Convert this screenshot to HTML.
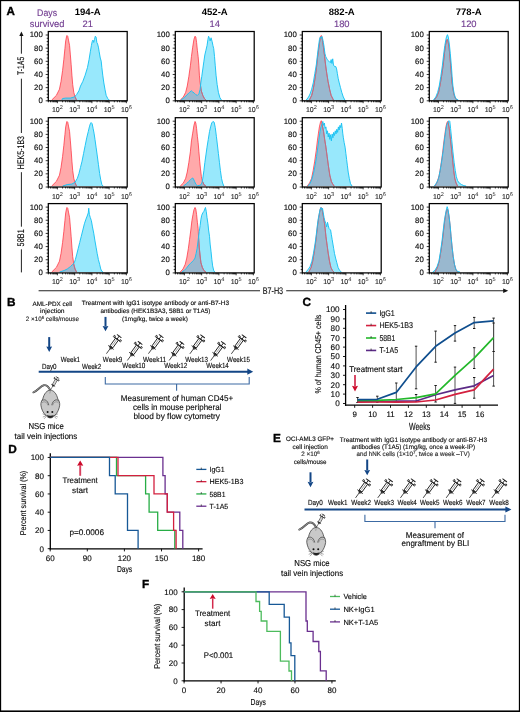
<!DOCTYPE html>
<html><head><meta charset="utf-8"><style>
html,body{margin:0;padding:0;background:#fff;}
svg{display:block;font-family:"Liberation Sans",sans-serif;text-rendering:geometricPrecision;}
</style></head><body>
<svg style="will-change:transform" width="520" height="712" viewBox="0 0 520 712">
<rect width="520" height="712" fill="#fff"/>
<rect x="0.5" y="0.5" width="519" height="711" fill="none" stroke="#000" stroke-width="1.3"/>
<line x1="0" y1="711.2" x2="520" y2="711.2" stroke="#000" stroke-width="1.6"/>
<text x="6.60" y="14.90" font-size="11.6" font-weight="bold" fill="#000" stroke="#000" stroke-width="0.35">A</text>
<text x="37.10" y="15.80" font-size="9.6" fill="#713c90" stroke="#713c90" stroke-width="0.14" textLength="19.90" lengthAdjust="spacingAndGlyphs" >Days</text>
<text x="29.80" y="27.10" font-size="9.6" fill="#713c90" stroke="#713c90" stroke-width="0.14" textLength="34.60" lengthAdjust="spacingAndGlyphs" >survived</text>
<text x="87.75" y="15.20" font-size="9.4" text-anchor="middle" font-weight="bold" fill="#000" textLength="26.00" lengthAdjust="spacingAndGlyphs" >194-A</text>
<text x="87.75" y="27.30" font-size="9.4" text-anchor="middle" fill="#713c90" stroke="#713c90" stroke-width="0.14" >21</text>
<text x="214.75" y="15.20" font-size="9.4" text-anchor="middle" font-weight="bold" fill="#000" textLength="26.00" lengthAdjust="spacingAndGlyphs" >452-A</text>
<text x="214.75" y="27.30" font-size="9.4" text-anchor="middle" fill="#713c90" stroke="#713c90" stroke-width="0.14" >14</text>
<text x="341.75" y="15.20" font-size="9.4" text-anchor="middle" font-weight="bold" fill="#000" textLength="26.00" lengthAdjust="spacingAndGlyphs" >882-A</text>
<text x="341.75" y="27.30" font-size="9.4" text-anchor="middle" fill="#713c90" stroke="#713c90" stroke-width="0.14" >180</text>
<text x="468.75" y="15.20" font-size="9.4" text-anchor="middle" font-weight="bold" fill="#000" textLength="26.00" lengthAdjust="spacingAndGlyphs" >778-A</text>
<text x="468.75" y="27.30" font-size="9.4" text-anchor="middle" fill="#713c90" stroke="#713c90" stroke-width="0.14" >120</text>
<line x1="45.70" y1="100.80" x2="48.30" y2="100.80" stroke="#000" stroke-width="0.8" />
<line x1="46.70" y1="97.51" x2="48.30" y2="97.51" stroke="#000" stroke-width="0.8" />
<line x1="46.70" y1="94.22" x2="48.30" y2="94.22" stroke="#000" stroke-width="0.8" />
<line x1="46.70" y1="90.93" x2="48.30" y2="90.93" stroke="#000" stroke-width="0.8" />
<line x1="45.70" y1="87.64" x2="48.30" y2="87.64" stroke="#000" stroke-width="0.8" />
<line x1="46.70" y1="84.35" x2="48.30" y2="84.35" stroke="#000" stroke-width="0.8" />
<line x1="46.70" y1="81.06" x2="48.30" y2="81.06" stroke="#000" stroke-width="0.8" />
<line x1="46.70" y1="77.77" x2="48.30" y2="77.77" stroke="#000" stroke-width="0.8" />
<line x1="45.70" y1="74.48" x2="48.30" y2="74.48" stroke="#000" stroke-width="0.8" />
<line x1="46.70" y1="71.19" x2="48.30" y2="71.19" stroke="#000" stroke-width="0.8" />
<line x1="46.70" y1="67.90" x2="48.30" y2="67.90" stroke="#000" stroke-width="0.8" />
<line x1="46.70" y1="64.61" x2="48.30" y2="64.61" stroke="#000" stroke-width="0.8" />
<line x1="45.70" y1="61.32" x2="48.30" y2="61.32" stroke="#000" stroke-width="0.8" />
<line x1="46.70" y1="58.03" x2="48.30" y2="58.03" stroke="#000" stroke-width="0.8" />
<line x1="46.70" y1="54.74" x2="48.30" y2="54.74" stroke="#000" stroke-width="0.8" />
<line x1="46.70" y1="51.45" x2="48.30" y2="51.45" stroke="#000" stroke-width="0.8" />
<line x1="45.70" y1="48.16" x2="48.30" y2="48.16" stroke="#000" stroke-width="0.8" />
<line x1="46.70" y1="44.87" x2="48.30" y2="44.87" stroke="#000" stroke-width="0.8" />
<line x1="46.70" y1="41.58" x2="48.30" y2="41.58" stroke="#000" stroke-width="0.8" />
<line x1="46.70" y1="38.29" x2="48.30" y2="38.29" stroke="#000" stroke-width="0.8" />
<line x1="45.70" y1="35.00" x2="48.30" y2="35.00" stroke="#000" stroke-width="0.8" />
<text x="42.80" y="103.25" font-size="7.8" text-anchor="end" stroke="#262626" stroke-width="0.14" >0</text>
<text x="42.80" y="90.09" font-size="7.8" text-anchor="end" stroke="#262626" stroke-width="0.14" >20</text>
<text x="42.80" y="76.93" font-size="7.8" text-anchor="end" stroke="#262626" stroke-width="0.14" >40</text>
<text x="42.80" y="63.77" font-size="7.8" text-anchor="end" stroke="#262626" stroke-width="0.14" >60</text>
<text x="42.80" y="50.61" font-size="7.8" text-anchor="end" stroke="#262626" stroke-width="0.14" >80</text>
<text x="42.80" y="37.45" font-size="7.8" text-anchor="end" stroke="#262626" stroke-width="0.14" >100</text>
<line x1="48.38" y1="100.80" x2="48.38" y2="102.30" stroke="#000" stroke-width="0.8" />
<line x1="50.54" y1="100.80" x2="50.54" y2="102.30" stroke="#000" stroke-width="0.8" />
<line x1="52.21" y1="100.80" x2="52.21" y2="102.30" stroke="#000" stroke-width="0.8" />
<line x1="53.57" y1="100.80" x2="53.57" y2="102.30" stroke="#000" stroke-width="0.8" />
<line x1="54.73" y1="100.80" x2="54.73" y2="102.30" stroke="#000" stroke-width="0.8" />
<line x1="55.73" y1="100.80" x2="55.73" y2="102.30" stroke="#000" stroke-width="0.8" />
<line x1="56.61" y1="100.80" x2="56.61" y2="102.30" stroke="#000" stroke-width="0.8" />
<line x1="57.40" y1="100.80" x2="57.40" y2="103.20" stroke="#000" stroke-width="0.8" />
<line x1="62.59" y1="100.80" x2="62.59" y2="102.30" stroke="#000" stroke-width="0.8" />
<line x1="65.63" y1="100.80" x2="65.63" y2="102.30" stroke="#000" stroke-width="0.8" />
<line x1="67.79" y1="100.80" x2="67.79" y2="102.30" stroke="#000" stroke-width="0.8" />
<line x1="69.46" y1="100.80" x2="69.46" y2="102.30" stroke="#000" stroke-width="0.8" />
<line x1="70.82" y1="100.80" x2="70.82" y2="102.30" stroke="#000" stroke-width="0.8" />
<line x1="71.98" y1="100.80" x2="71.98" y2="102.30" stroke="#000" stroke-width="0.8" />
<line x1="72.98" y1="100.80" x2="72.98" y2="102.30" stroke="#000" stroke-width="0.8" />
<line x1="73.86" y1="100.80" x2="73.86" y2="102.30" stroke="#000" stroke-width="0.8" />
<line x1="74.65" y1="100.80" x2="74.65" y2="103.20" stroke="#000" stroke-width="0.8" />
<line x1="79.84" y1="100.80" x2="79.84" y2="102.30" stroke="#000" stroke-width="0.8" />
<line x1="82.88" y1="100.80" x2="82.88" y2="102.30" stroke="#000" stroke-width="0.8" />
<line x1="85.04" y1="100.80" x2="85.04" y2="102.30" stroke="#000" stroke-width="0.8" />
<line x1="86.71" y1="100.80" x2="86.71" y2="102.30" stroke="#000" stroke-width="0.8" />
<line x1="88.07" y1="100.80" x2="88.07" y2="102.30" stroke="#000" stroke-width="0.8" />
<line x1="89.23" y1="100.80" x2="89.23" y2="102.30" stroke="#000" stroke-width="0.8" />
<line x1="90.23" y1="100.80" x2="90.23" y2="102.30" stroke="#000" stroke-width="0.8" />
<line x1="91.11" y1="100.80" x2="91.11" y2="102.30" stroke="#000" stroke-width="0.8" />
<line x1="91.90" y1="100.80" x2="91.90" y2="103.20" stroke="#000" stroke-width="0.8" />
<line x1="97.09" y1="100.80" x2="97.09" y2="102.30" stroke="#000" stroke-width="0.8" />
<line x1="100.13" y1="100.80" x2="100.13" y2="102.30" stroke="#000" stroke-width="0.8" />
<line x1="102.29" y1="100.80" x2="102.29" y2="102.30" stroke="#000" stroke-width="0.8" />
<line x1="103.96" y1="100.80" x2="103.96" y2="102.30" stroke="#000" stroke-width="0.8" />
<line x1="105.32" y1="100.80" x2="105.32" y2="102.30" stroke="#000" stroke-width="0.8" />
<line x1="106.48" y1="100.80" x2="106.48" y2="102.30" stroke="#000" stroke-width="0.8" />
<line x1="107.48" y1="100.80" x2="107.48" y2="102.30" stroke="#000" stroke-width="0.8" />
<line x1="108.36" y1="100.80" x2="108.36" y2="102.30" stroke="#000" stroke-width="0.8" />
<line x1="109.15" y1="100.80" x2="109.15" y2="103.20" stroke="#000" stroke-width="0.8" />
<line x1="114.34" y1="100.80" x2="114.34" y2="102.30" stroke="#000" stroke-width="0.8" />
<line x1="117.38" y1="100.80" x2="117.38" y2="102.30" stroke="#000" stroke-width="0.8" />
<line x1="119.54" y1="100.80" x2="119.54" y2="102.30" stroke="#000" stroke-width="0.8" />
<line x1="121.21" y1="100.80" x2="121.21" y2="102.30" stroke="#000" stroke-width="0.8" />
<line x1="122.57" y1="100.80" x2="122.57" y2="102.30" stroke="#000" stroke-width="0.8" />
<line x1="123.73" y1="100.80" x2="123.73" y2="102.30" stroke="#000" stroke-width="0.8" />
<line x1="124.73" y1="100.80" x2="124.73" y2="102.30" stroke="#000" stroke-width="0.8" />
<line x1="125.61" y1="100.80" x2="125.61" y2="102.30" stroke="#000" stroke-width="0.8" />
<line x1="126.40" y1="100.80" x2="126.40" y2="103.20" stroke="#000" stroke-width="0.8" />
<text x="57.40" y="112.30" font-size="7.0" text-anchor="middle" fill="#262626" stroke="#262626" stroke-width="0.14">10<tspan dy="-3" font-size="5.6" stroke-width="0">2</tspan></text>
<text x="74.65" y="112.30" font-size="7.0" text-anchor="middle" fill="#262626" stroke="#262626" stroke-width="0.14">10<tspan dy="-3" font-size="5.6" stroke-width="0">3</tspan></text>
<text x="91.90" y="112.30" font-size="7.0" text-anchor="middle" fill="#262626" stroke="#262626" stroke-width="0.14">10<tspan dy="-3" font-size="5.6" stroke-width="0">4</tspan></text>
<text x="109.15" y="112.30" font-size="7.0" text-anchor="middle" fill="#262626" stroke="#262626" stroke-width="0.14">10<tspan dy="-3" font-size="5.6" stroke-width="0">5</tspan></text>
<text x="126.40" y="112.30" font-size="7.0" text-anchor="middle" fill="#262626" stroke="#262626" stroke-width="0.14">10<tspan dy="-3" font-size="5.6" stroke-width="0">6</tspan></text>
<line x1="45.70" y1="187.00" x2="48.30" y2="187.00" stroke="#000" stroke-width="0.8" />
<line x1="46.70" y1="183.71" x2="48.30" y2="183.71" stroke="#000" stroke-width="0.8" />
<line x1="46.70" y1="180.42" x2="48.30" y2="180.42" stroke="#000" stroke-width="0.8" />
<line x1="46.70" y1="177.13" x2="48.30" y2="177.13" stroke="#000" stroke-width="0.8" />
<line x1="45.70" y1="173.84" x2="48.30" y2="173.84" stroke="#000" stroke-width="0.8" />
<line x1="46.70" y1="170.55" x2="48.30" y2="170.55" stroke="#000" stroke-width="0.8" />
<line x1="46.70" y1="167.26" x2="48.30" y2="167.26" stroke="#000" stroke-width="0.8" />
<line x1="46.70" y1="163.97" x2="48.30" y2="163.97" stroke="#000" stroke-width="0.8" />
<line x1="45.70" y1="160.68" x2="48.30" y2="160.68" stroke="#000" stroke-width="0.8" />
<line x1="46.70" y1="157.39" x2="48.30" y2="157.39" stroke="#000" stroke-width="0.8" />
<line x1="46.70" y1="154.10" x2="48.30" y2="154.10" stroke="#000" stroke-width="0.8" />
<line x1="46.70" y1="150.81" x2="48.30" y2="150.81" stroke="#000" stroke-width="0.8" />
<line x1="45.70" y1="147.52" x2="48.30" y2="147.52" stroke="#000" stroke-width="0.8" />
<line x1="46.70" y1="144.23" x2="48.30" y2="144.23" stroke="#000" stroke-width="0.8" />
<line x1="46.70" y1="140.94" x2="48.30" y2="140.94" stroke="#000" stroke-width="0.8" />
<line x1="46.70" y1="137.65" x2="48.30" y2="137.65" stroke="#000" stroke-width="0.8" />
<line x1="45.70" y1="134.36" x2="48.30" y2="134.36" stroke="#000" stroke-width="0.8" />
<line x1="46.70" y1="131.07" x2="48.30" y2="131.07" stroke="#000" stroke-width="0.8" />
<line x1="46.70" y1="127.78" x2="48.30" y2="127.78" stroke="#000" stroke-width="0.8" />
<line x1="46.70" y1="124.49" x2="48.30" y2="124.49" stroke="#000" stroke-width="0.8" />
<line x1="45.70" y1="121.20" x2="48.30" y2="121.20" stroke="#000" stroke-width="0.8" />
<text x="42.80" y="189.45" font-size="7.8" text-anchor="end" stroke="#262626" stroke-width="0.14" >0</text>
<text x="42.80" y="176.29" font-size="7.8" text-anchor="end" stroke="#262626" stroke-width="0.14" >20</text>
<text x="42.80" y="163.13" font-size="7.8" text-anchor="end" stroke="#262626" stroke-width="0.14" >40</text>
<text x="42.80" y="149.97" font-size="7.8" text-anchor="end" stroke="#262626" stroke-width="0.14" >60</text>
<text x="42.80" y="136.81" font-size="7.8" text-anchor="end" stroke="#262626" stroke-width="0.14" >80</text>
<text x="42.80" y="123.65" font-size="7.8" text-anchor="end" stroke="#262626" stroke-width="0.14" >100</text>
<line x1="48.38" y1="187.00" x2="48.38" y2="188.50" stroke="#000" stroke-width="0.8" />
<line x1="50.54" y1="187.00" x2="50.54" y2="188.50" stroke="#000" stroke-width="0.8" />
<line x1="52.21" y1="187.00" x2="52.21" y2="188.50" stroke="#000" stroke-width="0.8" />
<line x1="53.57" y1="187.00" x2="53.57" y2="188.50" stroke="#000" stroke-width="0.8" />
<line x1="54.73" y1="187.00" x2="54.73" y2="188.50" stroke="#000" stroke-width="0.8" />
<line x1="55.73" y1="187.00" x2="55.73" y2="188.50" stroke="#000" stroke-width="0.8" />
<line x1="56.61" y1="187.00" x2="56.61" y2="188.50" stroke="#000" stroke-width="0.8" />
<line x1="57.40" y1="187.00" x2="57.40" y2="189.40" stroke="#000" stroke-width="0.8" />
<line x1="62.59" y1="187.00" x2="62.59" y2="188.50" stroke="#000" stroke-width="0.8" />
<line x1="65.63" y1="187.00" x2="65.63" y2="188.50" stroke="#000" stroke-width="0.8" />
<line x1="67.79" y1="187.00" x2="67.79" y2="188.50" stroke="#000" stroke-width="0.8" />
<line x1="69.46" y1="187.00" x2="69.46" y2="188.50" stroke="#000" stroke-width="0.8" />
<line x1="70.82" y1="187.00" x2="70.82" y2="188.50" stroke="#000" stroke-width="0.8" />
<line x1="71.98" y1="187.00" x2="71.98" y2="188.50" stroke="#000" stroke-width="0.8" />
<line x1="72.98" y1="187.00" x2="72.98" y2="188.50" stroke="#000" stroke-width="0.8" />
<line x1="73.86" y1="187.00" x2="73.86" y2="188.50" stroke="#000" stroke-width="0.8" />
<line x1="74.65" y1="187.00" x2="74.65" y2="189.40" stroke="#000" stroke-width="0.8" />
<line x1="79.84" y1="187.00" x2="79.84" y2="188.50" stroke="#000" stroke-width="0.8" />
<line x1="82.88" y1="187.00" x2="82.88" y2="188.50" stroke="#000" stroke-width="0.8" />
<line x1="85.04" y1="187.00" x2="85.04" y2="188.50" stroke="#000" stroke-width="0.8" />
<line x1="86.71" y1="187.00" x2="86.71" y2="188.50" stroke="#000" stroke-width="0.8" />
<line x1="88.07" y1="187.00" x2="88.07" y2="188.50" stroke="#000" stroke-width="0.8" />
<line x1="89.23" y1="187.00" x2="89.23" y2="188.50" stroke="#000" stroke-width="0.8" />
<line x1="90.23" y1="187.00" x2="90.23" y2="188.50" stroke="#000" stroke-width="0.8" />
<line x1="91.11" y1="187.00" x2="91.11" y2="188.50" stroke="#000" stroke-width="0.8" />
<line x1="91.90" y1="187.00" x2="91.90" y2="189.40" stroke="#000" stroke-width="0.8" />
<line x1="97.09" y1="187.00" x2="97.09" y2="188.50" stroke="#000" stroke-width="0.8" />
<line x1="100.13" y1="187.00" x2="100.13" y2="188.50" stroke="#000" stroke-width="0.8" />
<line x1="102.29" y1="187.00" x2="102.29" y2="188.50" stroke="#000" stroke-width="0.8" />
<line x1="103.96" y1="187.00" x2="103.96" y2="188.50" stroke="#000" stroke-width="0.8" />
<line x1="105.32" y1="187.00" x2="105.32" y2="188.50" stroke="#000" stroke-width="0.8" />
<line x1="106.48" y1="187.00" x2="106.48" y2="188.50" stroke="#000" stroke-width="0.8" />
<line x1="107.48" y1="187.00" x2="107.48" y2="188.50" stroke="#000" stroke-width="0.8" />
<line x1="108.36" y1="187.00" x2="108.36" y2="188.50" stroke="#000" stroke-width="0.8" />
<line x1="109.15" y1="187.00" x2="109.15" y2="189.40" stroke="#000" stroke-width="0.8" />
<line x1="114.34" y1="187.00" x2="114.34" y2="188.50" stroke="#000" stroke-width="0.8" />
<line x1="117.38" y1="187.00" x2="117.38" y2="188.50" stroke="#000" stroke-width="0.8" />
<line x1="119.54" y1="187.00" x2="119.54" y2="188.50" stroke="#000" stroke-width="0.8" />
<line x1="121.21" y1="187.00" x2="121.21" y2="188.50" stroke="#000" stroke-width="0.8" />
<line x1="122.57" y1="187.00" x2="122.57" y2="188.50" stroke="#000" stroke-width="0.8" />
<line x1="123.73" y1="187.00" x2="123.73" y2="188.50" stroke="#000" stroke-width="0.8" />
<line x1="124.73" y1="187.00" x2="124.73" y2="188.50" stroke="#000" stroke-width="0.8" />
<line x1="125.61" y1="187.00" x2="125.61" y2="188.50" stroke="#000" stroke-width="0.8" />
<line x1="126.40" y1="187.00" x2="126.40" y2="189.40" stroke="#000" stroke-width="0.8" />
<text x="57.40" y="198.50" font-size="7.0" text-anchor="middle" fill="#262626" stroke="#262626" stroke-width="0.14">10<tspan dy="-3" font-size="5.6" stroke-width="0">2</tspan></text>
<text x="74.65" y="198.50" font-size="7.0" text-anchor="middle" fill="#262626" stroke="#262626" stroke-width="0.14">10<tspan dy="-3" font-size="5.6" stroke-width="0">3</tspan></text>
<text x="91.90" y="198.50" font-size="7.0" text-anchor="middle" fill="#262626" stroke="#262626" stroke-width="0.14">10<tspan dy="-3" font-size="5.6" stroke-width="0">4</tspan></text>
<text x="109.15" y="198.50" font-size="7.0" text-anchor="middle" fill="#262626" stroke="#262626" stroke-width="0.14">10<tspan dy="-3" font-size="5.6" stroke-width="0">5</tspan></text>
<text x="126.40" y="198.50" font-size="7.0" text-anchor="middle" fill="#262626" stroke="#262626" stroke-width="0.14">10<tspan dy="-3" font-size="5.6" stroke-width="0">6</tspan></text>
<line x1="45.70" y1="272.90" x2="48.30" y2="272.90" stroke="#000" stroke-width="0.8" />
<line x1="46.70" y1="269.61" x2="48.30" y2="269.61" stroke="#000" stroke-width="0.8" />
<line x1="46.70" y1="266.32" x2="48.30" y2="266.32" stroke="#000" stroke-width="0.8" />
<line x1="46.70" y1="263.03" x2="48.30" y2="263.03" stroke="#000" stroke-width="0.8" />
<line x1="45.70" y1="259.74" x2="48.30" y2="259.74" stroke="#000" stroke-width="0.8" />
<line x1="46.70" y1="256.45" x2="48.30" y2="256.45" stroke="#000" stroke-width="0.8" />
<line x1="46.70" y1="253.16" x2="48.30" y2="253.16" stroke="#000" stroke-width="0.8" />
<line x1="46.70" y1="249.87" x2="48.30" y2="249.87" stroke="#000" stroke-width="0.8" />
<line x1="45.70" y1="246.58" x2="48.30" y2="246.58" stroke="#000" stroke-width="0.8" />
<line x1="46.70" y1="243.29" x2="48.30" y2="243.29" stroke="#000" stroke-width="0.8" />
<line x1="46.70" y1="240.00" x2="48.30" y2="240.00" stroke="#000" stroke-width="0.8" />
<line x1="46.70" y1="236.71" x2="48.30" y2="236.71" stroke="#000" stroke-width="0.8" />
<line x1="45.70" y1="233.42" x2="48.30" y2="233.42" stroke="#000" stroke-width="0.8" />
<line x1="46.70" y1="230.13" x2="48.30" y2="230.13" stroke="#000" stroke-width="0.8" />
<line x1="46.70" y1="226.84" x2="48.30" y2="226.84" stroke="#000" stroke-width="0.8" />
<line x1="46.70" y1="223.55" x2="48.30" y2="223.55" stroke="#000" stroke-width="0.8" />
<line x1="45.70" y1="220.26" x2="48.30" y2="220.26" stroke="#000" stroke-width="0.8" />
<line x1="46.70" y1="216.97" x2="48.30" y2="216.97" stroke="#000" stroke-width="0.8" />
<line x1="46.70" y1="213.68" x2="48.30" y2="213.68" stroke="#000" stroke-width="0.8" />
<line x1="46.70" y1="210.39" x2="48.30" y2="210.39" stroke="#000" stroke-width="0.8" />
<line x1="45.70" y1="207.10" x2="48.30" y2="207.10" stroke="#000" stroke-width="0.8" />
<text x="42.80" y="275.35" font-size="7.8" text-anchor="end" stroke="#262626" stroke-width="0.14" >0</text>
<text x="42.80" y="262.19" font-size="7.8" text-anchor="end" stroke="#262626" stroke-width="0.14" >20</text>
<text x="42.80" y="249.03" font-size="7.8" text-anchor="end" stroke="#262626" stroke-width="0.14" >40</text>
<text x="42.80" y="235.87" font-size="7.8" text-anchor="end" stroke="#262626" stroke-width="0.14" >60</text>
<text x="42.80" y="222.71" font-size="7.8" text-anchor="end" stroke="#262626" stroke-width="0.14" >80</text>
<text x="42.80" y="209.55" font-size="7.8" text-anchor="end" stroke="#262626" stroke-width="0.14" >100</text>
<line x1="48.38" y1="272.90" x2="48.38" y2="274.40" stroke="#000" stroke-width="0.8" />
<line x1="50.54" y1="272.90" x2="50.54" y2="274.40" stroke="#000" stroke-width="0.8" />
<line x1="52.21" y1="272.90" x2="52.21" y2="274.40" stroke="#000" stroke-width="0.8" />
<line x1="53.57" y1="272.90" x2="53.57" y2="274.40" stroke="#000" stroke-width="0.8" />
<line x1="54.73" y1="272.90" x2="54.73" y2="274.40" stroke="#000" stroke-width="0.8" />
<line x1="55.73" y1="272.90" x2="55.73" y2="274.40" stroke="#000" stroke-width="0.8" />
<line x1="56.61" y1="272.90" x2="56.61" y2="274.40" stroke="#000" stroke-width="0.8" />
<line x1="57.40" y1="272.90" x2="57.40" y2="275.30" stroke="#000" stroke-width="0.8" />
<line x1="62.59" y1="272.90" x2="62.59" y2="274.40" stroke="#000" stroke-width="0.8" />
<line x1="65.63" y1="272.90" x2="65.63" y2="274.40" stroke="#000" stroke-width="0.8" />
<line x1="67.79" y1="272.90" x2="67.79" y2="274.40" stroke="#000" stroke-width="0.8" />
<line x1="69.46" y1="272.90" x2="69.46" y2="274.40" stroke="#000" stroke-width="0.8" />
<line x1="70.82" y1="272.90" x2="70.82" y2="274.40" stroke="#000" stroke-width="0.8" />
<line x1="71.98" y1="272.90" x2="71.98" y2="274.40" stroke="#000" stroke-width="0.8" />
<line x1="72.98" y1="272.90" x2="72.98" y2="274.40" stroke="#000" stroke-width="0.8" />
<line x1="73.86" y1="272.90" x2="73.86" y2="274.40" stroke="#000" stroke-width="0.8" />
<line x1="74.65" y1="272.90" x2="74.65" y2="275.30" stroke="#000" stroke-width="0.8" />
<line x1="79.84" y1="272.90" x2="79.84" y2="274.40" stroke="#000" stroke-width="0.8" />
<line x1="82.88" y1="272.90" x2="82.88" y2="274.40" stroke="#000" stroke-width="0.8" />
<line x1="85.04" y1="272.90" x2="85.04" y2="274.40" stroke="#000" stroke-width="0.8" />
<line x1="86.71" y1="272.90" x2="86.71" y2="274.40" stroke="#000" stroke-width="0.8" />
<line x1="88.07" y1="272.90" x2="88.07" y2="274.40" stroke="#000" stroke-width="0.8" />
<line x1="89.23" y1="272.90" x2="89.23" y2="274.40" stroke="#000" stroke-width="0.8" />
<line x1="90.23" y1="272.90" x2="90.23" y2="274.40" stroke="#000" stroke-width="0.8" />
<line x1="91.11" y1="272.90" x2="91.11" y2="274.40" stroke="#000" stroke-width="0.8" />
<line x1="91.90" y1="272.90" x2="91.90" y2="275.30" stroke="#000" stroke-width="0.8" />
<line x1="97.09" y1="272.90" x2="97.09" y2="274.40" stroke="#000" stroke-width="0.8" />
<line x1="100.13" y1="272.90" x2="100.13" y2="274.40" stroke="#000" stroke-width="0.8" />
<line x1="102.29" y1="272.90" x2="102.29" y2="274.40" stroke="#000" stroke-width="0.8" />
<line x1="103.96" y1="272.90" x2="103.96" y2="274.40" stroke="#000" stroke-width="0.8" />
<line x1="105.32" y1="272.90" x2="105.32" y2="274.40" stroke="#000" stroke-width="0.8" />
<line x1="106.48" y1="272.90" x2="106.48" y2="274.40" stroke="#000" stroke-width="0.8" />
<line x1="107.48" y1="272.90" x2="107.48" y2="274.40" stroke="#000" stroke-width="0.8" />
<line x1="108.36" y1="272.90" x2="108.36" y2="274.40" stroke="#000" stroke-width="0.8" />
<line x1="109.15" y1="272.90" x2="109.15" y2="275.30" stroke="#000" stroke-width="0.8" />
<line x1="114.34" y1="272.90" x2="114.34" y2="274.40" stroke="#000" stroke-width="0.8" />
<line x1="117.38" y1="272.90" x2="117.38" y2="274.40" stroke="#000" stroke-width="0.8" />
<line x1="119.54" y1="272.90" x2="119.54" y2="274.40" stroke="#000" stroke-width="0.8" />
<line x1="121.21" y1="272.90" x2="121.21" y2="274.40" stroke="#000" stroke-width="0.8" />
<line x1="122.57" y1="272.90" x2="122.57" y2="274.40" stroke="#000" stroke-width="0.8" />
<line x1="123.73" y1="272.90" x2="123.73" y2="274.40" stroke="#000" stroke-width="0.8" />
<line x1="124.73" y1="272.90" x2="124.73" y2="274.40" stroke="#000" stroke-width="0.8" />
<line x1="125.61" y1="272.90" x2="125.61" y2="274.40" stroke="#000" stroke-width="0.8" />
<line x1="126.40" y1="272.90" x2="126.40" y2="275.30" stroke="#000" stroke-width="0.8" />
<text x="57.40" y="284.40" font-size="7.0" text-anchor="middle" fill="#262626" stroke="#262626" stroke-width="0.14">10<tspan dy="-3" font-size="5.6" stroke-width="0">2</tspan></text>
<text x="74.65" y="284.40" font-size="7.0" text-anchor="middle" fill="#262626" stroke="#262626" stroke-width="0.14">10<tspan dy="-3" font-size="5.6" stroke-width="0">3</tspan></text>
<text x="91.90" y="284.40" font-size="7.0" text-anchor="middle" fill="#262626" stroke="#262626" stroke-width="0.14">10<tspan dy="-3" font-size="5.6" stroke-width="0">4</tspan></text>
<text x="109.15" y="284.40" font-size="7.0" text-anchor="middle" fill="#262626" stroke="#262626" stroke-width="0.14">10<tspan dy="-3" font-size="5.6" stroke-width="0">5</tspan></text>
<text x="126.40" y="284.40" font-size="7.0" text-anchor="middle" fill="#262626" stroke="#262626" stroke-width="0.14">10<tspan dy="-3" font-size="5.6" stroke-width="0">6</tspan></text>
<line x1="172.70" y1="100.80" x2="175.30" y2="100.80" stroke="#000" stroke-width="0.8" />
<line x1="173.70" y1="97.51" x2="175.30" y2="97.51" stroke="#000" stroke-width="0.8" />
<line x1="173.70" y1="94.22" x2="175.30" y2="94.22" stroke="#000" stroke-width="0.8" />
<line x1="173.70" y1="90.93" x2="175.30" y2="90.93" stroke="#000" stroke-width="0.8" />
<line x1="172.70" y1="87.64" x2="175.30" y2="87.64" stroke="#000" stroke-width="0.8" />
<line x1="173.70" y1="84.35" x2="175.30" y2="84.35" stroke="#000" stroke-width="0.8" />
<line x1="173.70" y1="81.06" x2="175.30" y2="81.06" stroke="#000" stroke-width="0.8" />
<line x1="173.70" y1="77.77" x2="175.30" y2="77.77" stroke="#000" stroke-width="0.8" />
<line x1="172.70" y1="74.48" x2="175.30" y2="74.48" stroke="#000" stroke-width="0.8" />
<line x1="173.70" y1="71.19" x2="175.30" y2="71.19" stroke="#000" stroke-width="0.8" />
<line x1="173.70" y1="67.90" x2="175.30" y2="67.90" stroke="#000" stroke-width="0.8" />
<line x1="173.70" y1="64.61" x2="175.30" y2="64.61" stroke="#000" stroke-width="0.8" />
<line x1="172.70" y1="61.32" x2="175.30" y2="61.32" stroke="#000" stroke-width="0.8" />
<line x1="173.70" y1="58.03" x2="175.30" y2="58.03" stroke="#000" stroke-width="0.8" />
<line x1="173.70" y1="54.74" x2="175.30" y2="54.74" stroke="#000" stroke-width="0.8" />
<line x1="173.70" y1="51.45" x2="175.30" y2="51.45" stroke="#000" stroke-width="0.8" />
<line x1="172.70" y1="48.16" x2="175.30" y2="48.16" stroke="#000" stroke-width="0.8" />
<line x1="173.70" y1="44.87" x2="175.30" y2="44.87" stroke="#000" stroke-width="0.8" />
<line x1="173.70" y1="41.58" x2="175.30" y2="41.58" stroke="#000" stroke-width="0.8" />
<line x1="173.70" y1="38.29" x2="175.30" y2="38.29" stroke="#000" stroke-width="0.8" />
<line x1="172.70" y1="35.00" x2="175.30" y2="35.00" stroke="#000" stroke-width="0.8" />
<text x="169.80" y="103.25" font-size="7.8" text-anchor="end" stroke="#262626" stroke-width="0.14" >0</text>
<text x="169.80" y="90.09" font-size="7.8" text-anchor="end" stroke="#262626" stroke-width="0.14" >20</text>
<text x="169.80" y="76.93" font-size="7.8" text-anchor="end" stroke="#262626" stroke-width="0.14" >40</text>
<text x="169.80" y="63.77" font-size="7.8" text-anchor="end" stroke="#262626" stroke-width="0.14" >60</text>
<text x="169.80" y="50.61" font-size="7.8" text-anchor="end" stroke="#262626" stroke-width="0.14" >80</text>
<text x="169.80" y="37.45" font-size="7.8" text-anchor="end" stroke="#262626" stroke-width="0.14" >100</text>
<line x1="175.38" y1="100.80" x2="175.38" y2="102.30" stroke="#000" stroke-width="0.8" />
<line x1="177.54" y1="100.80" x2="177.54" y2="102.30" stroke="#000" stroke-width="0.8" />
<line x1="179.21" y1="100.80" x2="179.21" y2="102.30" stroke="#000" stroke-width="0.8" />
<line x1="180.57" y1="100.80" x2="180.57" y2="102.30" stroke="#000" stroke-width="0.8" />
<line x1="181.73" y1="100.80" x2="181.73" y2="102.30" stroke="#000" stroke-width="0.8" />
<line x1="182.73" y1="100.80" x2="182.73" y2="102.30" stroke="#000" stroke-width="0.8" />
<line x1="183.61" y1="100.80" x2="183.61" y2="102.30" stroke="#000" stroke-width="0.8" />
<line x1="184.40" y1="100.80" x2="184.40" y2="103.20" stroke="#000" stroke-width="0.8" />
<line x1="189.59" y1="100.80" x2="189.59" y2="102.30" stroke="#000" stroke-width="0.8" />
<line x1="192.63" y1="100.80" x2="192.63" y2="102.30" stroke="#000" stroke-width="0.8" />
<line x1="194.79" y1="100.80" x2="194.79" y2="102.30" stroke="#000" stroke-width="0.8" />
<line x1="196.46" y1="100.80" x2="196.46" y2="102.30" stroke="#000" stroke-width="0.8" />
<line x1="197.82" y1="100.80" x2="197.82" y2="102.30" stroke="#000" stroke-width="0.8" />
<line x1="198.98" y1="100.80" x2="198.98" y2="102.30" stroke="#000" stroke-width="0.8" />
<line x1="199.98" y1="100.80" x2="199.98" y2="102.30" stroke="#000" stroke-width="0.8" />
<line x1="200.86" y1="100.80" x2="200.86" y2="102.30" stroke="#000" stroke-width="0.8" />
<line x1="201.65" y1="100.80" x2="201.65" y2="103.20" stroke="#000" stroke-width="0.8" />
<line x1="206.84" y1="100.80" x2="206.84" y2="102.30" stroke="#000" stroke-width="0.8" />
<line x1="209.88" y1="100.80" x2="209.88" y2="102.30" stroke="#000" stroke-width="0.8" />
<line x1="212.04" y1="100.80" x2="212.04" y2="102.30" stroke="#000" stroke-width="0.8" />
<line x1="213.71" y1="100.80" x2="213.71" y2="102.30" stroke="#000" stroke-width="0.8" />
<line x1="215.07" y1="100.80" x2="215.07" y2="102.30" stroke="#000" stroke-width="0.8" />
<line x1="216.23" y1="100.80" x2="216.23" y2="102.30" stroke="#000" stroke-width="0.8" />
<line x1="217.23" y1="100.80" x2="217.23" y2="102.30" stroke="#000" stroke-width="0.8" />
<line x1="218.11" y1="100.80" x2="218.11" y2="102.30" stroke="#000" stroke-width="0.8" />
<line x1="218.90" y1="100.80" x2="218.90" y2="103.20" stroke="#000" stroke-width="0.8" />
<line x1="224.09" y1="100.80" x2="224.09" y2="102.30" stroke="#000" stroke-width="0.8" />
<line x1="227.13" y1="100.80" x2="227.13" y2="102.30" stroke="#000" stroke-width="0.8" />
<line x1="229.29" y1="100.80" x2="229.29" y2="102.30" stroke="#000" stroke-width="0.8" />
<line x1="230.96" y1="100.80" x2="230.96" y2="102.30" stroke="#000" stroke-width="0.8" />
<line x1="232.32" y1="100.80" x2="232.32" y2="102.30" stroke="#000" stroke-width="0.8" />
<line x1="233.48" y1="100.80" x2="233.48" y2="102.30" stroke="#000" stroke-width="0.8" />
<line x1="234.48" y1="100.80" x2="234.48" y2="102.30" stroke="#000" stroke-width="0.8" />
<line x1="235.36" y1="100.80" x2="235.36" y2="102.30" stroke="#000" stroke-width="0.8" />
<line x1="236.15" y1="100.80" x2="236.15" y2="103.20" stroke="#000" stroke-width="0.8" />
<line x1="241.34" y1="100.80" x2="241.34" y2="102.30" stroke="#000" stroke-width="0.8" />
<line x1="244.38" y1="100.80" x2="244.38" y2="102.30" stroke="#000" stroke-width="0.8" />
<line x1="246.54" y1="100.80" x2="246.54" y2="102.30" stroke="#000" stroke-width="0.8" />
<line x1="248.21" y1="100.80" x2="248.21" y2="102.30" stroke="#000" stroke-width="0.8" />
<line x1="249.57" y1="100.80" x2="249.57" y2="102.30" stroke="#000" stroke-width="0.8" />
<line x1="250.73" y1="100.80" x2="250.73" y2="102.30" stroke="#000" stroke-width="0.8" />
<line x1="251.73" y1="100.80" x2="251.73" y2="102.30" stroke="#000" stroke-width="0.8" />
<line x1="252.61" y1="100.80" x2="252.61" y2="102.30" stroke="#000" stroke-width="0.8" />
<line x1="253.40" y1="100.80" x2="253.40" y2="103.20" stroke="#000" stroke-width="0.8" />
<text x="184.40" y="112.30" font-size="7.0" text-anchor="middle" fill="#262626" stroke="#262626" stroke-width="0.14">10<tspan dy="-3" font-size="5.6" stroke-width="0">2</tspan></text>
<text x="201.65" y="112.30" font-size="7.0" text-anchor="middle" fill="#262626" stroke="#262626" stroke-width="0.14">10<tspan dy="-3" font-size="5.6" stroke-width="0">3</tspan></text>
<text x="218.90" y="112.30" font-size="7.0" text-anchor="middle" fill="#262626" stroke="#262626" stroke-width="0.14">10<tspan dy="-3" font-size="5.6" stroke-width="0">4</tspan></text>
<text x="236.15" y="112.30" font-size="7.0" text-anchor="middle" fill="#262626" stroke="#262626" stroke-width="0.14">10<tspan dy="-3" font-size="5.6" stroke-width="0">5</tspan></text>
<text x="253.40" y="112.30" font-size="7.0" text-anchor="middle" fill="#262626" stroke="#262626" stroke-width="0.14">10<tspan dy="-3" font-size="5.6" stroke-width="0">6</tspan></text>
<line x1="172.70" y1="187.00" x2="175.30" y2="187.00" stroke="#000" stroke-width="0.8" />
<line x1="173.70" y1="183.71" x2="175.30" y2="183.71" stroke="#000" stroke-width="0.8" />
<line x1="173.70" y1="180.42" x2="175.30" y2="180.42" stroke="#000" stroke-width="0.8" />
<line x1="173.70" y1="177.13" x2="175.30" y2="177.13" stroke="#000" stroke-width="0.8" />
<line x1="172.70" y1="173.84" x2="175.30" y2="173.84" stroke="#000" stroke-width="0.8" />
<line x1="173.70" y1="170.55" x2="175.30" y2="170.55" stroke="#000" stroke-width="0.8" />
<line x1="173.70" y1="167.26" x2="175.30" y2="167.26" stroke="#000" stroke-width="0.8" />
<line x1="173.70" y1="163.97" x2="175.30" y2="163.97" stroke="#000" stroke-width="0.8" />
<line x1="172.70" y1="160.68" x2="175.30" y2="160.68" stroke="#000" stroke-width="0.8" />
<line x1="173.70" y1="157.39" x2="175.30" y2="157.39" stroke="#000" stroke-width="0.8" />
<line x1="173.70" y1="154.10" x2="175.30" y2="154.10" stroke="#000" stroke-width="0.8" />
<line x1="173.70" y1="150.81" x2="175.30" y2="150.81" stroke="#000" stroke-width="0.8" />
<line x1="172.70" y1="147.52" x2="175.30" y2="147.52" stroke="#000" stroke-width="0.8" />
<line x1="173.70" y1="144.23" x2="175.30" y2="144.23" stroke="#000" stroke-width="0.8" />
<line x1="173.70" y1="140.94" x2="175.30" y2="140.94" stroke="#000" stroke-width="0.8" />
<line x1="173.70" y1="137.65" x2="175.30" y2="137.65" stroke="#000" stroke-width="0.8" />
<line x1="172.70" y1="134.36" x2="175.30" y2="134.36" stroke="#000" stroke-width="0.8" />
<line x1="173.70" y1="131.07" x2="175.30" y2="131.07" stroke="#000" stroke-width="0.8" />
<line x1="173.70" y1="127.78" x2="175.30" y2="127.78" stroke="#000" stroke-width="0.8" />
<line x1="173.70" y1="124.49" x2="175.30" y2="124.49" stroke="#000" stroke-width="0.8" />
<line x1="172.70" y1="121.20" x2="175.30" y2="121.20" stroke="#000" stroke-width="0.8" />
<text x="169.80" y="189.45" font-size="7.8" text-anchor="end" stroke="#262626" stroke-width="0.14" >0</text>
<text x="169.80" y="176.29" font-size="7.8" text-anchor="end" stroke="#262626" stroke-width="0.14" >20</text>
<text x="169.80" y="163.13" font-size="7.8" text-anchor="end" stroke="#262626" stroke-width="0.14" >40</text>
<text x="169.80" y="149.97" font-size="7.8" text-anchor="end" stroke="#262626" stroke-width="0.14" >60</text>
<text x="169.80" y="136.81" font-size="7.8" text-anchor="end" stroke="#262626" stroke-width="0.14" >80</text>
<text x="169.80" y="123.65" font-size="7.8" text-anchor="end" stroke="#262626" stroke-width="0.14" >100</text>
<line x1="175.38" y1="187.00" x2="175.38" y2="188.50" stroke="#000" stroke-width="0.8" />
<line x1="177.54" y1="187.00" x2="177.54" y2="188.50" stroke="#000" stroke-width="0.8" />
<line x1="179.21" y1="187.00" x2="179.21" y2="188.50" stroke="#000" stroke-width="0.8" />
<line x1="180.57" y1="187.00" x2="180.57" y2="188.50" stroke="#000" stroke-width="0.8" />
<line x1="181.73" y1="187.00" x2="181.73" y2="188.50" stroke="#000" stroke-width="0.8" />
<line x1="182.73" y1="187.00" x2="182.73" y2="188.50" stroke="#000" stroke-width="0.8" />
<line x1="183.61" y1="187.00" x2="183.61" y2="188.50" stroke="#000" stroke-width="0.8" />
<line x1="184.40" y1="187.00" x2="184.40" y2="189.40" stroke="#000" stroke-width="0.8" />
<line x1="189.59" y1="187.00" x2="189.59" y2="188.50" stroke="#000" stroke-width="0.8" />
<line x1="192.63" y1="187.00" x2="192.63" y2="188.50" stroke="#000" stroke-width="0.8" />
<line x1="194.79" y1="187.00" x2="194.79" y2="188.50" stroke="#000" stroke-width="0.8" />
<line x1="196.46" y1="187.00" x2="196.46" y2="188.50" stroke="#000" stroke-width="0.8" />
<line x1="197.82" y1="187.00" x2="197.82" y2="188.50" stroke="#000" stroke-width="0.8" />
<line x1="198.98" y1="187.00" x2="198.98" y2="188.50" stroke="#000" stroke-width="0.8" />
<line x1="199.98" y1="187.00" x2="199.98" y2="188.50" stroke="#000" stroke-width="0.8" />
<line x1="200.86" y1="187.00" x2="200.86" y2="188.50" stroke="#000" stroke-width="0.8" />
<line x1="201.65" y1="187.00" x2="201.65" y2="189.40" stroke="#000" stroke-width="0.8" />
<line x1="206.84" y1="187.00" x2="206.84" y2="188.50" stroke="#000" stroke-width="0.8" />
<line x1="209.88" y1="187.00" x2="209.88" y2="188.50" stroke="#000" stroke-width="0.8" />
<line x1="212.04" y1="187.00" x2="212.04" y2="188.50" stroke="#000" stroke-width="0.8" />
<line x1="213.71" y1="187.00" x2="213.71" y2="188.50" stroke="#000" stroke-width="0.8" />
<line x1="215.07" y1="187.00" x2="215.07" y2="188.50" stroke="#000" stroke-width="0.8" />
<line x1="216.23" y1="187.00" x2="216.23" y2="188.50" stroke="#000" stroke-width="0.8" />
<line x1="217.23" y1="187.00" x2="217.23" y2="188.50" stroke="#000" stroke-width="0.8" />
<line x1="218.11" y1="187.00" x2="218.11" y2="188.50" stroke="#000" stroke-width="0.8" />
<line x1="218.90" y1="187.00" x2="218.90" y2="189.40" stroke="#000" stroke-width="0.8" />
<line x1="224.09" y1="187.00" x2="224.09" y2="188.50" stroke="#000" stroke-width="0.8" />
<line x1="227.13" y1="187.00" x2="227.13" y2="188.50" stroke="#000" stroke-width="0.8" />
<line x1="229.29" y1="187.00" x2="229.29" y2="188.50" stroke="#000" stroke-width="0.8" />
<line x1="230.96" y1="187.00" x2="230.96" y2="188.50" stroke="#000" stroke-width="0.8" />
<line x1="232.32" y1="187.00" x2="232.32" y2="188.50" stroke="#000" stroke-width="0.8" />
<line x1="233.48" y1="187.00" x2="233.48" y2="188.50" stroke="#000" stroke-width="0.8" />
<line x1="234.48" y1="187.00" x2="234.48" y2="188.50" stroke="#000" stroke-width="0.8" />
<line x1="235.36" y1="187.00" x2="235.36" y2="188.50" stroke="#000" stroke-width="0.8" />
<line x1="236.15" y1="187.00" x2="236.15" y2="189.40" stroke="#000" stroke-width="0.8" />
<line x1="241.34" y1="187.00" x2="241.34" y2="188.50" stroke="#000" stroke-width="0.8" />
<line x1="244.38" y1="187.00" x2="244.38" y2="188.50" stroke="#000" stroke-width="0.8" />
<line x1="246.54" y1="187.00" x2="246.54" y2="188.50" stroke="#000" stroke-width="0.8" />
<line x1="248.21" y1="187.00" x2="248.21" y2="188.50" stroke="#000" stroke-width="0.8" />
<line x1="249.57" y1="187.00" x2="249.57" y2="188.50" stroke="#000" stroke-width="0.8" />
<line x1="250.73" y1="187.00" x2="250.73" y2="188.50" stroke="#000" stroke-width="0.8" />
<line x1="251.73" y1="187.00" x2="251.73" y2="188.50" stroke="#000" stroke-width="0.8" />
<line x1="252.61" y1="187.00" x2="252.61" y2="188.50" stroke="#000" stroke-width="0.8" />
<line x1="253.40" y1="187.00" x2="253.40" y2="189.40" stroke="#000" stroke-width="0.8" />
<text x="184.40" y="198.50" font-size="7.0" text-anchor="middle" fill="#262626" stroke="#262626" stroke-width="0.14">10<tspan dy="-3" font-size="5.6" stroke-width="0">2</tspan></text>
<text x="201.65" y="198.50" font-size="7.0" text-anchor="middle" fill="#262626" stroke="#262626" stroke-width="0.14">10<tspan dy="-3" font-size="5.6" stroke-width="0">3</tspan></text>
<text x="218.90" y="198.50" font-size="7.0" text-anchor="middle" fill="#262626" stroke="#262626" stroke-width="0.14">10<tspan dy="-3" font-size="5.6" stroke-width="0">4</tspan></text>
<text x="236.15" y="198.50" font-size="7.0" text-anchor="middle" fill="#262626" stroke="#262626" stroke-width="0.14">10<tspan dy="-3" font-size="5.6" stroke-width="0">5</tspan></text>
<text x="253.40" y="198.50" font-size="7.0" text-anchor="middle" fill="#262626" stroke="#262626" stroke-width="0.14">10<tspan dy="-3" font-size="5.6" stroke-width="0">6</tspan></text>
<line x1="172.70" y1="272.90" x2="175.30" y2="272.90" stroke="#000" stroke-width="0.8" />
<line x1="173.70" y1="269.61" x2="175.30" y2="269.61" stroke="#000" stroke-width="0.8" />
<line x1="173.70" y1="266.32" x2="175.30" y2="266.32" stroke="#000" stroke-width="0.8" />
<line x1="173.70" y1="263.03" x2="175.30" y2="263.03" stroke="#000" stroke-width="0.8" />
<line x1="172.70" y1="259.74" x2="175.30" y2="259.74" stroke="#000" stroke-width="0.8" />
<line x1="173.70" y1="256.45" x2="175.30" y2="256.45" stroke="#000" stroke-width="0.8" />
<line x1="173.70" y1="253.16" x2="175.30" y2="253.16" stroke="#000" stroke-width="0.8" />
<line x1="173.70" y1="249.87" x2="175.30" y2="249.87" stroke="#000" stroke-width="0.8" />
<line x1="172.70" y1="246.58" x2="175.30" y2="246.58" stroke="#000" stroke-width="0.8" />
<line x1="173.70" y1="243.29" x2="175.30" y2="243.29" stroke="#000" stroke-width="0.8" />
<line x1="173.70" y1="240.00" x2="175.30" y2="240.00" stroke="#000" stroke-width="0.8" />
<line x1="173.70" y1="236.71" x2="175.30" y2="236.71" stroke="#000" stroke-width="0.8" />
<line x1="172.70" y1="233.42" x2="175.30" y2="233.42" stroke="#000" stroke-width="0.8" />
<line x1="173.70" y1="230.13" x2="175.30" y2="230.13" stroke="#000" stroke-width="0.8" />
<line x1="173.70" y1="226.84" x2="175.30" y2="226.84" stroke="#000" stroke-width="0.8" />
<line x1="173.70" y1="223.55" x2="175.30" y2="223.55" stroke="#000" stroke-width="0.8" />
<line x1="172.70" y1="220.26" x2="175.30" y2="220.26" stroke="#000" stroke-width="0.8" />
<line x1="173.70" y1="216.97" x2="175.30" y2="216.97" stroke="#000" stroke-width="0.8" />
<line x1="173.70" y1="213.68" x2="175.30" y2="213.68" stroke="#000" stroke-width="0.8" />
<line x1="173.70" y1="210.39" x2="175.30" y2="210.39" stroke="#000" stroke-width="0.8" />
<line x1="172.70" y1="207.10" x2="175.30" y2="207.10" stroke="#000" stroke-width="0.8" />
<text x="169.80" y="275.35" font-size="7.8" text-anchor="end" stroke="#262626" stroke-width="0.14" >0</text>
<text x="169.80" y="262.19" font-size="7.8" text-anchor="end" stroke="#262626" stroke-width="0.14" >20</text>
<text x="169.80" y="249.03" font-size="7.8" text-anchor="end" stroke="#262626" stroke-width="0.14" >40</text>
<text x="169.80" y="235.87" font-size="7.8" text-anchor="end" stroke="#262626" stroke-width="0.14" >60</text>
<text x="169.80" y="222.71" font-size="7.8" text-anchor="end" stroke="#262626" stroke-width="0.14" >80</text>
<text x="169.80" y="209.55" font-size="7.8" text-anchor="end" stroke="#262626" stroke-width="0.14" >100</text>
<line x1="175.38" y1="272.90" x2="175.38" y2="274.40" stroke="#000" stroke-width="0.8" />
<line x1="177.54" y1="272.90" x2="177.54" y2="274.40" stroke="#000" stroke-width="0.8" />
<line x1="179.21" y1="272.90" x2="179.21" y2="274.40" stroke="#000" stroke-width="0.8" />
<line x1="180.57" y1="272.90" x2="180.57" y2="274.40" stroke="#000" stroke-width="0.8" />
<line x1="181.73" y1="272.90" x2="181.73" y2="274.40" stroke="#000" stroke-width="0.8" />
<line x1="182.73" y1="272.90" x2="182.73" y2="274.40" stroke="#000" stroke-width="0.8" />
<line x1="183.61" y1="272.90" x2="183.61" y2="274.40" stroke="#000" stroke-width="0.8" />
<line x1="184.40" y1="272.90" x2="184.40" y2="275.30" stroke="#000" stroke-width="0.8" />
<line x1="189.59" y1="272.90" x2="189.59" y2="274.40" stroke="#000" stroke-width="0.8" />
<line x1="192.63" y1="272.90" x2="192.63" y2="274.40" stroke="#000" stroke-width="0.8" />
<line x1="194.79" y1="272.90" x2="194.79" y2="274.40" stroke="#000" stroke-width="0.8" />
<line x1="196.46" y1="272.90" x2="196.46" y2="274.40" stroke="#000" stroke-width="0.8" />
<line x1="197.82" y1="272.90" x2="197.82" y2="274.40" stroke="#000" stroke-width="0.8" />
<line x1="198.98" y1="272.90" x2="198.98" y2="274.40" stroke="#000" stroke-width="0.8" />
<line x1="199.98" y1="272.90" x2="199.98" y2="274.40" stroke="#000" stroke-width="0.8" />
<line x1="200.86" y1="272.90" x2="200.86" y2="274.40" stroke="#000" stroke-width="0.8" />
<line x1="201.65" y1="272.90" x2="201.65" y2="275.30" stroke="#000" stroke-width="0.8" />
<line x1="206.84" y1="272.90" x2="206.84" y2="274.40" stroke="#000" stroke-width="0.8" />
<line x1="209.88" y1="272.90" x2="209.88" y2="274.40" stroke="#000" stroke-width="0.8" />
<line x1="212.04" y1="272.90" x2="212.04" y2="274.40" stroke="#000" stroke-width="0.8" />
<line x1="213.71" y1="272.90" x2="213.71" y2="274.40" stroke="#000" stroke-width="0.8" />
<line x1="215.07" y1="272.90" x2="215.07" y2="274.40" stroke="#000" stroke-width="0.8" />
<line x1="216.23" y1="272.90" x2="216.23" y2="274.40" stroke="#000" stroke-width="0.8" />
<line x1="217.23" y1="272.90" x2="217.23" y2="274.40" stroke="#000" stroke-width="0.8" />
<line x1="218.11" y1="272.90" x2="218.11" y2="274.40" stroke="#000" stroke-width="0.8" />
<line x1="218.90" y1="272.90" x2="218.90" y2="275.30" stroke="#000" stroke-width="0.8" />
<line x1="224.09" y1="272.90" x2="224.09" y2="274.40" stroke="#000" stroke-width="0.8" />
<line x1="227.13" y1="272.90" x2="227.13" y2="274.40" stroke="#000" stroke-width="0.8" />
<line x1="229.29" y1="272.90" x2="229.29" y2="274.40" stroke="#000" stroke-width="0.8" />
<line x1="230.96" y1="272.90" x2="230.96" y2="274.40" stroke="#000" stroke-width="0.8" />
<line x1="232.32" y1="272.90" x2="232.32" y2="274.40" stroke="#000" stroke-width="0.8" />
<line x1="233.48" y1="272.90" x2="233.48" y2="274.40" stroke="#000" stroke-width="0.8" />
<line x1="234.48" y1="272.90" x2="234.48" y2="274.40" stroke="#000" stroke-width="0.8" />
<line x1="235.36" y1="272.90" x2="235.36" y2="274.40" stroke="#000" stroke-width="0.8" />
<line x1="236.15" y1="272.90" x2="236.15" y2="275.30" stroke="#000" stroke-width="0.8" />
<line x1="241.34" y1="272.90" x2="241.34" y2="274.40" stroke="#000" stroke-width="0.8" />
<line x1="244.38" y1="272.90" x2="244.38" y2="274.40" stroke="#000" stroke-width="0.8" />
<line x1="246.54" y1="272.90" x2="246.54" y2="274.40" stroke="#000" stroke-width="0.8" />
<line x1="248.21" y1="272.90" x2="248.21" y2="274.40" stroke="#000" stroke-width="0.8" />
<line x1="249.57" y1="272.90" x2="249.57" y2="274.40" stroke="#000" stroke-width="0.8" />
<line x1="250.73" y1="272.90" x2="250.73" y2="274.40" stroke="#000" stroke-width="0.8" />
<line x1="251.73" y1="272.90" x2="251.73" y2="274.40" stroke="#000" stroke-width="0.8" />
<line x1="252.61" y1="272.90" x2="252.61" y2="274.40" stroke="#000" stroke-width="0.8" />
<line x1="253.40" y1="272.90" x2="253.40" y2="275.30" stroke="#000" stroke-width="0.8" />
<text x="184.40" y="284.40" font-size="7.0" text-anchor="middle" fill="#262626" stroke="#262626" stroke-width="0.14">10<tspan dy="-3" font-size="5.6" stroke-width="0">2</tspan></text>
<text x="201.65" y="284.40" font-size="7.0" text-anchor="middle" fill="#262626" stroke="#262626" stroke-width="0.14">10<tspan dy="-3" font-size="5.6" stroke-width="0">3</tspan></text>
<text x="218.90" y="284.40" font-size="7.0" text-anchor="middle" fill="#262626" stroke="#262626" stroke-width="0.14">10<tspan dy="-3" font-size="5.6" stroke-width="0">4</tspan></text>
<text x="236.15" y="284.40" font-size="7.0" text-anchor="middle" fill="#262626" stroke="#262626" stroke-width="0.14">10<tspan dy="-3" font-size="5.6" stroke-width="0">5</tspan></text>
<text x="253.40" y="284.40" font-size="7.0" text-anchor="middle" fill="#262626" stroke="#262626" stroke-width="0.14">10<tspan dy="-3" font-size="5.6" stroke-width="0">6</tspan></text>
<line x1="299.70" y1="100.80" x2="302.30" y2="100.80" stroke="#000" stroke-width="0.8" />
<line x1="300.70" y1="97.51" x2="302.30" y2="97.51" stroke="#000" stroke-width="0.8" />
<line x1="300.70" y1="94.22" x2="302.30" y2="94.22" stroke="#000" stroke-width="0.8" />
<line x1="300.70" y1="90.93" x2="302.30" y2="90.93" stroke="#000" stroke-width="0.8" />
<line x1="299.70" y1="87.64" x2="302.30" y2="87.64" stroke="#000" stroke-width="0.8" />
<line x1="300.70" y1="84.35" x2="302.30" y2="84.35" stroke="#000" stroke-width="0.8" />
<line x1="300.70" y1="81.06" x2="302.30" y2="81.06" stroke="#000" stroke-width="0.8" />
<line x1="300.70" y1="77.77" x2="302.30" y2="77.77" stroke="#000" stroke-width="0.8" />
<line x1="299.70" y1="74.48" x2="302.30" y2="74.48" stroke="#000" stroke-width="0.8" />
<line x1="300.70" y1="71.19" x2="302.30" y2="71.19" stroke="#000" stroke-width="0.8" />
<line x1="300.70" y1="67.90" x2="302.30" y2="67.90" stroke="#000" stroke-width="0.8" />
<line x1="300.70" y1="64.61" x2="302.30" y2="64.61" stroke="#000" stroke-width="0.8" />
<line x1="299.70" y1="61.32" x2="302.30" y2="61.32" stroke="#000" stroke-width="0.8" />
<line x1="300.70" y1="58.03" x2="302.30" y2="58.03" stroke="#000" stroke-width="0.8" />
<line x1="300.70" y1="54.74" x2="302.30" y2="54.74" stroke="#000" stroke-width="0.8" />
<line x1="300.70" y1="51.45" x2="302.30" y2="51.45" stroke="#000" stroke-width="0.8" />
<line x1="299.70" y1="48.16" x2="302.30" y2="48.16" stroke="#000" stroke-width="0.8" />
<line x1="300.70" y1="44.87" x2="302.30" y2="44.87" stroke="#000" stroke-width="0.8" />
<line x1="300.70" y1="41.58" x2="302.30" y2="41.58" stroke="#000" stroke-width="0.8" />
<line x1="300.70" y1="38.29" x2="302.30" y2="38.29" stroke="#000" stroke-width="0.8" />
<line x1="299.70" y1="35.00" x2="302.30" y2="35.00" stroke="#000" stroke-width="0.8" />
<text x="296.80" y="103.25" font-size="7.8" text-anchor="end" stroke="#262626" stroke-width="0.14" >0</text>
<text x="296.80" y="90.09" font-size="7.8" text-anchor="end" stroke="#262626" stroke-width="0.14" >20</text>
<text x="296.80" y="76.93" font-size="7.8" text-anchor="end" stroke="#262626" stroke-width="0.14" >40</text>
<text x="296.80" y="63.77" font-size="7.8" text-anchor="end" stroke="#262626" stroke-width="0.14" >60</text>
<text x="296.80" y="50.61" font-size="7.8" text-anchor="end" stroke="#262626" stroke-width="0.14" >80</text>
<text x="296.80" y="37.45" font-size="7.8" text-anchor="end" stroke="#262626" stroke-width="0.14" >100</text>
<line x1="302.38" y1="100.80" x2="302.38" y2="102.30" stroke="#000" stroke-width="0.8" />
<line x1="304.54" y1="100.80" x2="304.54" y2="102.30" stroke="#000" stroke-width="0.8" />
<line x1="306.21" y1="100.80" x2="306.21" y2="102.30" stroke="#000" stroke-width="0.8" />
<line x1="307.57" y1="100.80" x2="307.57" y2="102.30" stroke="#000" stroke-width="0.8" />
<line x1="308.73" y1="100.80" x2="308.73" y2="102.30" stroke="#000" stroke-width="0.8" />
<line x1="309.73" y1="100.80" x2="309.73" y2="102.30" stroke="#000" stroke-width="0.8" />
<line x1="310.61" y1="100.80" x2="310.61" y2="102.30" stroke="#000" stroke-width="0.8" />
<line x1="311.40" y1="100.80" x2="311.40" y2="103.20" stroke="#000" stroke-width="0.8" />
<line x1="316.59" y1="100.80" x2="316.59" y2="102.30" stroke="#000" stroke-width="0.8" />
<line x1="319.63" y1="100.80" x2="319.63" y2="102.30" stroke="#000" stroke-width="0.8" />
<line x1="321.79" y1="100.80" x2="321.79" y2="102.30" stroke="#000" stroke-width="0.8" />
<line x1="323.46" y1="100.80" x2="323.46" y2="102.30" stroke="#000" stroke-width="0.8" />
<line x1="324.82" y1="100.80" x2="324.82" y2="102.30" stroke="#000" stroke-width="0.8" />
<line x1="325.98" y1="100.80" x2="325.98" y2="102.30" stroke="#000" stroke-width="0.8" />
<line x1="326.98" y1="100.80" x2="326.98" y2="102.30" stroke="#000" stroke-width="0.8" />
<line x1="327.86" y1="100.80" x2="327.86" y2="102.30" stroke="#000" stroke-width="0.8" />
<line x1="328.65" y1="100.80" x2="328.65" y2="103.20" stroke="#000" stroke-width="0.8" />
<line x1="333.84" y1="100.80" x2="333.84" y2="102.30" stroke="#000" stroke-width="0.8" />
<line x1="336.88" y1="100.80" x2="336.88" y2="102.30" stroke="#000" stroke-width="0.8" />
<line x1="339.04" y1="100.80" x2="339.04" y2="102.30" stroke="#000" stroke-width="0.8" />
<line x1="340.71" y1="100.80" x2="340.71" y2="102.30" stroke="#000" stroke-width="0.8" />
<line x1="342.07" y1="100.80" x2="342.07" y2="102.30" stroke="#000" stroke-width="0.8" />
<line x1="343.23" y1="100.80" x2="343.23" y2="102.30" stroke="#000" stroke-width="0.8" />
<line x1="344.23" y1="100.80" x2="344.23" y2="102.30" stroke="#000" stroke-width="0.8" />
<line x1="345.11" y1="100.80" x2="345.11" y2="102.30" stroke="#000" stroke-width="0.8" />
<line x1="345.90" y1="100.80" x2="345.90" y2="103.20" stroke="#000" stroke-width="0.8" />
<line x1="351.09" y1="100.80" x2="351.09" y2="102.30" stroke="#000" stroke-width="0.8" />
<line x1="354.13" y1="100.80" x2="354.13" y2="102.30" stroke="#000" stroke-width="0.8" />
<line x1="356.29" y1="100.80" x2="356.29" y2="102.30" stroke="#000" stroke-width="0.8" />
<line x1="357.96" y1="100.80" x2="357.96" y2="102.30" stroke="#000" stroke-width="0.8" />
<line x1="359.32" y1="100.80" x2="359.32" y2="102.30" stroke="#000" stroke-width="0.8" />
<line x1="360.48" y1="100.80" x2="360.48" y2="102.30" stroke="#000" stroke-width="0.8" />
<line x1="361.48" y1="100.80" x2="361.48" y2="102.30" stroke="#000" stroke-width="0.8" />
<line x1="362.36" y1="100.80" x2="362.36" y2="102.30" stroke="#000" stroke-width="0.8" />
<line x1="363.15" y1="100.80" x2="363.15" y2="103.20" stroke="#000" stroke-width="0.8" />
<line x1="368.34" y1="100.80" x2="368.34" y2="102.30" stroke="#000" stroke-width="0.8" />
<line x1="371.38" y1="100.80" x2="371.38" y2="102.30" stroke="#000" stroke-width="0.8" />
<line x1="373.54" y1="100.80" x2="373.54" y2="102.30" stroke="#000" stroke-width="0.8" />
<line x1="375.21" y1="100.80" x2="375.21" y2="102.30" stroke="#000" stroke-width="0.8" />
<line x1="376.57" y1="100.80" x2="376.57" y2="102.30" stroke="#000" stroke-width="0.8" />
<line x1="377.73" y1="100.80" x2="377.73" y2="102.30" stroke="#000" stroke-width="0.8" />
<line x1="378.73" y1="100.80" x2="378.73" y2="102.30" stroke="#000" stroke-width="0.8" />
<line x1="379.61" y1="100.80" x2="379.61" y2="102.30" stroke="#000" stroke-width="0.8" />
<line x1="380.40" y1="100.80" x2="380.40" y2="103.20" stroke="#000" stroke-width="0.8" />
<text x="311.40" y="112.30" font-size="7.0" text-anchor="middle" fill="#262626" stroke="#262626" stroke-width="0.14">10<tspan dy="-3" font-size="5.6" stroke-width="0">2</tspan></text>
<text x="328.65" y="112.30" font-size="7.0" text-anchor="middle" fill="#262626" stroke="#262626" stroke-width="0.14">10<tspan dy="-3" font-size="5.6" stroke-width="0">3</tspan></text>
<text x="345.90" y="112.30" font-size="7.0" text-anchor="middle" fill="#262626" stroke="#262626" stroke-width="0.14">10<tspan dy="-3" font-size="5.6" stroke-width="0">4</tspan></text>
<text x="363.15" y="112.30" font-size="7.0" text-anchor="middle" fill="#262626" stroke="#262626" stroke-width="0.14">10<tspan dy="-3" font-size="5.6" stroke-width="0">5</tspan></text>
<text x="380.40" y="112.30" font-size="7.0" text-anchor="middle" fill="#262626" stroke="#262626" stroke-width="0.14">10<tspan dy="-3" font-size="5.6" stroke-width="0">6</tspan></text>
<line x1="299.70" y1="187.00" x2="302.30" y2="187.00" stroke="#000" stroke-width="0.8" />
<line x1="300.70" y1="183.71" x2="302.30" y2="183.71" stroke="#000" stroke-width="0.8" />
<line x1="300.70" y1="180.42" x2="302.30" y2="180.42" stroke="#000" stroke-width="0.8" />
<line x1="300.70" y1="177.13" x2="302.30" y2="177.13" stroke="#000" stroke-width="0.8" />
<line x1="299.70" y1="173.84" x2="302.30" y2="173.84" stroke="#000" stroke-width="0.8" />
<line x1="300.70" y1="170.55" x2="302.30" y2="170.55" stroke="#000" stroke-width="0.8" />
<line x1="300.70" y1="167.26" x2="302.30" y2="167.26" stroke="#000" stroke-width="0.8" />
<line x1="300.70" y1="163.97" x2="302.30" y2="163.97" stroke="#000" stroke-width="0.8" />
<line x1="299.70" y1="160.68" x2="302.30" y2="160.68" stroke="#000" stroke-width="0.8" />
<line x1="300.70" y1="157.39" x2="302.30" y2="157.39" stroke="#000" stroke-width="0.8" />
<line x1="300.70" y1="154.10" x2="302.30" y2="154.10" stroke="#000" stroke-width="0.8" />
<line x1="300.70" y1="150.81" x2="302.30" y2="150.81" stroke="#000" stroke-width="0.8" />
<line x1="299.70" y1="147.52" x2="302.30" y2="147.52" stroke="#000" stroke-width="0.8" />
<line x1="300.70" y1="144.23" x2="302.30" y2="144.23" stroke="#000" stroke-width="0.8" />
<line x1="300.70" y1="140.94" x2="302.30" y2="140.94" stroke="#000" stroke-width="0.8" />
<line x1="300.70" y1="137.65" x2="302.30" y2="137.65" stroke="#000" stroke-width="0.8" />
<line x1="299.70" y1="134.36" x2="302.30" y2="134.36" stroke="#000" stroke-width="0.8" />
<line x1="300.70" y1="131.07" x2="302.30" y2="131.07" stroke="#000" stroke-width="0.8" />
<line x1="300.70" y1="127.78" x2="302.30" y2="127.78" stroke="#000" stroke-width="0.8" />
<line x1="300.70" y1="124.49" x2="302.30" y2="124.49" stroke="#000" stroke-width="0.8" />
<line x1="299.70" y1="121.20" x2="302.30" y2="121.20" stroke="#000" stroke-width="0.8" />
<text x="296.80" y="189.45" font-size="7.8" text-anchor="end" stroke="#262626" stroke-width="0.14" >0</text>
<text x="296.80" y="176.29" font-size="7.8" text-anchor="end" stroke="#262626" stroke-width="0.14" >20</text>
<text x="296.80" y="163.13" font-size="7.8" text-anchor="end" stroke="#262626" stroke-width="0.14" >40</text>
<text x="296.80" y="149.97" font-size="7.8" text-anchor="end" stroke="#262626" stroke-width="0.14" >60</text>
<text x="296.80" y="136.81" font-size="7.8" text-anchor="end" stroke="#262626" stroke-width="0.14" >80</text>
<text x="296.80" y="123.65" font-size="7.8" text-anchor="end" stroke="#262626" stroke-width="0.14" >100</text>
<line x1="302.38" y1="187.00" x2="302.38" y2="188.50" stroke="#000" stroke-width="0.8" />
<line x1="304.54" y1="187.00" x2="304.54" y2="188.50" stroke="#000" stroke-width="0.8" />
<line x1="306.21" y1="187.00" x2="306.21" y2="188.50" stroke="#000" stroke-width="0.8" />
<line x1="307.57" y1="187.00" x2="307.57" y2="188.50" stroke="#000" stroke-width="0.8" />
<line x1="308.73" y1="187.00" x2="308.73" y2="188.50" stroke="#000" stroke-width="0.8" />
<line x1="309.73" y1="187.00" x2="309.73" y2="188.50" stroke="#000" stroke-width="0.8" />
<line x1="310.61" y1="187.00" x2="310.61" y2="188.50" stroke="#000" stroke-width="0.8" />
<line x1="311.40" y1="187.00" x2="311.40" y2="189.40" stroke="#000" stroke-width="0.8" />
<line x1="316.59" y1="187.00" x2="316.59" y2="188.50" stroke="#000" stroke-width="0.8" />
<line x1="319.63" y1="187.00" x2="319.63" y2="188.50" stroke="#000" stroke-width="0.8" />
<line x1="321.79" y1="187.00" x2="321.79" y2="188.50" stroke="#000" stroke-width="0.8" />
<line x1="323.46" y1="187.00" x2="323.46" y2="188.50" stroke="#000" stroke-width="0.8" />
<line x1="324.82" y1="187.00" x2="324.82" y2="188.50" stroke="#000" stroke-width="0.8" />
<line x1="325.98" y1="187.00" x2="325.98" y2="188.50" stroke="#000" stroke-width="0.8" />
<line x1="326.98" y1="187.00" x2="326.98" y2="188.50" stroke="#000" stroke-width="0.8" />
<line x1="327.86" y1="187.00" x2="327.86" y2="188.50" stroke="#000" stroke-width="0.8" />
<line x1="328.65" y1="187.00" x2="328.65" y2="189.40" stroke="#000" stroke-width="0.8" />
<line x1="333.84" y1="187.00" x2="333.84" y2="188.50" stroke="#000" stroke-width="0.8" />
<line x1="336.88" y1="187.00" x2="336.88" y2="188.50" stroke="#000" stroke-width="0.8" />
<line x1="339.04" y1="187.00" x2="339.04" y2="188.50" stroke="#000" stroke-width="0.8" />
<line x1="340.71" y1="187.00" x2="340.71" y2="188.50" stroke="#000" stroke-width="0.8" />
<line x1="342.07" y1="187.00" x2="342.07" y2="188.50" stroke="#000" stroke-width="0.8" />
<line x1="343.23" y1="187.00" x2="343.23" y2="188.50" stroke="#000" stroke-width="0.8" />
<line x1="344.23" y1="187.00" x2="344.23" y2="188.50" stroke="#000" stroke-width="0.8" />
<line x1="345.11" y1="187.00" x2="345.11" y2="188.50" stroke="#000" stroke-width="0.8" />
<line x1="345.90" y1="187.00" x2="345.90" y2="189.40" stroke="#000" stroke-width="0.8" />
<line x1="351.09" y1="187.00" x2="351.09" y2="188.50" stroke="#000" stroke-width="0.8" />
<line x1="354.13" y1="187.00" x2="354.13" y2="188.50" stroke="#000" stroke-width="0.8" />
<line x1="356.29" y1="187.00" x2="356.29" y2="188.50" stroke="#000" stroke-width="0.8" />
<line x1="357.96" y1="187.00" x2="357.96" y2="188.50" stroke="#000" stroke-width="0.8" />
<line x1="359.32" y1="187.00" x2="359.32" y2="188.50" stroke="#000" stroke-width="0.8" />
<line x1="360.48" y1="187.00" x2="360.48" y2="188.50" stroke="#000" stroke-width="0.8" />
<line x1="361.48" y1="187.00" x2="361.48" y2="188.50" stroke="#000" stroke-width="0.8" />
<line x1="362.36" y1="187.00" x2="362.36" y2="188.50" stroke="#000" stroke-width="0.8" />
<line x1="363.15" y1="187.00" x2="363.15" y2="189.40" stroke="#000" stroke-width="0.8" />
<line x1="368.34" y1="187.00" x2="368.34" y2="188.50" stroke="#000" stroke-width="0.8" />
<line x1="371.38" y1="187.00" x2="371.38" y2="188.50" stroke="#000" stroke-width="0.8" />
<line x1="373.54" y1="187.00" x2="373.54" y2="188.50" stroke="#000" stroke-width="0.8" />
<line x1="375.21" y1="187.00" x2="375.21" y2="188.50" stroke="#000" stroke-width="0.8" />
<line x1="376.57" y1="187.00" x2="376.57" y2="188.50" stroke="#000" stroke-width="0.8" />
<line x1="377.73" y1="187.00" x2="377.73" y2="188.50" stroke="#000" stroke-width="0.8" />
<line x1="378.73" y1="187.00" x2="378.73" y2="188.50" stroke="#000" stroke-width="0.8" />
<line x1="379.61" y1="187.00" x2="379.61" y2="188.50" stroke="#000" stroke-width="0.8" />
<line x1="380.40" y1="187.00" x2="380.40" y2="189.40" stroke="#000" stroke-width="0.8" />
<text x="311.40" y="198.50" font-size="7.0" text-anchor="middle" fill="#262626" stroke="#262626" stroke-width="0.14">10<tspan dy="-3" font-size="5.6" stroke-width="0">2</tspan></text>
<text x="328.65" y="198.50" font-size="7.0" text-anchor="middle" fill="#262626" stroke="#262626" stroke-width="0.14">10<tspan dy="-3" font-size="5.6" stroke-width="0">3</tspan></text>
<text x="345.90" y="198.50" font-size="7.0" text-anchor="middle" fill="#262626" stroke="#262626" stroke-width="0.14">10<tspan dy="-3" font-size="5.6" stroke-width="0">4</tspan></text>
<text x="363.15" y="198.50" font-size="7.0" text-anchor="middle" fill="#262626" stroke="#262626" stroke-width="0.14">10<tspan dy="-3" font-size="5.6" stroke-width="0">5</tspan></text>
<text x="380.40" y="198.50" font-size="7.0" text-anchor="middle" fill="#262626" stroke="#262626" stroke-width="0.14">10<tspan dy="-3" font-size="5.6" stroke-width="0">6</tspan></text>
<line x1="299.70" y1="272.90" x2="302.30" y2="272.90" stroke="#000" stroke-width="0.8" />
<line x1="300.70" y1="269.61" x2="302.30" y2="269.61" stroke="#000" stroke-width="0.8" />
<line x1="300.70" y1="266.32" x2="302.30" y2="266.32" stroke="#000" stroke-width="0.8" />
<line x1="300.70" y1="263.03" x2="302.30" y2="263.03" stroke="#000" stroke-width="0.8" />
<line x1="299.70" y1="259.74" x2="302.30" y2="259.74" stroke="#000" stroke-width="0.8" />
<line x1="300.70" y1="256.45" x2="302.30" y2="256.45" stroke="#000" stroke-width="0.8" />
<line x1="300.70" y1="253.16" x2="302.30" y2="253.16" stroke="#000" stroke-width="0.8" />
<line x1="300.70" y1="249.87" x2="302.30" y2="249.87" stroke="#000" stroke-width="0.8" />
<line x1="299.70" y1="246.58" x2="302.30" y2="246.58" stroke="#000" stroke-width="0.8" />
<line x1="300.70" y1="243.29" x2="302.30" y2="243.29" stroke="#000" stroke-width="0.8" />
<line x1="300.70" y1="240.00" x2="302.30" y2="240.00" stroke="#000" stroke-width="0.8" />
<line x1="300.70" y1="236.71" x2="302.30" y2="236.71" stroke="#000" stroke-width="0.8" />
<line x1="299.70" y1="233.42" x2="302.30" y2="233.42" stroke="#000" stroke-width="0.8" />
<line x1="300.70" y1="230.13" x2="302.30" y2="230.13" stroke="#000" stroke-width="0.8" />
<line x1="300.70" y1="226.84" x2="302.30" y2="226.84" stroke="#000" stroke-width="0.8" />
<line x1="300.70" y1="223.55" x2="302.30" y2="223.55" stroke="#000" stroke-width="0.8" />
<line x1="299.70" y1="220.26" x2="302.30" y2="220.26" stroke="#000" stroke-width="0.8" />
<line x1="300.70" y1="216.97" x2="302.30" y2="216.97" stroke="#000" stroke-width="0.8" />
<line x1="300.70" y1="213.68" x2="302.30" y2="213.68" stroke="#000" stroke-width="0.8" />
<line x1="300.70" y1="210.39" x2="302.30" y2="210.39" stroke="#000" stroke-width="0.8" />
<line x1="299.70" y1="207.10" x2="302.30" y2="207.10" stroke="#000" stroke-width="0.8" />
<text x="296.80" y="275.35" font-size="7.8" text-anchor="end" stroke="#262626" stroke-width="0.14" >0</text>
<text x="296.80" y="262.19" font-size="7.8" text-anchor="end" stroke="#262626" stroke-width="0.14" >20</text>
<text x="296.80" y="249.03" font-size="7.8" text-anchor="end" stroke="#262626" stroke-width="0.14" >40</text>
<text x="296.80" y="235.87" font-size="7.8" text-anchor="end" stroke="#262626" stroke-width="0.14" >60</text>
<text x="296.80" y="222.71" font-size="7.8" text-anchor="end" stroke="#262626" stroke-width="0.14" >80</text>
<text x="296.80" y="209.55" font-size="7.8" text-anchor="end" stroke="#262626" stroke-width="0.14" >100</text>
<line x1="302.38" y1="272.90" x2="302.38" y2="274.40" stroke="#000" stroke-width="0.8" />
<line x1="304.54" y1="272.90" x2="304.54" y2="274.40" stroke="#000" stroke-width="0.8" />
<line x1="306.21" y1="272.90" x2="306.21" y2="274.40" stroke="#000" stroke-width="0.8" />
<line x1="307.57" y1="272.90" x2="307.57" y2="274.40" stroke="#000" stroke-width="0.8" />
<line x1="308.73" y1="272.90" x2="308.73" y2="274.40" stroke="#000" stroke-width="0.8" />
<line x1="309.73" y1="272.90" x2="309.73" y2="274.40" stroke="#000" stroke-width="0.8" />
<line x1="310.61" y1="272.90" x2="310.61" y2="274.40" stroke="#000" stroke-width="0.8" />
<line x1="311.40" y1="272.90" x2="311.40" y2="275.30" stroke="#000" stroke-width="0.8" />
<line x1="316.59" y1="272.90" x2="316.59" y2="274.40" stroke="#000" stroke-width="0.8" />
<line x1="319.63" y1="272.90" x2="319.63" y2="274.40" stroke="#000" stroke-width="0.8" />
<line x1="321.79" y1="272.90" x2="321.79" y2="274.40" stroke="#000" stroke-width="0.8" />
<line x1="323.46" y1="272.90" x2="323.46" y2="274.40" stroke="#000" stroke-width="0.8" />
<line x1="324.82" y1="272.90" x2="324.82" y2="274.40" stroke="#000" stroke-width="0.8" />
<line x1="325.98" y1="272.90" x2="325.98" y2="274.40" stroke="#000" stroke-width="0.8" />
<line x1="326.98" y1="272.90" x2="326.98" y2="274.40" stroke="#000" stroke-width="0.8" />
<line x1="327.86" y1="272.90" x2="327.86" y2="274.40" stroke="#000" stroke-width="0.8" />
<line x1="328.65" y1="272.90" x2="328.65" y2="275.30" stroke="#000" stroke-width="0.8" />
<line x1="333.84" y1="272.90" x2="333.84" y2="274.40" stroke="#000" stroke-width="0.8" />
<line x1="336.88" y1="272.90" x2="336.88" y2="274.40" stroke="#000" stroke-width="0.8" />
<line x1="339.04" y1="272.90" x2="339.04" y2="274.40" stroke="#000" stroke-width="0.8" />
<line x1="340.71" y1="272.90" x2="340.71" y2="274.40" stroke="#000" stroke-width="0.8" />
<line x1="342.07" y1="272.90" x2="342.07" y2="274.40" stroke="#000" stroke-width="0.8" />
<line x1="343.23" y1="272.90" x2="343.23" y2="274.40" stroke="#000" stroke-width="0.8" />
<line x1="344.23" y1="272.90" x2="344.23" y2="274.40" stroke="#000" stroke-width="0.8" />
<line x1="345.11" y1="272.90" x2="345.11" y2="274.40" stroke="#000" stroke-width="0.8" />
<line x1="345.90" y1="272.90" x2="345.90" y2="275.30" stroke="#000" stroke-width="0.8" />
<line x1="351.09" y1="272.90" x2="351.09" y2="274.40" stroke="#000" stroke-width="0.8" />
<line x1="354.13" y1="272.90" x2="354.13" y2="274.40" stroke="#000" stroke-width="0.8" />
<line x1="356.29" y1="272.90" x2="356.29" y2="274.40" stroke="#000" stroke-width="0.8" />
<line x1="357.96" y1="272.90" x2="357.96" y2="274.40" stroke="#000" stroke-width="0.8" />
<line x1="359.32" y1="272.90" x2="359.32" y2="274.40" stroke="#000" stroke-width="0.8" />
<line x1="360.48" y1="272.90" x2="360.48" y2="274.40" stroke="#000" stroke-width="0.8" />
<line x1="361.48" y1="272.90" x2="361.48" y2="274.40" stroke="#000" stroke-width="0.8" />
<line x1="362.36" y1="272.90" x2="362.36" y2="274.40" stroke="#000" stroke-width="0.8" />
<line x1="363.15" y1="272.90" x2="363.15" y2="275.30" stroke="#000" stroke-width="0.8" />
<line x1="368.34" y1="272.90" x2="368.34" y2="274.40" stroke="#000" stroke-width="0.8" />
<line x1="371.38" y1="272.90" x2="371.38" y2="274.40" stroke="#000" stroke-width="0.8" />
<line x1="373.54" y1="272.90" x2="373.54" y2="274.40" stroke="#000" stroke-width="0.8" />
<line x1="375.21" y1="272.90" x2="375.21" y2="274.40" stroke="#000" stroke-width="0.8" />
<line x1="376.57" y1="272.90" x2="376.57" y2="274.40" stroke="#000" stroke-width="0.8" />
<line x1="377.73" y1="272.90" x2="377.73" y2="274.40" stroke="#000" stroke-width="0.8" />
<line x1="378.73" y1="272.90" x2="378.73" y2="274.40" stroke="#000" stroke-width="0.8" />
<line x1="379.61" y1="272.90" x2="379.61" y2="274.40" stroke="#000" stroke-width="0.8" />
<line x1="380.40" y1="272.90" x2="380.40" y2="275.30" stroke="#000" stroke-width="0.8" />
<text x="311.40" y="284.40" font-size="7.0" text-anchor="middle" fill="#262626" stroke="#262626" stroke-width="0.14">10<tspan dy="-3" font-size="5.6" stroke-width="0">2</tspan></text>
<text x="328.65" y="284.40" font-size="7.0" text-anchor="middle" fill="#262626" stroke="#262626" stroke-width="0.14">10<tspan dy="-3" font-size="5.6" stroke-width="0">3</tspan></text>
<text x="345.90" y="284.40" font-size="7.0" text-anchor="middle" fill="#262626" stroke="#262626" stroke-width="0.14">10<tspan dy="-3" font-size="5.6" stroke-width="0">4</tspan></text>
<text x="363.15" y="284.40" font-size="7.0" text-anchor="middle" fill="#262626" stroke="#262626" stroke-width="0.14">10<tspan dy="-3" font-size="5.6" stroke-width="0">5</tspan></text>
<text x="380.40" y="284.40" font-size="7.0" text-anchor="middle" fill="#262626" stroke="#262626" stroke-width="0.14">10<tspan dy="-3" font-size="5.6" stroke-width="0">6</tspan></text>
<line x1="426.70" y1="100.80" x2="429.30" y2="100.80" stroke="#000" stroke-width="0.8" />
<line x1="427.70" y1="97.51" x2="429.30" y2="97.51" stroke="#000" stroke-width="0.8" />
<line x1="427.70" y1="94.22" x2="429.30" y2="94.22" stroke="#000" stroke-width="0.8" />
<line x1="427.70" y1="90.93" x2="429.30" y2="90.93" stroke="#000" stroke-width="0.8" />
<line x1="426.70" y1="87.64" x2="429.30" y2="87.64" stroke="#000" stroke-width="0.8" />
<line x1="427.70" y1="84.35" x2="429.30" y2="84.35" stroke="#000" stroke-width="0.8" />
<line x1="427.70" y1="81.06" x2="429.30" y2="81.06" stroke="#000" stroke-width="0.8" />
<line x1="427.70" y1="77.77" x2="429.30" y2="77.77" stroke="#000" stroke-width="0.8" />
<line x1="426.70" y1="74.48" x2="429.30" y2="74.48" stroke="#000" stroke-width="0.8" />
<line x1="427.70" y1="71.19" x2="429.30" y2="71.19" stroke="#000" stroke-width="0.8" />
<line x1="427.70" y1="67.90" x2="429.30" y2="67.90" stroke="#000" stroke-width="0.8" />
<line x1="427.70" y1="64.61" x2="429.30" y2="64.61" stroke="#000" stroke-width="0.8" />
<line x1="426.70" y1="61.32" x2="429.30" y2="61.32" stroke="#000" stroke-width="0.8" />
<line x1="427.70" y1="58.03" x2="429.30" y2="58.03" stroke="#000" stroke-width="0.8" />
<line x1="427.70" y1="54.74" x2="429.30" y2="54.74" stroke="#000" stroke-width="0.8" />
<line x1="427.70" y1="51.45" x2="429.30" y2="51.45" stroke="#000" stroke-width="0.8" />
<line x1="426.70" y1="48.16" x2="429.30" y2="48.16" stroke="#000" stroke-width="0.8" />
<line x1="427.70" y1="44.87" x2="429.30" y2="44.87" stroke="#000" stroke-width="0.8" />
<line x1="427.70" y1="41.58" x2="429.30" y2="41.58" stroke="#000" stroke-width="0.8" />
<line x1="427.70" y1="38.29" x2="429.30" y2="38.29" stroke="#000" stroke-width="0.8" />
<line x1="426.70" y1="35.00" x2="429.30" y2="35.00" stroke="#000" stroke-width="0.8" />
<text x="423.80" y="103.25" font-size="7.8" text-anchor="end" stroke="#262626" stroke-width="0.14" >0</text>
<text x="423.80" y="90.09" font-size="7.8" text-anchor="end" stroke="#262626" stroke-width="0.14" >20</text>
<text x="423.80" y="76.93" font-size="7.8" text-anchor="end" stroke="#262626" stroke-width="0.14" >40</text>
<text x="423.80" y="63.77" font-size="7.8" text-anchor="end" stroke="#262626" stroke-width="0.14" >60</text>
<text x="423.80" y="50.61" font-size="7.8" text-anchor="end" stroke="#262626" stroke-width="0.14" >80</text>
<text x="423.80" y="37.45" font-size="7.8" text-anchor="end" stroke="#262626" stroke-width="0.14" >100</text>
<line x1="429.38" y1="100.80" x2="429.38" y2="102.30" stroke="#000" stroke-width="0.8" />
<line x1="431.54" y1="100.80" x2="431.54" y2="102.30" stroke="#000" stroke-width="0.8" />
<line x1="433.21" y1="100.80" x2="433.21" y2="102.30" stroke="#000" stroke-width="0.8" />
<line x1="434.57" y1="100.80" x2="434.57" y2="102.30" stroke="#000" stroke-width="0.8" />
<line x1="435.73" y1="100.80" x2="435.73" y2="102.30" stroke="#000" stroke-width="0.8" />
<line x1="436.73" y1="100.80" x2="436.73" y2="102.30" stroke="#000" stroke-width="0.8" />
<line x1="437.61" y1="100.80" x2="437.61" y2="102.30" stroke="#000" stroke-width="0.8" />
<line x1="438.40" y1="100.80" x2="438.40" y2="103.20" stroke="#000" stroke-width="0.8" />
<line x1="443.59" y1="100.80" x2="443.59" y2="102.30" stroke="#000" stroke-width="0.8" />
<line x1="446.63" y1="100.80" x2="446.63" y2="102.30" stroke="#000" stroke-width="0.8" />
<line x1="448.79" y1="100.80" x2="448.79" y2="102.30" stroke="#000" stroke-width="0.8" />
<line x1="450.46" y1="100.80" x2="450.46" y2="102.30" stroke="#000" stroke-width="0.8" />
<line x1="451.82" y1="100.80" x2="451.82" y2="102.30" stroke="#000" stroke-width="0.8" />
<line x1="452.98" y1="100.80" x2="452.98" y2="102.30" stroke="#000" stroke-width="0.8" />
<line x1="453.98" y1="100.80" x2="453.98" y2="102.30" stroke="#000" stroke-width="0.8" />
<line x1="454.86" y1="100.80" x2="454.86" y2="102.30" stroke="#000" stroke-width="0.8" />
<line x1="455.65" y1="100.80" x2="455.65" y2="103.20" stroke="#000" stroke-width="0.8" />
<line x1="460.84" y1="100.80" x2="460.84" y2="102.30" stroke="#000" stroke-width="0.8" />
<line x1="463.88" y1="100.80" x2="463.88" y2="102.30" stroke="#000" stroke-width="0.8" />
<line x1="466.04" y1="100.80" x2="466.04" y2="102.30" stroke="#000" stroke-width="0.8" />
<line x1="467.71" y1="100.80" x2="467.71" y2="102.30" stroke="#000" stroke-width="0.8" />
<line x1="469.07" y1="100.80" x2="469.07" y2="102.30" stroke="#000" stroke-width="0.8" />
<line x1="470.23" y1="100.80" x2="470.23" y2="102.30" stroke="#000" stroke-width="0.8" />
<line x1="471.23" y1="100.80" x2="471.23" y2="102.30" stroke="#000" stroke-width="0.8" />
<line x1="472.11" y1="100.80" x2="472.11" y2="102.30" stroke="#000" stroke-width="0.8" />
<line x1="472.90" y1="100.80" x2="472.90" y2="103.20" stroke="#000" stroke-width="0.8" />
<line x1="478.09" y1="100.80" x2="478.09" y2="102.30" stroke="#000" stroke-width="0.8" />
<line x1="481.13" y1="100.80" x2="481.13" y2="102.30" stroke="#000" stroke-width="0.8" />
<line x1="483.29" y1="100.80" x2="483.29" y2="102.30" stroke="#000" stroke-width="0.8" />
<line x1="484.96" y1="100.80" x2="484.96" y2="102.30" stroke="#000" stroke-width="0.8" />
<line x1="486.32" y1="100.80" x2="486.32" y2="102.30" stroke="#000" stroke-width="0.8" />
<line x1="487.48" y1="100.80" x2="487.48" y2="102.30" stroke="#000" stroke-width="0.8" />
<line x1="488.48" y1="100.80" x2="488.48" y2="102.30" stroke="#000" stroke-width="0.8" />
<line x1="489.36" y1="100.80" x2="489.36" y2="102.30" stroke="#000" stroke-width="0.8" />
<line x1="490.15" y1="100.80" x2="490.15" y2="103.20" stroke="#000" stroke-width="0.8" />
<line x1="495.34" y1="100.80" x2="495.34" y2="102.30" stroke="#000" stroke-width="0.8" />
<line x1="498.38" y1="100.80" x2="498.38" y2="102.30" stroke="#000" stroke-width="0.8" />
<line x1="500.54" y1="100.80" x2="500.54" y2="102.30" stroke="#000" stroke-width="0.8" />
<line x1="502.21" y1="100.80" x2="502.21" y2="102.30" stroke="#000" stroke-width="0.8" />
<line x1="503.57" y1="100.80" x2="503.57" y2="102.30" stroke="#000" stroke-width="0.8" />
<line x1="504.73" y1="100.80" x2="504.73" y2="102.30" stroke="#000" stroke-width="0.8" />
<line x1="505.73" y1="100.80" x2="505.73" y2="102.30" stroke="#000" stroke-width="0.8" />
<line x1="506.61" y1="100.80" x2="506.61" y2="102.30" stroke="#000" stroke-width="0.8" />
<line x1="507.40" y1="100.80" x2="507.40" y2="103.20" stroke="#000" stroke-width="0.8" />
<text x="438.40" y="112.30" font-size="7.0" text-anchor="middle" fill="#262626" stroke="#262626" stroke-width="0.14">10<tspan dy="-3" font-size="5.6" stroke-width="0">2</tspan></text>
<text x="455.65" y="112.30" font-size="7.0" text-anchor="middle" fill="#262626" stroke="#262626" stroke-width="0.14">10<tspan dy="-3" font-size="5.6" stroke-width="0">3</tspan></text>
<text x="472.90" y="112.30" font-size="7.0" text-anchor="middle" fill="#262626" stroke="#262626" stroke-width="0.14">10<tspan dy="-3" font-size="5.6" stroke-width="0">4</tspan></text>
<text x="490.15" y="112.30" font-size="7.0" text-anchor="middle" fill="#262626" stroke="#262626" stroke-width="0.14">10<tspan dy="-3" font-size="5.6" stroke-width="0">5</tspan></text>
<text x="507.40" y="112.30" font-size="7.0" text-anchor="middle" fill="#262626" stroke="#262626" stroke-width="0.14">10<tspan dy="-3" font-size="5.6" stroke-width="0">6</tspan></text>
<line x1="426.70" y1="187.00" x2="429.30" y2="187.00" stroke="#000" stroke-width="0.8" />
<line x1="427.70" y1="183.71" x2="429.30" y2="183.71" stroke="#000" stroke-width="0.8" />
<line x1="427.70" y1="180.42" x2="429.30" y2="180.42" stroke="#000" stroke-width="0.8" />
<line x1="427.70" y1="177.13" x2="429.30" y2="177.13" stroke="#000" stroke-width="0.8" />
<line x1="426.70" y1="173.84" x2="429.30" y2="173.84" stroke="#000" stroke-width="0.8" />
<line x1="427.70" y1="170.55" x2="429.30" y2="170.55" stroke="#000" stroke-width="0.8" />
<line x1="427.70" y1="167.26" x2="429.30" y2="167.26" stroke="#000" stroke-width="0.8" />
<line x1="427.70" y1="163.97" x2="429.30" y2="163.97" stroke="#000" stroke-width="0.8" />
<line x1="426.70" y1="160.68" x2="429.30" y2="160.68" stroke="#000" stroke-width="0.8" />
<line x1="427.70" y1="157.39" x2="429.30" y2="157.39" stroke="#000" stroke-width="0.8" />
<line x1="427.70" y1="154.10" x2="429.30" y2="154.10" stroke="#000" stroke-width="0.8" />
<line x1="427.70" y1="150.81" x2="429.30" y2="150.81" stroke="#000" stroke-width="0.8" />
<line x1="426.70" y1="147.52" x2="429.30" y2="147.52" stroke="#000" stroke-width="0.8" />
<line x1="427.70" y1="144.23" x2="429.30" y2="144.23" stroke="#000" stroke-width="0.8" />
<line x1="427.70" y1="140.94" x2="429.30" y2="140.94" stroke="#000" stroke-width="0.8" />
<line x1="427.70" y1="137.65" x2="429.30" y2="137.65" stroke="#000" stroke-width="0.8" />
<line x1="426.70" y1="134.36" x2="429.30" y2="134.36" stroke="#000" stroke-width="0.8" />
<line x1="427.70" y1="131.07" x2="429.30" y2="131.07" stroke="#000" stroke-width="0.8" />
<line x1="427.70" y1="127.78" x2="429.30" y2="127.78" stroke="#000" stroke-width="0.8" />
<line x1="427.70" y1="124.49" x2="429.30" y2="124.49" stroke="#000" stroke-width="0.8" />
<line x1="426.70" y1="121.20" x2="429.30" y2="121.20" stroke="#000" stroke-width="0.8" />
<text x="423.80" y="189.45" font-size="7.8" text-anchor="end" stroke="#262626" stroke-width="0.14" >0</text>
<text x="423.80" y="176.29" font-size="7.8" text-anchor="end" stroke="#262626" stroke-width="0.14" >20</text>
<text x="423.80" y="163.13" font-size="7.8" text-anchor="end" stroke="#262626" stroke-width="0.14" >40</text>
<text x="423.80" y="149.97" font-size="7.8" text-anchor="end" stroke="#262626" stroke-width="0.14" >60</text>
<text x="423.80" y="136.81" font-size="7.8" text-anchor="end" stroke="#262626" stroke-width="0.14" >80</text>
<text x="423.80" y="123.65" font-size="7.8" text-anchor="end" stroke="#262626" stroke-width="0.14" >100</text>
<line x1="429.38" y1="187.00" x2="429.38" y2="188.50" stroke="#000" stroke-width="0.8" />
<line x1="431.54" y1="187.00" x2="431.54" y2="188.50" stroke="#000" stroke-width="0.8" />
<line x1="433.21" y1="187.00" x2="433.21" y2="188.50" stroke="#000" stroke-width="0.8" />
<line x1="434.57" y1="187.00" x2="434.57" y2="188.50" stroke="#000" stroke-width="0.8" />
<line x1="435.73" y1="187.00" x2="435.73" y2="188.50" stroke="#000" stroke-width="0.8" />
<line x1="436.73" y1="187.00" x2="436.73" y2="188.50" stroke="#000" stroke-width="0.8" />
<line x1="437.61" y1="187.00" x2="437.61" y2="188.50" stroke="#000" stroke-width="0.8" />
<line x1="438.40" y1="187.00" x2="438.40" y2="189.40" stroke="#000" stroke-width="0.8" />
<line x1="443.59" y1="187.00" x2="443.59" y2="188.50" stroke="#000" stroke-width="0.8" />
<line x1="446.63" y1="187.00" x2="446.63" y2="188.50" stroke="#000" stroke-width="0.8" />
<line x1="448.79" y1="187.00" x2="448.79" y2="188.50" stroke="#000" stroke-width="0.8" />
<line x1="450.46" y1="187.00" x2="450.46" y2="188.50" stroke="#000" stroke-width="0.8" />
<line x1="451.82" y1="187.00" x2="451.82" y2="188.50" stroke="#000" stroke-width="0.8" />
<line x1="452.98" y1="187.00" x2="452.98" y2="188.50" stroke="#000" stroke-width="0.8" />
<line x1="453.98" y1="187.00" x2="453.98" y2="188.50" stroke="#000" stroke-width="0.8" />
<line x1="454.86" y1="187.00" x2="454.86" y2="188.50" stroke="#000" stroke-width="0.8" />
<line x1="455.65" y1="187.00" x2="455.65" y2="189.40" stroke="#000" stroke-width="0.8" />
<line x1="460.84" y1="187.00" x2="460.84" y2="188.50" stroke="#000" stroke-width="0.8" />
<line x1="463.88" y1="187.00" x2="463.88" y2="188.50" stroke="#000" stroke-width="0.8" />
<line x1="466.04" y1="187.00" x2="466.04" y2="188.50" stroke="#000" stroke-width="0.8" />
<line x1="467.71" y1="187.00" x2="467.71" y2="188.50" stroke="#000" stroke-width="0.8" />
<line x1="469.07" y1="187.00" x2="469.07" y2="188.50" stroke="#000" stroke-width="0.8" />
<line x1="470.23" y1="187.00" x2="470.23" y2="188.50" stroke="#000" stroke-width="0.8" />
<line x1="471.23" y1="187.00" x2="471.23" y2="188.50" stroke="#000" stroke-width="0.8" />
<line x1="472.11" y1="187.00" x2="472.11" y2="188.50" stroke="#000" stroke-width="0.8" />
<line x1="472.90" y1="187.00" x2="472.90" y2="189.40" stroke="#000" stroke-width="0.8" />
<line x1="478.09" y1="187.00" x2="478.09" y2="188.50" stroke="#000" stroke-width="0.8" />
<line x1="481.13" y1="187.00" x2="481.13" y2="188.50" stroke="#000" stroke-width="0.8" />
<line x1="483.29" y1="187.00" x2="483.29" y2="188.50" stroke="#000" stroke-width="0.8" />
<line x1="484.96" y1="187.00" x2="484.96" y2="188.50" stroke="#000" stroke-width="0.8" />
<line x1="486.32" y1="187.00" x2="486.32" y2="188.50" stroke="#000" stroke-width="0.8" />
<line x1="487.48" y1="187.00" x2="487.48" y2="188.50" stroke="#000" stroke-width="0.8" />
<line x1="488.48" y1="187.00" x2="488.48" y2="188.50" stroke="#000" stroke-width="0.8" />
<line x1="489.36" y1="187.00" x2="489.36" y2="188.50" stroke="#000" stroke-width="0.8" />
<line x1="490.15" y1="187.00" x2="490.15" y2="189.40" stroke="#000" stroke-width="0.8" />
<line x1="495.34" y1="187.00" x2="495.34" y2="188.50" stroke="#000" stroke-width="0.8" />
<line x1="498.38" y1="187.00" x2="498.38" y2="188.50" stroke="#000" stroke-width="0.8" />
<line x1="500.54" y1="187.00" x2="500.54" y2="188.50" stroke="#000" stroke-width="0.8" />
<line x1="502.21" y1="187.00" x2="502.21" y2="188.50" stroke="#000" stroke-width="0.8" />
<line x1="503.57" y1="187.00" x2="503.57" y2="188.50" stroke="#000" stroke-width="0.8" />
<line x1="504.73" y1="187.00" x2="504.73" y2="188.50" stroke="#000" stroke-width="0.8" />
<line x1="505.73" y1="187.00" x2="505.73" y2="188.50" stroke="#000" stroke-width="0.8" />
<line x1="506.61" y1="187.00" x2="506.61" y2="188.50" stroke="#000" stroke-width="0.8" />
<line x1="507.40" y1="187.00" x2="507.40" y2="189.40" stroke="#000" stroke-width="0.8" />
<text x="438.40" y="198.50" font-size="7.0" text-anchor="middle" fill="#262626" stroke="#262626" stroke-width="0.14">10<tspan dy="-3" font-size="5.6" stroke-width="0">2</tspan></text>
<text x="455.65" y="198.50" font-size="7.0" text-anchor="middle" fill="#262626" stroke="#262626" stroke-width="0.14">10<tspan dy="-3" font-size="5.6" stroke-width="0">3</tspan></text>
<text x="472.90" y="198.50" font-size="7.0" text-anchor="middle" fill="#262626" stroke="#262626" stroke-width="0.14">10<tspan dy="-3" font-size="5.6" stroke-width="0">4</tspan></text>
<text x="490.15" y="198.50" font-size="7.0" text-anchor="middle" fill="#262626" stroke="#262626" stroke-width="0.14">10<tspan dy="-3" font-size="5.6" stroke-width="0">5</tspan></text>
<text x="507.40" y="198.50" font-size="7.0" text-anchor="middle" fill="#262626" stroke="#262626" stroke-width="0.14">10<tspan dy="-3" font-size="5.6" stroke-width="0">6</tspan></text>
<line x1="426.70" y1="272.90" x2="429.30" y2="272.90" stroke="#000" stroke-width="0.8" />
<line x1="427.70" y1="269.61" x2="429.30" y2="269.61" stroke="#000" stroke-width="0.8" />
<line x1="427.70" y1="266.32" x2="429.30" y2="266.32" stroke="#000" stroke-width="0.8" />
<line x1="427.70" y1="263.03" x2="429.30" y2="263.03" stroke="#000" stroke-width="0.8" />
<line x1="426.70" y1="259.74" x2="429.30" y2="259.74" stroke="#000" stroke-width="0.8" />
<line x1="427.70" y1="256.45" x2="429.30" y2="256.45" stroke="#000" stroke-width="0.8" />
<line x1="427.70" y1="253.16" x2="429.30" y2="253.16" stroke="#000" stroke-width="0.8" />
<line x1="427.70" y1="249.87" x2="429.30" y2="249.87" stroke="#000" stroke-width="0.8" />
<line x1="426.70" y1="246.58" x2="429.30" y2="246.58" stroke="#000" stroke-width="0.8" />
<line x1="427.70" y1="243.29" x2="429.30" y2="243.29" stroke="#000" stroke-width="0.8" />
<line x1="427.70" y1="240.00" x2="429.30" y2="240.00" stroke="#000" stroke-width="0.8" />
<line x1="427.70" y1="236.71" x2="429.30" y2="236.71" stroke="#000" stroke-width="0.8" />
<line x1="426.70" y1="233.42" x2="429.30" y2="233.42" stroke="#000" stroke-width="0.8" />
<line x1="427.70" y1="230.13" x2="429.30" y2="230.13" stroke="#000" stroke-width="0.8" />
<line x1="427.70" y1="226.84" x2="429.30" y2="226.84" stroke="#000" stroke-width="0.8" />
<line x1="427.70" y1="223.55" x2="429.30" y2="223.55" stroke="#000" stroke-width="0.8" />
<line x1="426.70" y1="220.26" x2="429.30" y2="220.26" stroke="#000" stroke-width="0.8" />
<line x1="427.70" y1="216.97" x2="429.30" y2="216.97" stroke="#000" stroke-width="0.8" />
<line x1="427.70" y1="213.68" x2="429.30" y2="213.68" stroke="#000" stroke-width="0.8" />
<line x1="427.70" y1="210.39" x2="429.30" y2="210.39" stroke="#000" stroke-width="0.8" />
<line x1="426.70" y1="207.10" x2="429.30" y2="207.10" stroke="#000" stroke-width="0.8" />
<text x="423.80" y="275.35" font-size="7.8" text-anchor="end" stroke="#262626" stroke-width="0.14" >0</text>
<text x="423.80" y="262.19" font-size="7.8" text-anchor="end" stroke="#262626" stroke-width="0.14" >20</text>
<text x="423.80" y="249.03" font-size="7.8" text-anchor="end" stroke="#262626" stroke-width="0.14" >40</text>
<text x="423.80" y="235.87" font-size="7.8" text-anchor="end" stroke="#262626" stroke-width="0.14" >60</text>
<text x="423.80" y="222.71" font-size="7.8" text-anchor="end" stroke="#262626" stroke-width="0.14" >80</text>
<text x="423.80" y="209.55" font-size="7.8" text-anchor="end" stroke="#262626" stroke-width="0.14" >100</text>
<line x1="429.38" y1="272.90" x2="429.38" y2="274.40" stroke="#000" stroke-width="0.8" />
<line x1="431.54" y1="272.90" x2="431.54" y2="274.40" stroke="#000" stroke-width="0.8" />
<line x1="433.21" y1="272.90" x2="433.21" y2="274.40" stroke="#000" stroke-width="0.8" />
<line x1="434.57" y1="272.90" x2="434.57" y2="274.40" stroke="#000" stroke-width="0.8" />
<line x1="435.73" y1="272.90" x2="435.73" y2="274.40" stroke="#000" stroke-width="0.8" />
<line x1="436.73" y1="272.90" x2="436.73" y2="274.40" stroke="#000" stroke-width="0.8" />
<line x1="437.61" y1="272.90" x2="437.61" y2="274.40" stroke="#000" stroke-width="0.8" />
<line x1="438.40" y1="272.90" x2="438.40" y2="275.30" stroke="#000" stroke-width="0.8" />
<line x1="443.59" y1="272.90" x2="443.59" y2="274.40" stroke="#000" stroke-width="0.8" />
<line x1="446.63" y1="272.90" x2="446.63" y2="274.40" stroke="#000" stroke-width="0.8" />
<line x1="448.79" y1="272.90" x2="448.79" y2="274.40" stroke="#000" stroke-width="0.8" />
<line x1="450.46" y1="272.90" x2="450.46" y2="274.40" stroke="#000" stroke-width="0.8" />
<line x1="451.82" y1="272.90" x2="451.82" y2="274.40" stroke="#000" stroke-width="0.8" />
<line x1="452.98" y1="272.90" x2="452.98" y2="274.40" stroke="#000" stroke-width="0.8" />
<line x1="453.98" y1="272.90" x2="453.98" y2="274.40" stroke="#000" stroke-width="0.8" />
<line x1="454.86" y1="272.90" x2="454.86" y2="274.40" stroke="#000" stroke-width="0.8" />
<line x1="455.65" y1="272.90" x2="455.65" y2="275.30" stroke="#000" stroke-width="0.8" />
<line x1="460.84" y1="272.90" x2="460.84" y2="274.40" stroke="#000" stroke-width="0.8" />
<line x1="463.88" y1="272.90" x2="463.88" y2="274.40" stroke="#000" stroke-width="0.8" />
<line x1="466.04" y1="272.90" x2="466.04" y2="274.40" stroke="#000" stroke-width="0.8" />
<line x1="467.71" y1="272.90" x2="467.71" y2="274.40" stroke="#000" stroke-width="0.8" />
<line x1="469.07" y1="272.90" x2="469.07" y2="274.40" stroke="#000" stroke-width="0.8" />
<line x1="470.23" y1="272.90" x2="470.23" y2="274.40" stroke="#000" stroke-width="0.8" />
<line x1="471.23" y1="272.90" x2="471.23" y2="274.40" stroke="#000" stroke-width="0.8" />
<line x1="472.11" y1="272.90" x2="472.11" y2="274.40" stroke="#000" stroke-width="0.8" />
<line x1="472.90" y1="272.90" x2="472.90" y2="275.30" stroke="#000" stroke-width="0.8" />
<line x1="478.09" y1="272.90" x2="478.09" y2="274.40" stroke="#000" stroke-width="0.8" />
<line x1="481.13" y1="272.90" x2="481.13" y2="274.40" stroke="#000" stroke-width="0.8" />
<line x1="483.29" y1="272.90" x2="483.29" y2="274.40" stroke="#000" stroke-width="0.8" />
<line x1="484.96" y1="272.90" x2="484.96" y2="274.40" stroke="#000" stroke-width="0.8" />
<line x1="486.32" y1="272.90" x2="486.32" y2="274.40" stroke="#000" stroke-width="0.8" />
<line x1="487.48" y1="272.90" x2="487.48" y2="274.40" stroke="#000" stroke-width="0.8" />
<line x1="488.48" y1="272.90" x2="488.48" y2="274.40" stroke="#000" stroke-width="0.8" />
<line x1="489.36" y1="272.90" x2="489.36" y2="274.40" stroke="#000" stroke-width="0.8" />
<line x1="490.15" y1="272.90" x2="490.15" y2="275.30" stroke="#000" stroke-width="0.8" />
<line x1="495.34" y1="272.90" x2="495.34" y2="274.40" stroke="#000" stroke-width="0.8" />
<line x1="498.38" y1="272.90" x2="498.38" y2="274.40" stroke="#000" stroke-width="0.8" />
<line x1="500.54" y1="272.90" x2="500.54" y2="274.40" stroke="#000" stroke-width="0.8" />
<line x1="502.21" y1="272.90" x2="502.21" y2="274.40" stroke="#000" stroke-width="0.8" />
<line x1="503.57" y1="272.90" x2="503.57" y2="274.40" stroke="#000" stroke-width="0.8" />
<line x1="504.73" y1="272.90" x2="504.73" y2="274.40" stroke="#000" stroke-width="0.8" />
<line x1="505.73" y1="272.90" x2="505.73" y2="274.40" stroke="#000" stroke-width="0.8" />
<line x1="506.61" y1="272.90" x2="506.61" y2="274.40" stroke="#000" stroke-width="0.8" />
<line x1="507.40" y1="272.90" x2="507.40" y2="275.30" stroke="#000" stroke-width="0.8" />
<text x="438.40" y="284.40" font-size="7.0" text-anchor="middle" fill="#262626" stroke="#262626" stroke-width="0.14">10<tspan dy="-3" font-size="5.6" stroke-width="0">2</tspan></text>
<text x="455.65" y="284.40" font-size="7.0" text-anchor="middle" fill="#262626" stroke="#262626" stroke-width="0.14">10<tspan dy="-3" font-size="5.6" stroke-width="0">3</tspan></text>
<text x="472.90" y="284.40" font-size="7.0" text-anchor="middle" fill="#262626" stroke="#262626" stroke-width="0.14">10<tspan dy="-3" font-size="5.6" stroke-width="0">4</tspan></text>
<text x="490.15" y="284.40" font-size="7.0" text-anchor="middle" fill="#262626" stroke="#262626" stroke-width="0.14">10<tspan dy="-3" font-size="5.6" stroke-width="0">5</tspan></text>
<text x="507.40" y="284.40" font-size="7.0" text-anchor="middle" fill="#262626" stroke="#262626" stroke-width="0.14">10<tspan dy="-3" font-size="5.6" stroke-width="0">6</tspan></text>
<defs>
<clipPath id="cc00"><path d="M61.80,100.09 L62.58,98.54 L65.69,98.07 L70.36,98.07 L74.26,96.98 L76.60,94.64 L78.93,90.75 L80.49,86.07 L82.83,81.40 L85.16,75.17 L87.50,67.38 L89.06,59.60 L90.30,51.81 L91.39,45.58 L92.17,41.68 L92.95,40.12 L93.73,42.46 L94.51,39.35 L95.29,36.23 L96.07,37.01 L96.84,42.46 L97.62,44.02 L98.40,47.13 L99.18,51.81 L100.27,58.04 L101.21,61.15 L101.83,67.38 L102.76,75.17 L103.85,82.96 L104.94,89.19 L106.19,95.42 L107.75,98.54 L109.31,100.09 Z"/></clipPath>
<clipPath id="cc10"><path d="M181.01,100.09 L184.90,96.98 L188.02,93.86 L189.58,92.31 L191.45,90.75 L192.69,91.99 L194.25,93.08 L195.81,94.64 L197.36,95.42 L198.92,93.86 L200.17,89.19 L200.79,82.96 L201.73,76.73 L202.82,68.94 L203.91,61.15 L204.84,54.92 L205.93,50.25 L207.02,45.58 L207.96,39.35 L208.58,36.23 L209.51,38.57 L210.14,40.90 L211.07,37.79 L212.16,41.68 L212.94,45.58 L213.72,48.69 L214.50,56.48 L215.28,65.83 L216.06,75.17 L217.15,84.52 L218.39,92.31 L219.95,97.76 L221.51,100.09 Z"/></clipPath>
<clipPath id="cc20"><path d="M306.23,100.09 L308.57,96.98 L310.12,93.86 L311.68,89.19 L313.24,82.96 L314.80,73.61 L316.36,64.27 L317.45,54.92 L318.38,47.13 L319.47,39.35 L320.25,37.01 L321.03,38.57 L321.81,36.23 L322.59,38.57 L323.36,42.46 L324.14,47.13 L324.92,53.36 L325.70,56.48 L327.26,59.60 L328.82,61.15 L330.37,62.71 L331.15,59.60 L331.93,63.49 L332.71,58.82 L333.49,65.05 L334.58,66.60 L335.83,66.60 L336.60,68.94 L337.38,73.61 L338.16,78.29 L339.25,82.96 L340.50,87.63 L341.74,92.31 L343.30,96.98 L344.86,100.09 Z"/></clipPath>
<clipPath id="cc30"><path d="M433.45,100.09 L435.79,96.98 L437.66,92.31 L439.21,86.07 L440.77,76.73 L442.33,65.83 L443.58,54.92 L444.82,45.58 L445.91,39.35 L446.69,36.23 L447.47,34.67 L448.25,37.01 L449.34,44.02 L450.27,53.36 L451.36,65.83 L452.14,76.73 L452.92,86.07 L454.17,93.86 L455.73,98.54 L458.37,100.09 Z"/></clipPath>
<clipPath id="cc01"><path d="M62.58,186.09 L67.25,184.54 L71.92,184.07 L75.04,182.20 L77.37,178.31 L78.93,173.63 L80.49,167.40 L82.05,161.17 L83.60,153.38 L85.16,145.60 L86.72,137.81 L88.28,131.58 L89.37,126.90 L90.30,123.79 L91.08,122.54 L92.17,123.79 L93.11,128.46 L94.04,133.13 L94.98,139.36 L96.07,147.15 L97.16,154.94 L98.40,164.29 L99.65,173.63 L100.74,179.86 L101.83,184.54 L103.07,186.09 Z"/></clipPath>
<clipPath id="cc11"><path d="M183.35,186.09 L186.46,183.76 L188.80,181.42 L190.36,179.86 L191.91,178.31 L192.69,177.99 L193.47,179.08 L194.56,181.42 L195.81,184.22 L197.36,185.78 L199.70,185.31 L201.26,184.54 L202.04,182.20 L202.82,178.31 L203.91,170.52 L204.84,162.73 L205.93,154.94 L207.02,147.15 L208.27,139.36 L209.51,131.58 L210.60,126.90 L211.69,123.01 L212.94,121.45 L214.19,122.23 L215.28,127.68 L216.37,136.25 L217.30,144.04 L218.39,153.38 L219.48,162.73 L220.42,170.52 L221.51,178.31 L222.60,182.98 L223.84,186.09 Z"/></clipPath>
<clipPath id="cc21"><path d="M308.01,186.09 L310.35,182.98 L311.90,179.08 L313.46,173.63 L315.02,165.84 L316.58,156.50 L317.82,147.15 L318.91,139.36 L320.00,131.58 L320.94,126.90 L322.03,123.79 L322.81,121.45 L323.59,125.35 L324.36,123.01 L325.14,128.46 L325.92,126.90 L326.70,133.91 L327.48,130.80 L328.26,137.03 L329.04,133.13 L329.82,139.36 L330.60,134.69 L331.37,140.92 L332.15,133.91 L332.93,137.81 L333.71,132.36 L334.49,135.47 L335.27,130.80 L336.05,133.91 L336.83,129.24 L337.60,132.36 L338.38,126.90 L339.16,130.02 L339.94,125.35 L340.72,127.68 L341.50,123.01 L342.28,128.46 L342.74,133.13 L343.37,137.81 L344.15,142.48 L345.08,147.15 L345.86,153.38 L346.64,159.61 L347.42,165.84 L348.20,172.07 L349.29,178.31 L350.53,183.76 L352.09,186.09 Z"/></clipPath>
<clipPath id="cc31"><path d="M434.23,186.09 L436.57,182.98 L438.59,178.31 L440.15,170.52 L441.71,161.17 L443.26,150.27 L444.51,139.36 L445.60,131.58 L446.69,125.35 L447.94,122.23 L449.03,120.67 L449.81,121.45 L450.59,128.46 L451.68,139.36 L452.92,151.83 L454.17,162.73 L455.26,170.52 L456.35,176.75 L457.60,180.64 L459.15,182.98 L461.49,184.54 L463.83,185.63 L466.16,186.09 Z"/></clipPath>
<clipPath id="cc02"><path d="M59.46,272.09 L64.13,270.54 L67.25,268.98 L70.36,266.64 L72.70,264.31 L74.26,262.75 L75.35,259.63 L76.60,254.96 L78.15,248.73 L79.71,242.50 L81.27,236.27 L82.83,230.04 L84.38,223.81 L85.94,219.13 L87.19,216.02 L88.28,212.90 L88.74,208.23 L89.37,214.46 L90.30,217.58 L91.39,220.69 L92.48,226.92 L93.73,233.15 L94.98,240.94 L96.07,247.17 L97.16,253.40 L98.40,259.63 L99.65,264.31 L100.74,268.98 L101.83,271.31 L103.07,272.09 Z"/></clipPath>
<clipPath id="cc12"><path d="M181.79,272.09 L184.12,270.54 L186.46,268.20 L188.80,265.08 L190.36,263.53 L191.91,261.97 L193.47,260.41 L195.03,258.07 L196.12,253.40 L197.05,248.73 L197.68,244.06 L198.45,237.83 L199.23,231.60 L200.17,225.36 L200.95,219.13 L201.73,215.24 L202.82,212.90 L203.91,211.35 L204.84,209.01 L205.46,207.45 L206.24,211.35 L207.02,217.58 L207.96,223.81 L208.58,230.04 L209.51,236.27 L210.14,244.06 L211.07,251.84 L211.85,259.63 L212.63,265.86 L213.72,270.54 L214.81,272.09 Z"/></clipPath>
<clipPath id="cc22"><path d="M305.67,272.09 L308.01,269.76 L310.03,266.64 L311.90,261.19 L313.46,253.40 L315.02,244.06 L316.26,234.71 L317.36,225.36 L318.45,217.58 L319.38,212.90 L320.16,209.01 L320.94,207.45 L321.72,209.79 L322.50,208.23 L323.27,212.90 L324.05,217.58 L324.83,220.69 L325.92,223.81 L326.70,226.92 L327.48,222.25 L328.26,225.36 L329.04,228.48 L329.82,229.26 L330.60,230.04 L331.37,234.71 L332.15,239.38 L332.93,244.06 L333.71,248.73 L334.49,253.40 L335.58,258.07 L336.83,262.75 L338.07,267.42 L339.63,270.54 L341.50,272.09 Z"/></clipPath>
<clipPath id="cc32"><path d="M432.67,272.09 L435.01,270.22 L437.03,266.64 L438.90,261.19 L440.46,251.84 L442.02,240.94 L443.26,230.04 L444.36,220.69 L445.45,214.46 L446.38,209.79 L447.16,206.67 L447.94,209.01 L449.03,216.02 L450.12,225.36 L451.05,236.27 L452.14,247.17 L453.23,256.52 L454.48,264.31 L455.73,268.98 L457.28,271.31 L459.93,272.09 Z"/></clipPath>
</defs>
<path d="M61.80,100.09 L62.58,98.54 L65.69,98.07 L70.36,98.07 L74.26,96.98 L76.60,94.64 L78.93,90.75 L80.49,86.07 L82.83,81.40 L85.16,75.17 L87.50,67.38 L89.06,59.60 L90.30,51.81 L91.39,45.58 L92.17,41.68 L92.95,40.12 L93.73,42.46 L94.51,39.35 L95.29,36.23 L96.07,37.01 L96.84,42.46 L97.62,44.02 L98.40,47.13 L99.18,51.81 L100.27,58.04 L101.21,61.15 L101.83,67.38 L102.76,75.17 L103.85,82.96 L104.94,89.19 L106.19,95.42 L107.75,98.54 L109.31,100.09 Z" fill="#98e8fc"/>
<path d="M51.67,100.09 L56.35,95.42 L59.46,89.19 L61.02,81.40 L62.58,70.50 L63.82,59.60 L64.91,48.69 L65.69,40.90 L66.47,37.01 L66.94,35.45 L67.72,36.23 L68.50,40.12 L69.59,45.58 L70.36,54.92 L71.14,64.27 L71.92,75.17 L72.70,84.52 L73.79,92.31 L75.04,96.98 L76.60,100.09 Z" fill="#ffa9aa"/>
<path d="M51.67,100.09 L56.35,95.42 L59.46,89.19 L61.02,81.40 L62.58,70.50 L63.82,59.60 L64.91,48.69 L65.69,40.90 L66.47,37.01 L66.94,35.45 L67.72,36.23 L68.50,40.12 L69.59,45.58 L70.36,54.92 L71.14,64.27 L71.92,75.17 L72.70,84.52 L73.79,92.31 L75.04,96.98 L76.60,100.09 Z" fill="#99b8cf" clip-path="url(#cc00)"/>
<path d="M51.67,100.09 L56.35,95.42 L59.46,89.19 L61.02,81.40 L62.58,70.50 L63.82,59.60 L64.91,48.69 L65.69,40.90 L66.47,37.01 L66.94,35.45 L67.72,36.23 L68.50,40.12 L69.59,45.58 L70.36,54.92 L71.14,64.27 L71.92,75.17 L72.70,84.52 L73.79,92.31 L75.04,96.98 L76.60,100.09" fill="none" stroke="#ff3040" stroke-width="0.75"/>
<path d="M51.67,100.09 L56.35,95.42 L59.46,89.19 L61.02,81.40 L62.58,70.50 L63.82,59.60 L64.91,48.69 L65.69,40.90 L66.47,37.01 L66.94,35.45 L67.72,36.23 L68.50,40.12 L69.59,45.58 L70.36,54.92 L71.14,64.27 L71.92,75.17 L72.70,84.52 L73.79,92.31 L75.04,96.98 L76.60,100.09" fill="none" stroke="#a8788f" stroke-width="0.8" clip-path="url(#cc00)"/>
<path d="M61.80,100.09 L62.58,98.54 L65.69,98.07 L70.36,98.07 L74.26,96.98 L76.60,94.64 L78.93,90.75 L80.49,86.07 L82.83,81.40 L85.16,75.17 L87.50,67.38 L89.06,59.60 L90.30,51.81 L91.39,45.58 L92.17,41.68 L92.95,40.12 L93.73,42.46 L94.51,39.35 L95.29,36.23 L96.07,37.01 L96.84,42.46 L97.62,44.02 L98.40,47.13 L99.18,51.81 L100.27,58.04 L101.21,61.15 L101.83,67.38 L102.76,75.17 L103.85,82.96 L104.94,89.19 L106.19,95.42 L107.75,98.54 L109.31,100.09" fill="none" stroke="#19c2f2" stroke-width="0.95"/>
<path d="M181.01,100.09 L184.90,96.98 L188.02,93.86 L189.58,92.31 L191.45,90.75 L192.69,91.99 L194.25,93.08 L195.81,94.64 L197.36,95.42 L198.92,93.86 L200.17,89.19 L200.79,82.96 L201.73,76.73 L202.82,68.94 L203.91,61.15 L204.84,54.92 L205.93,50.25 L207.02,45.58 L207.96,39.35 L208.58,36.23 L209.51,38.57 L210.14,40.90 L211.07,37.79 L212.16,41.68 L212.94,45.58 L213.72,48.69 L214.50,56.48 L215.28,65.83 L216.06,75.17 L217.15,84.52 L218.39,92.31 L219.95,97.76 L221.51,100.09 Z" fill="#98e8fc"/>
<path d="M180.23,100.09 L183.35,96.98 L185.68,92.31 L187.24,86.07 L188.80,76.73 L190.36,65.83 L191.45,56.48 L192.69,47.13 L193.94,39.35 L195.03,36.23 L195.81,37.01 L196.59,42.46 L197.36,50.25 L198.14,56.48 L198.92,65.83 L199.39,75.17 L200.17,82.96 L201.26,90.75 L202.82,95.42 L204.37,98.54 L205.93,100.09 Z" fill="#ffa9aa"/>
<path d="M180.23,100.09 L183.35,96.98 L185.68,92.31 L187.24,86.07 L188.80,76.73 L190.36,65.83 L191.45,56.48 L192.69,47.13 L193.94,39.35 L195.03,36.23 L195.81,37.01 L196.59,42.46 L197.36,50.25 L198.14,56.48 L198.92,65.83 L199.39,75.17 L200.17,82.96 L201.26,90.75 L202.82,95.42 L204.37,98.54 L205.93,100.09 Z" fill="#99b8cf" clip-path="url(#cc10)"/>
<path d="M180.23,100.09 L183.35,96.98 L185.68,92.31 L187.24,86.07 L188.80,76.73 L190.36,65.83 L191.45,56.48 L192.69,47.13 L193.94,39.35 L195.03,36.23 L195.81,37.01 L196.59,42.46 L197.36,50.25 L198.14,56.48 L198.92,65.83 L199.39,75.17 L200.17,82.96 L201.26,90.75 L202.82,95.42 L204.37,98.54 L205.93,100.09" fill="none" stroke="#ff3040" stroke-width="0.75"/>
<path d="M180.23,100.09 L183.35,96.98 L185.68,92.31 L187.24,86.07 L188.80,76.73 L190.36,65.83 L191.45,56.48 L192.69,47.13 L193.94,39.35 L195.03,36.23 L195.81,37.01 L196.59,42.46 L197.36,50.25 L198.14,56.48 L198.92,65.83 L199.39,75.17 L200.17,82.96 L201.26,90.75 L202.82,95.42 L204.37,98.54 L205.93,100.09" fill="none" stroke="#a8788f" stroke-width="0.8" clip-path="url(#cc10)"/>
<path d="M181.01,100.09 L184.90,96.98 L188.02,93.86 L189.58,92.31 L191.45,90.75 L192.69,91.99 L194.25,93.08 L195.81,94.64 L197.36,95.42 L198.92,93.86 L200.17,89.19 L200.79,82.96 L201.73,76.73 L202.82,68.94 L203.91,61.15 L204.84,54.92 L205.93,50.25 L207.02,45.58 L207.96,39.35 L208.58,36.23 L209.51,38.57 L210.14,40.90 L211.07,37.79 L212.16,41.68 L212.94,45.58 L213.72,48.69 L214.50,56.48 L215.28,65.83 L216.06,75.17 L217.15,84.52 L218.39,92.31 L219.95,97.76 L221.51,100.09" fill="none" stroke="#19c2f2" stroke-width="0.95"/>
<path d="M306.23,100.09 L308.57,96.98 L310.12,93.86 L311.68,89.19 L313.24,82.96 L314.80,73.61 L316.36,64.27 L317.45,54.92 L318.38,47.13 L319.47,39.35 L320.25,37.01 L321.03,38.57 L321.81,36.23 L322.59,38.57 L323.36,42.46 L324.14,47.13 L324.92,53.36 L325.70,56.48 L327.26,59.60 L328.82,61.15 L330.37,62.71 L331.15,59.60 L331.93,63.49 L332.71,58.82 L333.49,65.05 L334.58,66.60 L335.83,66.60 L336.60,68.94 L337.38,73.61 L338.16,78.29 L339.25,82.96 L340.50,87.63 L341.74,92.31 L343.30,96.98 L344.86,100.09 Z" fill="#98e8fc"/>
<path d="M309.35,100.09 L311.68,95.42 L313.24,89.19 L314.80,79.84 L316.36,68.94 L317.45,58.04 L318.69,48.69 L319.78,40.90 L320.56,36.23 L321.34,35.45 L322.12,37.79 L323.05,44.02 L323.83,50.25 L324.61,56.48 L325.70,65.83 L326.79,73.61 L328.04,81.40 L329.60,89.19 L331.15,95.42 L332.71,98.54 L333.49,100.09 Z" fill="#ffa9aa"/>
<path d="M309.35,100.09 L311.68,95.42 L313.24,89.19 L314.80,79.84 L316.36,68.94 L317.45,58.04 L318.69,48.69 L319.78,40.90 L320.56,36.23 L321.34,35.45 L322.12,37.79 L323.05,44.02 L323.83,50.25 L324.61,56.48 L325.70,65.83 L326.79,73.61 L328.04,81.40 L329.60,89.19 L331.15,95.42 L332.71,98.54 L333.49,100.09 Z" fill="#99b8cf" clip-path="url(#cc20)"/>
<path d="M309.35,100.09 L311.68,95.42 L313.24,89.19 L314.80,79.84 L316.36,68.94 L317.45,58.04 L318.69,48.69 L319.78,40.90 L320.56,36.23 L321.34,35.45 L322.12,37.79 L323.05,44.02 L323.83,50.25 L324.61,56.48 L325.70,65.83 L326.79,73.61 L328.04,81.40 L329.60,89.19 L331.15,95.42 L332.71,98.54 L333.49,100.09" fill="none" stroke="#ff3040" stroke-width="0.75"/>
<path d="M309.35,100.09 L311.68,95.42 L313.24,89.19 L314.80,79.84 L316.36,68.94 L317.45,58.04 L318.69,48.69 L319.78,40.90 L320.56,36.23 L321.34,35.45 L322.12,37.79 L323.05,44.02 L323.83,50.25 L324.61,56.48 L325.70,65.83 L326.79,73.61 L328.04,81.40 L329.60,89.19 L331.15,95.42 L332.71,98.54 L333.49,100.09" fill="none" stroke="#a8788f" stroke-width="0.8" clip-path="url(#cc20)"/>
<path d="M306.23,100.09 L308.57,96.98 L310.12,93.86 L311.68,89.19 L313.24,82.96 L314.80,73.61 L316.36,64.27 L317.45,54.92 L318.38,47.13 L319.47,39.35 L320.25,37.01 L321.03,38.57 L321.81,36.23 L322.59,38.57 L323.36,42.46 L324.14,47.13 L324.92,53.36 L325.70,56.48 L327.26,59.60 L328.82,61.15 L330.37,62.71 L331.15,59.60 L331.93,63.49 L332.71,58.82 L333.49,65.05 L334.58,66.60 L335.83,66.60 L336.60,68.94 L337.38,73.61 L338.16,78.29 L339.25,82.96 L340.50,87.63 L341.74,92.31 L343.30,96.98 L344.86,100.09" fill="none" stroke="#19c2f2" stroke-width="0.95"/>
<path d="M433.45,100.09 L435.79,96.98 L437.66,92.31 L439.21,86.07 L440.77,76.73 L442.33,65.83 L443.58,54.92 L444.82,45.58 L445.91,39.35 L446.69,36.23 L447.47,34.67 L448.25,37.01 L449.34,44.02 L450.27,53.36 L451.36,65.83 L452.14,76.73 L452.92,86.07 L454.17,93.86 L455.73,98.54 L458.37,100.09 Z" fill="#98e8fc"/>
<path d="M434.23,100.09 L436.57,96.98 L438.59,92.31 L440.15,84.52 L441.71,75.17 L443.26,64.27 L444.36,53.36 L445.45,45.58 L446.38,40.90 L447.16,39.35 L447.94,40.90 L449.03,47.13 L449.81,54.92 L450.59,64.27 L451.36,73.61 L452.14,82.96 L453.23,90.75 L454.48,96.20 L456.04,99.31 L457.60,100.09 Z" fill="#ffa9aa"/>
<path d="M434.23,100.09 L436.57,96.98 L438.59,92.31 L440.15,84.52 L441.71,75.17 L443.26,64.27 L444.36,53.36 L445.45,45.58 L446.38,40.90 L447.16,39.35 L447.94,40.90 L449.03,47.13 L449.81,54.92 L450.59,64.27 L451.36,73.61 L452.14,82.96 L453.23,90.75 L454.48,96.20 L456.04,99.31 L457.60,100.09 Z" fill="#99b8cf" clip-path="url(#cc30)"/>
<path d="M434.23,100.09 L436.57,96.98 L438.59,92.31 L440.15,84.52 L441.71,75.17 L443.26,64.27 L444.36,53.36 L445.45,45.58 L446.38,40.90 L447.16,39.35 L447.94,40.90 L449.03,47.13 L449.81,54.92 L450.59,64.27 L451.36,73.61 L452.14,82.96 L453.23,90.75 L454.48,96.20 L456.04,99.31 L457.60,100.09" fill="none" stroke="#ff3040" stroke-width="0.75"/>
<path d="M434.23,100.09 L436.57,96.98 L438.59,92.31 L440.15,84.52 L441.71,75.17 L443.26,64.27 L444.36,53.36 L445.45,45.58 L446.38,40.90 L447.16,39.35 L447.94,40.90 L449.03,47.13 L449.81,54.92 L450.59,64.27 L451.36,73.61 L452.14,82.96 L453.23,90.75 L454.48,96.20 L456.04,99.31 L457.60,100.09" fill="none" stroke="#a8788f" stroke-width="0.8" clip-path="url(#cc30)"/>
<path d="M433.45,100.09 L435.79,96.98 L437.66,92.31 L439.21,86.07 L440.77,76.73 L442.33,65.83 L443.58,54.92 L444.82,45.58 L445.91,39.35 L446.69,36.23 L447.47,34.67 L448.25,37.01 L449.34,44.02 L450.27,53.36 L451.36,65.83 L452.14,76.73 L452.92,86.07 L454.17,93.86 L455.73,98.54 L458.37,100.09" fill="none" stroke="#19c2f2" stroke-width="0.95"/>
<path d="M62.58,186.09 L67.25,184.54 L71.92,184.07 L75.04,182.20 L77.37,178.31 L78.93,173.63 L80.49,167.40 L82.05,161.17 L83.60,153.38 L85.16,145.60 L86.72,137.81 L88.28,131.58 L89.37,126.90 L90.30,123.79 L91.08,122.54 L92.17,123.79 L93.11,128.46 L94.04,133.13 L94.98,139.36 L96.07,147.15 L97.16,154.94 L98.40,164.29 L99.65,173.63 L100.74,179.86 L101.83,184.54 L103.07,186.09 Z" fill="#98e8fc"/>
<path d="M51.67,186.09 L56.35,181.42 L59.46,175.19 L61.02,167.40 L62.58,156.50 L63.82,145.60 L64.91,134.69 L65.69,126.90 L66.47,123.01 L66.94,121.45 L67.72,122.23 L68.50,126.12 L69.59,131.58 L70.36,140.92 L71.14,150.27 L71.92,161.17 L72.70,170.52 L73.79,178.31 L75.04,182.98 L76.60,186.09 Z" fill="#ffa9aa"/>
<path d="M51.67,186.09 L56.35,181.42 L59.46,175.19 L61.02,167.40 L62.58,156.50 L63.82,145.60 L64.91,134.69 L65.69,126.90 L66.47,123.01 L66.94,121.45 L67.72,122.23 L68.50,126.12 L69.59,131.58 L70.36,140.92 L71.14,150.27 L71.92,161.17 L72.70,170.52 L73.79,178.31 L75.04,182.98 L76.60,186.09 Z" fill="#99b8cf" clip-path="url(#cc01)"/>
<path d="M51.67,186.09 L56.35,181.42 L59.46,175.19 L61.02,167.40 L62.58,156.50 L63.82,145.60 L64.91,134.69 L65.69,126.90 L66.47,123.01 L66.94,121.45 L67.72,122.23 L68.50,126.12 L69.59,131.58 L70.36,140.92 L71.14,150.27 L71.92,161.17 L72.70,170.52 L73.79,178.31 L75.04,182.98 L76.60,186.09" fill="none" stroke="#ff3040" stroke-width="0.75"/>
<path d="M51.67,186.09 L56.35,181.42 L59.46,175.19 L61.02,167.40 L62.58,156.50 L63.82,145.60 L64.91,134.69 L65.69,126.90 L66.47,123.01 L66.94,121.45 L67.72,122.23 L68.50,126.12 L69.59,131.58 L70.36,140.92 L71.14,150.27 L71.92,161.17 L72.70,170.52 L73.79,178.31 L75.04,182.98 L76.60,186.09" fill="none" stroke="#a8788f" stroke-width="0.8" clip-path="url(#cc01)"/>
<path d="M62.58,186.09 L67.25,184.54 L71.92,184.07 L75.04,182.20 L77.37,178.31 L78.93,173.63 L80.49,167.40 L82.05,161.17 L83.60,153.38 L85.16,145.60 L86.72,137.81 L88.28,131.58 L89.37,126.90 L90.30,123.79 L91.08,122.54 L92.17,123.79 L93.11,128.46 L94.04,133.13 L94.98,139.36 L96.07,147.15 L97.16,154.94 L98.40,164.29 L99.65,173.63 L100.74,179.86 L101.83,184.54 L103.07,186.09" fill="none" stroke="#19c2f2" stroke-width="0.95"/>
<path d="M183.35,186.09 L186.46,183.76 L188.80,181.42 L190.36,179.86 L191.91,178.31 L192.69,177.99 L193.47,179.08 L194.56,181.42 L195.81,184.22 L197.36,185.78 L199.70,185.31 L201.26,184.54 L202.04,182.20 L202.82,178.31 L203.91,170.52 L204.84,162.73 L205.93,154.94 L207.02,147.15 L208.27,139.36 L209.51,131.58 L210.60,126.90 L211.69,123.01 L212.94,121.45 L214.19,122.23 L215.28,127.68 L216.37,136.25 L217.30,144.04 L218.39,153.38 L219.48,162.73 L220.42,170.52 L221.51,178.31 L222.60,182.98 L223.84,186.09 Z" fill="#98e8fc"/>
<path d="M180.23,186.09 L183.35,182.98 L185.68,178.31 L187.24,172.07 L188.80,162.73 L190.36,151.83 L191.45,140.92 L192.69,133.13 L193.94,125.35 L195.03,121.45 L195.81,123.01 L196.59,128.46 L197.36,136.25 L198.14,142.48 L198.92,151.83 L199.70,161.17 L200.48,168.96 L201.41,176.75 L202.50,181.42 L203.91,184.54 L205.93,186.09 Z" fill="#ffa9aa"/>
<path d="M180.23,186.09 L183.35,182.98 L185.68,178.31 L187.24,172.07 L188.80,162.73 L190.36,151.83 L191.45,140.92 L192.69,133.13 L193.94,125.35 L195.03,121.45 L195.81,123.01 L196.59,128.46 L197.36,136.25 L198.14,142.48 L198.92,151.83 L199.70,161.17 L200.48,168.96 L201.41,176.75 L202.50,181.42 L203.91,184.54 L205.93,186.09 Z" fill="#99b8cf" clip-path="url(#cc11)"/>
<path d="M180.23,186.09 L183.35,182.98 L185.68,178.31 L187.24,172.07 L188.80,162.73 L190.36,151.83 L191.45,140.92 L192.69,133.13 L193.94,125.35 L195.03,121.45 L195.81,123.01 L196.59,128.46 L197.36,136.25 L198.14,142.48 L198.92,151.83 L199.70,161.17 L200.48,168.96 L201.41,176.75 L202.50,181.42 L203.91,184.54 L205.93,186.09" fill="none" stroke="#ff3040" stroke-width="0.75"/>
<path d="M180.23,186.09 L183.35,182.98 L185.68,178.31 L187.24,172.07 L188.80,162.73 L190.36,151.83 L191.45,140.92 L192.69,133.13 L193.94,125.35 L195.03,121.45 L195.81,123.01 L196.59,128.46 L197.36,136.25 L198.14,142.48 L198.92,151.83 L199.70,161.17 L200.48,168.96 L201.41,176.75 L202.50,181.42 L203.91,184.54 L205.93,186.09" fill="none" stroke="#a8788f" stroke-width="0.8" clip-path="url(#cc11)"/>
<path d="M183.35,186.09 L186.46,183.76 L188.80,181.42 L190.36,179.86 L191.91,178.31 L192.69,177.99 L193.47,179.08 L194.56,181.42 L195.81,184.22 L197.36,185.78 L199.70,185.31 L201.26,184.54 L202.04,182.20 L202.82,178.31 L203.91,170.52 L204.84,162.73 L205.93,154.94 L207.02,147.15 L208.27,139.36 L209.51,131.58 L210.60,126.90 L211.69,123.01 L212.94,121.45 L214.19,122.23 L215.28,127.68 L216.37,136.25 L217.30,144.04 L218.39,153.38 L219.48,162.73 L220.42,170.52 L221.51,178.31 L222.60,182.98 L223.84,186.09" fill="none" stroke="#19c2f2" stroke-width="0.95"/>
<path d="M308.01,186.09 L310.35,182.98 L311.90,179.08 L313.46,173.63 L315.02,165.84 L316.58,156.50 L317.82,147.15 L318.91,139.36 L320.00,131.58 L320.94,126.90 L322.03,123.79 L322.81,121.45 L323.59,125.35 L324.36,123.01 L325.14,128.46 L325.92,126.90 L326.70,133.91 L327.48,130.80 L328.26,137.03 L329.04,133.13 L329.82,139.36 L330.60,134.69 L331.37,140.92 L332.15,133.91 L332.93,137.81 L333.71,132.36 L334.49,135.47 L335.27,130.80 L336.05,133.91 L336.83,129.24 L337.60,132.36 L338.38,126.90 L339.16,130.02 L339.94,125.35 L340.72,127.68 L341.50,123.01 L342.28,128.46 L342.74,133.13 L343.37,137.81 L344.15,142.48 L345.08,147.15 L345.86,153.38 L346.64,159.61 L347.42,165.84 L348.20,172.07 L349.29,178.31 L350.53,183.76 L352.09,186.09 Z" fill="#98e8fc"/>
<path d="M307.23,186.09 L309.57,182.98 L311.59,178.31 L313.15,170.52 L314.71,161.17 L316.26,150.27 L317.36,140.92 L318.45,133.13 L319.38,126.90 L320.47,122.23 L321.25,120.67 L322.34,125.35 L323.59,131.58 L324.68,139.36 L325.92,147.15 L327.17,156.50 L328.41,165.84 L329.82,175.19 L331.37,181.42 L332.93,184.54 L334.49,186.09 Z" fill="#ffa9aa"/>
<path d="M307.23,186.09 L309.57,182.98 L311.59,178.31 L313.15,170.52 L314.71,161.17 L316.26,150.27 L317.36,140.92 L318.45,133.13 L319.38,126.90 L320.47,122.23 L321.25,120.67 L322.34,125.35 L323.59,131.58 L324.68,139.36 L325.92,147.15 L327.17,156.50 L328.41,165.84 L329.82,175.19 L331.37,181.42 L332.93,184.54 L334.49,186.09 Z" fill="#99b8cf" clip-path="url(#cc21)"/>
<path d="M307.23,186.09 L309.57,182.98 L311.59,178.31 L313.15,170.52 L314.71,161.17 L316.26,150.27 L317.36,140.92 L318.45,133.13 L319.38,126.90 L320.47,122.23 L321.25,120.67 L322.34,125.35 L323.59,131.58 L324.68,139.36 L325.92,147.15 L327.17,156.50 L328.41,165.84 L329.82,175.19 L331.37,181.42 L332.93,184.54 L334.49,186.09" fill="none" stroke="#ff3040" stroke-width="0.75"/>
<path d="M307.23,186.09 L309.57,182.98 L311.59,178.31 L313.15,170.52 L314.71,161.17 L316.26,150.27 L317.36,140.92 L318.45,133.13 L319.38,126.90 L320.47,122.23 L321.25,120.67 L322.34,125.35 L323.59,131.58 L324.68,139.36 L325.92,147.15 L327.17,156.50 L328.41,165.84 L329.82,175.19 L331.37,181.42 L332.93,184.54 L334.49,186.09" fill="none" stroke="#a8788f" stroke-width="0.8" clip-path="url(#cc21)"/>
<path d="M308.01,186.09 L310.35,182.98 L311.90,179.08 L313.46,173.63 L315.02,165.84 L316.58,156.50 L317.82,147.15 L318.91,139.36 L320.00,131.58 L320.94,126.90 L322.03,123.79 L322.81,121.45 L323.59,125.35 L324.36,123.01 L325.14,128.46 L325.92,126.90 L326.70,133.91 L327.48,130.80 L328.26,137.03 L329.04,133.13 L329.82,139.36 L330.60,134.69 L331.37,140.92 L332.15,133.91 L332.93,137.81 L333.71,132.36 L334.49,135.47 L335.27,130.80 L336.05,133.91 L336.83,129.24 L337.60,132.36 L338.38,126.90 L339.16,130.02 L339.94,125.35 L340.72,127.68 L341.50,123.01 L342.28,128.46 L342.74,133.13 L343.37,137.81 L344.15,142.48 L345.08,147.15 L345.86,153.38 L346.64,159.61 L347.42,165.84 L348.20,172.07 L349.29,178.31 L350.53,183.76 L352.09,186.09" fill="none" stroke="#19c2f2" stroke-width="0.95"/>
<path d="M434.23,186.09 L436.57,182.98 L438.59,178.31 L440.15,170.52 L441.71,161.17 L443.26,150.27 L444.51,139.36 L445.60,131.58 L446.69,125.35 L447.94,122.23 L449.03,120.67 L449.81,121.45 L450.59,128.46 L451.68,139.36 L452.92,151.83 L454.17,162.73 L455.26,170.52 L456.35,176.75 L457.60,180.64 L459.15,182.98 L461.49,184.54 L463.83,185.63 L466.16,186.09 Z" fill="#98e8fc"/>
<path d="M435.01,186.09 L437.35,181.42 L439.21,175.19 L440.77,165.84 L442.33,154.94 L443.58,144.04 L444.82,134.69 L445.91,126.90 L447.00,122.23 L447.94,121.45 L449.03,126.90 L450.12,136.25 L451.36,147.15 L452.61,159.61 L453.70,170.52 L454.79,178.31 L456.04,182.98 L457.60,186.09 Z" fill="#ffa9aa"/>
<path d="M435.01,186.09 L437.35,181.42 L439.21,175.19 L440.77,165.84 L442.33,154.94 L443.58,144.04 L444.82,134.69 L445.91,126.90 L447.00,122.23 L447.94,121.45 L449.03,126.90 L450.12,136.25 L451.36,147.15 L452.61,159.61 L453.70,170.52 L454.79,178.31 L456.04,182.98 L457.60,186.09 Z" fill="#99b8cf" clip-path="url(#cc31)"/>
<path d="M435.01,186.09 L437.35,181.42 L439.21,175.19 L440.77,165.84 L442.33,154.94 L443.58,144.04 L444.82,134.69 L445.91,126.90 L447.00,122.23 L447.94,121.45 L449.03,126.90 L450.12,136.25 L451.36,147.15 L452.61,159.61 L453.70,170.52 L454.79,178.31 L456.04,182.98 L457.60,186.09" fill="none" stroke="#ff3040" stroke-width="0.75"/>
<path d="M435.01,186.09 L437.35,181.42 L439.21,175.19 L440.77,165.84 L442.33,154.94 L443.58,144.04 L444.82,134.69 L445.91,126.90 L447.00,122.23 L447.94,121.45 L449.03,126.90 L450.12,136.25 L451.36,147.15 L452.61,159.61 L453.70,170.52 L454.79,178.31 L456.04,182.98 L457.60,186.09" fill="none" stroke="#a8788f" stroke-width="0.8" clip-path="url(#cc31)"/>
<path d="M434.23,186.09 L436.57,182.98 L438.59,178.31 L440.15,170.52 L441.71,161.17 L443.26,150.27 L444.51,139.36 L445.60,131.58 L446.69,125.35 L447.94,122.23 L449.03,120.67 L449.81,121.45 L450.59,128.46 L451.68,139.36 L452.92,151.83 L454.17,162.73 L455.26,170.52 L456.35,176.75 L457.60,180.64 L459.15,182.98 L461.49,184.54 L463.83,185.63 L466.16,186.09" fill="none" stroke="#19c2f2" stroke-width="0.95"/>
<path d="M59.46,272.09 L64.13,270.54 L67.25,268.98 L70.36,266.64 L72.70,264.31 L74.26,262.75 L75.35,259.63 L76.60,254.96 L78.15,248.73 L79.71,242.50 L81.27,236.27 L82.83,230.04 L84.38,223.81 L85.94,219.13 L87.19,216.02 L88.28,212.90 L88.74,208.23 L89.37,214.46 L90.30,217.58 L91.39,220.69 L92.48,226.92 L93.73,233.15 L94.98,240.94 L96.07,247.17 L97.16,253.40 L98.40,259.63 L99.65,264.31 L100.74,268.98 L101.83,271.31 L103.07,272.09 Z" fill="#98e8fc"/>
<path d="M51.67,272.09 L56.35,267.42 L59.46,261.19 L61.02,253.40 L62.58,242.50 L63.82,231.60 L64.91,220.69 L65.69,212.90 L66.47,209.01 L66.94,207.45 L67.72,208.23 L68.50,212.12 L69.59,217.58 L70.36,226.92 L71.14,236.27 L71.92,247.17 L72.70,256.52 L73.79,264.31 L75.04,268.98 L76.60,272.09 Z" fill="#ffa9aa"/>
<path d="M51.67,272.09 L56.35,267.42 L59.46,261.19 L61.02,253.40 L62.58,242.50 L63.82,231.60 L64.91,220.69 L65.69,212.90 L66.47,209.01 L66.94,207.45 L67.72,208.23 L68.50,212.12 L69.59,217.58 L70.36,226.92 L71.14,236.27 L71.92,247.17 L72.70,256.52 L73.79,264.31 L75.04,268.98 L76.60,272.09 Z" fill="#99b8cf" clip-path="url(#cc02)"/>
<path d="M51.67,272.09 L56.35,267.42 L59.46,261.19 L61.02,253.40 L62.58,242.50 L63.82,231.60 L64.91,220.69 L65.69,212.90 L66.47,209.01 L66.94,207.45 L67.72,208.23 L68.50,212.12 L69.59,217.58 L70.36,226.92 L71.14,236.27 L71.92,247.17 L72.70,256.52 L73.79,264.31 L75.04,268.98 L76.60,272.09" fill="none" stroke="#ff3040" stroke-width="0.75"/>
<path d="M51.67,272.09 L56.35,267.42 L59.46,261.19 L61.02,253.40 L62.58,242.50 L63.82,231.60 L64.91,220.69 L65.69,212.90 L66.47,209.01 L66.94,207.45 L67.72,208.23 L68.50,212.12 L69.59,217.58 L70.36,226.92 L71.14,236.27 L71.92,247.17 L72.70,256.52 L73.79,264.31 L75.04,268.98 L76.60,272.09" fill="none" stroke="#a8788f" stroke-width="0.8" clip-path="url(#cc02)"/>
<path d="M59.46,272.09 L64.13,270.54 L67.25,268.98 L70.36,266.64 L72.70,264.31 L74.26,262.75 L75.35,259.63 L76.60,254.96 L78.15,248.73 L79.71,242.50 L81.27,236.27 L82.83,230.04 L84.38,223.81 L85.94,219.13 L87.19,216.02 L88.28,212.90 L88.74,208.23 L89.37,214.46 L90.30,217.58 L91.39,220.69 L92.48,226.92 L93.73,233.15 L94.98,240.94 L96.07,247.17 L97.16,253.40 L98.40,259.63 L99.65,264.31 L100.74,268.98 L101.83,271.31 L103.07,272.09" fill="none" stroke="#19c2f2" stroke-width="0.95"/>
<path d="M181.79,272.09 L184.12,270.54 L186.46,268.20 L188.80,265.08 L190.36,263.53 L191.91,261.97 L193.47,260.41 L195.03,258.07 L196.12,253.40 L197.05,248.73 L197.68,244.06 L198.45,237.83 L199.23,231.60 L200.17,225.36 L200.95,219.13 L201.73,215.24 L202.82,212.90 L203.91,211.35 L204.84,209.01 L205.46,207.45 L206.24,211.35 L207.02,217.58 L207.96,223.81 L208.58,230.04 L209.51,236.27 L210.14,244.06 L211.07,251.84 L211.85,259.63 L212.63,265.86 L213.72,270.54 L214.81,272.09 Z" fill="#98e8fc"/>
<path d="M180.23,272.09 L183.03,268.98 L185.21,264.31 L186.77,258.07 L188.33,248.73 L189.58,239.38 L190.82,230.04 L191.91,220.69 L193.00,214.46 L193.94,209.79 L195.03,207.45 L195.81,209.01 L196.59,214.46 L197.36,222.25 L198.14,228.48 L198.61,237.83 L199.23,247.17 L200.01,254.96 L200.95,262.75 L202.35,267.42 L203.91,270.54 L205.93,272.09 Z" fill="#ffa9aa"/>
<path d="M180.23,272.09 L183.03,268.98 L185.21,264.31 L186.77,258.07 L188.33,248.73 L189.58,239.38 L190.82,230.04 L191.91,220.69 L193.00,214.46 L193.94,209.79 L195.03,207.45 L195.81,209.01 L196.59,214.46 L197.36,222.25 L198.14,228.48 L198.61,237.83 L199.23,247.17 L200.01,254.96 L200.95,262.75 L202.35,267.42 L203.91,270.54 L205.93,272.09 Z" fill="#99b8cf" clip-path="url(#cc12)"/>
<path d="M180.23,272.09 L183.03,268.98 L185.21,264.31 L186.77,258.07 L188.33,248.73 L189.58,239.38 L190.82,230.04 L191.91,220.69 L193.00,214.46 L193.94,209.79 L195.03,207.45 L195.81,209.01 L196.59,214.46 L197.36,222.25 L198.14,228.48 L198.61,237.83 L199.23,247.17 L200.01,254.96 L200.95,262.75 L202.35,267.42 L203.91,270.54 L205.93,272.09" fill="none" stroke="#ff3040" stroke-width="0.75"/>
<path d="M180.23,272.09 L183.03,268.98 L185.21,264.31 L186.77,258.07 L188.33,248.73 L189.58,239.38 L190.82,230.04 L191.91,220.69 L193.00,214.46 L193.94,209.79 L195.03,207.45 L195.81,209.01 L196.59,214.46 L197.36,222.25 L198.14,228.48 L198.61,237.83 L199.23,247.17 L200.01,254.96 L200.95,262.75 L202.35,267.42 L203.91,270.54 L205.93,272.09" fill="none" stroke="#a8788f" stroke-width="0.8" clip-path="url(#cc12)"/>
<path d="M181.79,272.09 L184.12,270.54 L186.46,268.20 L188.80,265.08 L190.36,263.53 L191.91,261.97 L193.47,260.41 L195.03,258.07 L196.12,253.40 L197.05,248.73 L197.68,244.06 L198.45,237.83 L199.23,231.60 L200.17,225.36 L200.95,219.13 L201.73,215.24 L202.82,212.90 L203.91,211.35 L204.84,209.01 L205.46,207.45 L206.24,211.35 L207.02,217.58 L207.96,223.81 L208.58,230.04 L209.51,236.27 L210.14,244.06 L211.07,251.84 L211.85,259.63 L212.63,265.86 L213.72,270.54 L214.81,272.09" fill="none" stroke="#19c2f2" stroke-width="0.95"/>
<path d="M305.67,272.09 L308.01,269.76 L310.03,266.64 L311.90,261.19 L313.46,253.40 L315.02,244.06 L316.26,234.71 L317.36,225.36 L318.45,217.58 L319.38,212.90 L320.16,209.01 L320.94,207.45 L321.72,209.79 L322.50,208.23 L323.27,212.90 L324.05,217.58 L324.83,220.69 L325.92,223.81 L326.70,226.92 L327.48,222.25 L328.26,225.36 L329.04,228.48 L329.82,229.26 L330.60,230.04 L331.37,234.71 L332.15,239.38 L332.93,244.06 L333.71,248.73 L334.49,253.40 L335.58,258.07 L336.83,262.75 L338.07,267.42 L339.63,270.54 L341.50,272.09 Z" fill="#98e8fc"/>
<path d="M308.79,272.09 L311.12,267.42 L312.68,261.19 L314.24,251.84 L315.80,240.94 L317.04,230.04 L318.13,220.69 L319.22,214.46 L320.00,209.79 L320.94,207.45 L321.87,208.23 L322.81,212.90 L323.59,217.58 L324.36,222.25 L325.14,228.48 L325.92,236.27 L327.17,245.61 L328.26,253.40 L329.50,261.19 L330.91,267.42 L332.46,270.54 L334.02,272.09 Z" fill="#ffa9aa"/>
<path d="M308.79,272.09 L311.12,267.42 L312.68,261.19 L314.24,251.84 L315.80,240.94 L317.04,230.04 L318.13,220.69 L319.22,214.46 L320.00,209.79 L320.94,207.45 L321.87,208.23 L322.81,212.90 L323.59,217.58 L324.36,222.25 L325.14,228.48 L325.92,236.27 L327.17,245.61 L328.26,253.40 L329.50,261.19 L330.91,267.42 L332.46,270.54 L334.02,272.09 Z" fill="#99b8cf" clip-path="url(#cc22)"/>
<path d="M308.79,272.09 L311.12,267.42 L312.68,261.19 L314.24,251.84 L315.80,240.94 L317.04,230.04 L318.13,220.69 L319.22,214.46 L320.00,209.79 L320.94,207.45 L321.87,208.23 L322.81,212.90 L323.59,217.58 L324.36,222.25 L325.14,228.48 L325.92,236.27 L327.17,245.61 L328.26,253.40 L329.50,261.19 L330.91,267.42 L332.46,270.54 L334.02,272.09" fill="none" stroke="#ff3040" stroke-width="0.75"/>
<path d="M308.79,272.09 L311.12,267.42 L312.68,261.19 L314.24,251.84 L315.80,240.94 L317.04,230.04 L318.13,220.69 L319.22,214.46 L320.00,209.79 L320.94,207.45 L321.87,208.23 L322.81,212.90 L323.59,217.58 L324.36,222.25 L325.14,228.48 L325.92,236.27 L327.17,245.61 L328.26,253.40 L329.50,261.19 L330.91,267.42 L332.46,270.54 L334.02,272.09" fill="none" stroke="#a8788f" stroke-width="0.8" clip-path="url(#cc22)"/>
<path d="M305.67,272.09 L308.01,269.76 L310.03,266.64 L311.90,261.19 L313.46,253.40 L315.02,244.06 L316.26,234.71 L317.36,225.36 L318.45,217.58 L319.38,212.90 L320.16,209.01 L320.94,207.45 L321.72,209.79 L322.50,208.23 L323.27,212.90 L324.05,217.58 L324.83,220.69 L325.92,223.81 L326.70,226.92 L327.48,222.25 L328.26,225.36 L329.04,228.48 L329.82,229.26 L330.60,230.04 L331.37,234.71 L332.15,239.38 L332.93,244.06 L333.71,248.73 L334.49,253.40 L335.58,258.07 L336.83,262.75 L338.07,267.42 L339.63,270.54 L341.50,272.09" fill="none" stroke="#19c2f2" stroke-width="0.95"/>
<path d="M432.67,272.09 L435.01,270.22 L437.03,266.64 L438.90,261.19 L440.46,251.84 L442.02,240.94 L443.26,230.04 L444.36,220.69 L445.45,214.46 L446.38,209.79 L447.16,206.67 L447.94,209.01 L449.03,216.02 L450.12,225.36 L451.05,236.27 L452.14,247.17 L453.23,256.52 L454.48,264.31 L455.73,268.98 L457.28,271.31 L459.93,272.09 Z" fill="#98e8fc"/>
<path d="M435.01,272.09 L437.35,267.42 L439.21,261.19 L440.77,251.84 L442.33,240.94 L443.58,230.04 L444.67,220.69 L445.60,214.46 L446.38,210.57 L447.16,209.01 L447.94,209.79 L449.03,216.02 L450.12,225.36 L451.05,236.27 L452.14,247.17 L453.23,256.52 L454.48,264.31 L456.04,269.76 L457.60,272.09 Z" fill="#ffa9aa"/>
<path d="M435.01,272.09 L437.35,267.42 L439.21,261.19 L440.77,251.84 L442.33,240.94 L443.58,230.04 L444.67,220.69 L445.60,214.46 L446.38,210.57 L447.16,209.01 L447.94,209.79 L449.03,216.02 L450.12,225.36 L451.05,236.27 L452.14,247.17 L453.23,256.52 L454.48,264.31 L456.04,269.76 L457.60,272.09 Z" fill="#99b8cf" clip-path="url(#cc32)"/>
<path d="M435.01,272.09 L437.35,267.42 L439.21,261.19 L440.77,251.84 L442.33,240.94 L443.58,230.04 L444.67,220.69 L445.60,214.46 L446.38,210.57 L447.16,209.01 L447.94,209.79 L449.03,216.02 L450.12,225.36 L451.05,236.27 L452.14,247.17 L453.23,256.52 L454.48,264.31 L456.04,269.76 L457.60,272.09" fill="none" stroke="#ff3040" stroke-width="0.75"/>
<path d="M435.01,272.09 L437.35,267.42 L439.21,261.19 L440.77,251.84 L442.33,240.94 L443.58,230.04 L444.67,220.69 L445.60,214.46 L446.38,210.57 L447.16,209.01 L447.94,209.79 L449.03,216.02 L450.12,225.36 L451.05,236.27 L452.14,247.17 L453.23,256.52 L454.48,264.31 L456.04,269.76 L457.60,272.09" fill="none" stroke="#a8788f" stroke-width="0.8" clip-path="url(#cc32)"/>
<path d="M432.67,272.09 L435.01,270.22 L437.03,266.64 L438.90,261.19 L440.46,251.84 L442.02,240.94 L443.26,230.04 L444.36,220.69 L445.45,214.46 L446.38,209.79 L447.16,206.67 L447.94,209.01 L449.03,216.02 L450.12,225.36 L451.05,236.27 L452.14,247.17 L453.23,256.52 L454.48,264.31 L455.73,268.98 L457.28,271.31 L459.93,272.09" fill="none" stroke="#19c2f2" stroke-width="0.95"/>
<rect x="48.30" y="31.50" width="78.9" height="69.3" fill="none" stroke="#000" stroke-width="1.25"/>
<rect x="48.30" y="117.70" width="78.9" height="69.3" fill="none" stroke="#000" stroke-width="1.25"/>
<rect x="48.30" y="203.60" width="78.9" height="69.3" fill="none" stroke="#000" stroke-width="1.25"/>
<rect x="175.30" y="31.50" width="78.9" height="69.3" fill="none" stroke="#000" stroke-width="1.25"/>
<rect x="175.30" y="117.70" width="78.9" height="69.3" fill="none" stroke="#000" stroke-width="1.25"/>
<rect x="175.30" y="203.60" width="78.9" height="69.3" fill="none" stroke="#000" stroke-width="1.25"/>
<rect x="302.30" y="31.50" width="78.9" height="69.3" fill="none" stroke="#000" stroke-width="1.25"/>
<rect x="302.30" y="117.70" width="78.9" height="69.3" fill="none" stroke="#000" stroke-width="1.25"/>
<rect x="302.30" y="203.60" width="78.9" height="69.3" fill="none" stroke="#000" stroke-width="1.25"/>
<rect x="429.30" y="31.50" width="78.9" height="69.3" fill="none" stroke="#000" stroke-width="1.25"/>
<rect x="429.30" y="117.70" width="78.9" height="69.3" fill="none" stroke="#000" stroke-width="1.25"/>
<rect x="429.30" y="203.60" width="78.9" height="69.3" fill="none" stroke="#000" stroke-width="1.25"/>
<line x1="21.40" y1="35.00" x2="21.40" y2="53.70" stroke="#222" stroke-width="1.0" />
<path d="M19.299999999999997,36 L21.4,31.4 L23.5,36 Z" fill="#111"/>
<line x1="21.40" y1="78.70" x2="21.40" y2="133.00" stroke="#222" stroke-width="1.0" />
<line x1="21.40" y1="172.20" x2="21.40" y2="226.70" stroke="#222" stroke-width="1.0" />
<line x1="21.40" y1="249.30" x2="21.40" y2="272.40" stroke="#222" stroke-width="1.0" />
<text x="0" y="0" font-size="9.6" text-anchor="middle" stroke="#262626" stroke-width="0.14" textLength="18.20" lengthAdjust="spacingAndGlyphs" transform="translate(24.40,65.90) rotate(-90)">T-1A5</text>
<text x="0" y="0" font-size="9.6" text-anchor="middle" stroke="#262626" stroke-width="0.14" textLength="33.20" lengthAdjust="spacingAndGlyphs" transform="translate(24.40,152.60) rotate(-90)">HEK5-1B3</text>
<text x="0" y="0" font-size="9.6" text-anchor="middle" stroke="#262626" stroke-width="0.14" textLength="17.20" lengthAdjust="spacingAndGlyphs" transform="translate(24.30,237.80) rotate(-90)">58B1</text>
<line x1="38.60" y1="290.80" x2="260.00" y2="290.80" stroke="#222" stroke-width="1.1" />
<line x1="286.20" y1="290.80" x2="504.00" y2="290.80" stroke="#222" stroke-width="1.1" />
<path d="M503.2,288.6 L508.2,290.8 L503.2,293.0 Z" fill="#111"/>
<text x="262.70" y="293.90" font-size="9.6" stroke="#262626" stroke-width="0.14" textLength="20.40" lengthAdjust="spacingAndGlyphs" >B7-H3</text>
<text x="7.00" y="305.80" font-size="11.8" font-weight="bold" fill="#000" stroke="#000" stroke-width="0.35">B</text>
<text x="32.60" y="305.50" font-size="6.3" stroke="#262626" stroke-width="0.14" textLength="39.40" lengthAdjust="spacingAndGlyphs" >AML-PDX cell</text>
<text x="40.00" y="312.80" font-size="6.3" stroke="#262626" stroke-width="0.14" textLength="24.60" lengthAdjust="spacingAndGlyphs" >injection</text>
<text x="25.8" y="320.9" font-size="6.3" fill="#262626" stroke="#262626" stroke-width="0.14" textLength="53.1" lengthAdjust="spacingAndGlyphs">2 ×10<tspan dy="-2.2" font-size="4.4">6</tspan><tspan dy="2.2"> cells/mouse</tspan></text>
<text x="81.80" y="305.40" font-size="6.3" stroke="#262626" stroke-width="0.14" textLength="147.20" lengthAdjust="spacingAndGlyphs" >Treatment with IgG1 isotype antibody or anti-B7-H3</text>
<text x="100.50" y="313.20" font-size="6.3" stroke="#262626" stroke-width="0.14" textLength="109.80" lengthAdjust="spacingAndGlyphs" >antibodies (HEK1B3A3, 58B1 or T1A5)</text>
<text x="122.10" y="320.60" font-size="6.3" stroke="#262626" stroke-width="0.14" textLength="65.90" lengthAdjust="spacingAndGlyphs" >(1mg/kg, twice a week)</text>
<line x1="49.2" y1="337.1" x2="49.2" y2="347.1" stroke="#134686" stroke-width="2.0"/>
<path d="M46.300000000000004,346.5 L49.2,347.1 L52.1,346.5 L49.2,351.9 Z" fill="#134686"/>
<line x1="105.5" y1="316.9" x2="105.5" y2="326.50000000000006" stroke="#134686" stroke-width="2.0"/>
<path d="M102.6,325.90000000000003 L105.5,326.50000000000006 L108.4,325.90000000000003 L105.5,331.3 Z" fill="#134686"/>
<line x1="38.70" y1="371.70" x2="249.00" y2="371.70" stroke="#134686" stroke-width="2.0" />
<path d="M247.3,368.6 L253.2,371.7 L247.3,374.8 Z" fill="#134686"/>
<text x="41.90" y="368.50" font-size="7.4" stroke="#262626" stroke-width="0.14" textLength="14.60" lengthAdjust="spacingAndGlyphs" >Day0</text>
<text x="60.80" y="361.70" font-size="7.4" stroke="#262626" stroke-width="0.14" textLength="19.20" lengthAdjust="spacingAndGlyphs" >Week1</text>
<text x="81.90" y="368.50" font-size="7.4" stroke="#262626" stroke-width="0.14" textLength="19.30" lengthAdjust="spacingAndGlyphs" >Week2</text>
<text x="102.80" y="362.00" font-size="7.4" stroke="#262626" stroke-width="0.14" textLength="19.50" lengthAdjust="spacingAndGlyphs" >Week9</text>
<text x="122.30" y="368.30" font-size="7.4" stroke="#262626" stroke-width="0.14" textLength="23.10" lengthAdjust="spacingAndGlyphs" >Week10</text>
<text x="143.00" y="362.00" font-size="7.4" stroke="#262626" stroke-width="0.14" textLength="23.20" lengthAdjust="spacingAndGlyphs" >Week11</text>
<text x="164.20" y="368.30" font-size="7.4" stroke="#262626" stroke-width="0.14" textLength="23.10" lengthAdjust="spacingAndGlyphs" >Week12</text>
<text x="185.20" y="362.00" font-size="7.4" stroke="#262626" stroke-width="0.14" textLength="22.80" lengthAdjust="spacingAndGlyphs" >Week13</text>
<text x="206.30" y="368.30" font-size="7.4" stroke="#262626" stroke-width="0.14" textLength="22.50" lengthAdjust="spacingAndGlyphs" >Week14</text>
<text x="227.10" y="362.00" font-size="7.4" stroke="#262626" stroke-width="0.14" textLength="22.80" lengthAdjust="spacingAndGlyphs" >Week15</text>
<g transform="translate(106.50,353.60) rotate(-54) scale(1.0)" stroke="#222" fill="none" stroke-linecap="round"><line x1="0.3" y1="0" x2="6.5" y2="0" stroke-width="0.75"/><path d="M6.0,0 L7.6,-1.6 L9.2,0 L7.6,1.6 Z" fill="#333" stroke-width="0.6"/><path d="M7.6,-3.0 L7.6,3.0" stroke-width="0.8"/><rect x="8.8" y="-1.75" width="9.2" height="3.5" stroke-width="0.9" fill="#fff"/><line x1="10.2" y1="0" x2="17.2" y2="0" stroke-width="0.55" stroke="#666"/><line x1="18" y1="-3.4" x2="18" y2="3.4" stroke-width="0.95"/><circle cx="18.5" cy="-3.7" r="0.95" stroke-width="0.7"/><circle cx="18.5" cy="3.7" r="0.95" stroke-width="0.7"/><line x1="18" y1="0" x2="21.6" y2="0" stroke-width="0.9"/><line x1="21.6" y1="-2.4" x2="21.6" y2="2.4" stroke-width="1.0"/></g>
<g transform="translate(148.50,353.60) rotate(-54) scale(1.0)" stroke="#222" fill="none" stroke-linecap="round"><line x1="0.3" y1="0" x2="6.5" y2="0" stroke-width="0.75"/><path d="M6.0,0 L7.6,-1.6 L9.2,0 L7.6,1.6 Z" fill="#333" stroke-width="0.6"/><path d="M7.6,-3.0 L7.6,3.0" stroke-width="0.8"/><rect x="8.8" y="-1.75" width="9.2" height="3.5" stroke-width="0.9" fill="#fff"/><line x1="10.2" y1="0" x2="17.2" y2="0" stroke-width="0.55" stroke="#666"/><line x1="18" y1="-3.4" x2="18" y2="3.4" stroke-width="0.95"/><circle cx="18.5" cy="-3.7" r="0.95" stroke-width="0.7"/><circle cx="18.5" cy="3.7" r="0.95" stroke-width="0.7"/><line x1="18" y1="0" x2="21.6" y2="0" stroke-width="0.9"/><line x1="21.6" y1="-2.4" x2="21.6" y2="2.4" stroke-width="1.0"/></g>
<g transform="translate(189.90,353.80) rotate(-54) scale(1.0)" stroke="#222" fill="none" stroke-linecap="round"><line x1="0.3" y1="0" x2="6.5" y2="0" stroke-width="0.75"/><path d="M6.0,0 L7.6,-1.6 L9.2,0 L7.6,1.6 Z" fill="#333" stroke-width="0.6"/><path d="M7.6,-3.0 L7.6,3.0" stroke-width="0.8"/><rect x="8.8" y="-1.75" width="9.2" height="3.5" stroke-width="0.9" fill="#fff"/><line x1="10.2" y1="0" x2="17.2" y2="0" stroke-width="0.55" stroke="#666"/><line x1="18" y1="-3.4" x2="18" y2="3.4" stroke-width="0.95"/><circle cx="18.5" cy="-3.7" r="0.95" stroke-width="0.7"/><circle cx="18.5" cy="3.7" r="0.95" stroke-width="0.7"/><line x1="18" y1="0" x2="21.6" y2="0" stroke-width="0.9"/><line x1="21.6" y1="-2.4" x2="21.6" y2="2.4" stroke-width="1.0"/></g>
<g transform="translate(231.40,353.80) rotate(-54) scale(1.0)" stroke="#222" fill="none" stroke-linecap="round"><line x1="0.3" y1="0" x2="6.5" y2="0" stroke-width="0.75"/><path d="M6.0,0 L7.6,-1.6 L9.2,0 L7.6,1.6 Z" fill="#333" stroke-width="0.6"/><path d="M7.6,-3.0 L7.6,3.0" stroke-width="0.8"/><rect x="8.8" y="-1.75" width="9.2" height="3.5" stroke-width="0.9" fill="#fff"/><line x1="10.2" y1="0" x2="17.2" y2="0" stroke-width="0.55" stroke="#666"/><line x1="18" y1="-3.4" x2="18" y2="3.4" stroke-width="0.95"/><circle cx="18.5" cy="-3.7" r="0.95" stroke-width="0.7"/><circle cx="18.5" cy="3.7" r="0.95" stroke-width="0.7"/><line x1="18" y1="0" x2="21.6" y2="0" stroke-width="0.9"/><line x1="21.6" y1="-2.4" x2="21.6" y2="2.4" stroke-width="1.0"/></g>
<g transform="translate(127.40,360.40) rotate(-54) scale(1.0)" stroke="#222" fill="none" stroke-linecap="round"><line x1="0.3" y1="0" x2="6.5" y2="0" stroke-width="0.75"/><path d="M6.0,0 L7.6,-1.6 L9.2,0 L7.6,1.6 Z" fill="#333" stroke-width="0.6"/><path d="M7.6,-3.0 L7.6,3.0" stroke-width="0.8"/><rect x="8.8" y="-1.75" width="9.2" height="3.5" stroke-width="0.9" fill="#fff"/><line x1="10.2" y1="0" x2="17.2" y2="0" stroke-width="0.55" stroke="#666"/><line x1="18" y1="-3.4" x2="18" y2="3.4" stroke-width="0.95"/><circle cx="18.5" cy="-3.7" r="0.95" stroke-width="0.7"/><circle cx="18.5" cy="3.7" r="0.95" stroke-width="0.7"/><line x1="18" y1="0" x2="21.6" y2="0" stroke-width="0.9"/><line x1="21.6" y1="-2.4" x2="21.6" y2="2.4" stroke-width="1.0"/></g>
<g transform="translate(169.20,360.40) rotate(-54) scale(1.0)" stroke="#222" fill="none" stroke-linecap="round"><line x1="0.3" y1="0" x2="6.5" y2="0" stroke-width="0.75"/><path d="M6.0,0 L7.6,-1.6 L9.2,0 L7.6,1.6 Z" fill="#333" stroke-width="0.6"/><path d="M7.6,-3.0 L7.6,3.0" stroke-width="0.8"/><rect x="8.8" y="-1.75" width="9.2" height="3.5" stroke-width="0.9" fill="#fff"/><line x1="10.2" y1="0" x2="17.2" y2="0" stroke-width="0.55" stroke="#666"/><line x1="18" y1="-3.4" x2="18" y2="3.4" stroke-width="0.95"/><circle cx="18.5" cy="-3.7" r="0.95" stroke-width="0.7"/><circle cx="18.5" cy="3.7" r="0.95" stroke-width="0.7"/><line x1="18" y1="0" x2="21.6" y2="0" stroke-width="0.9"/><line x1="21.6" y1="-2.4" x2="21.6" y2="2.4" stroke-width="1.0"/></g>
<g transform="translate(210.70,360.50) rotate(-54) scale(1.0)" stroke="#222" fill="none" stroke-linecap="round"><line x1="0.3" y1="0" x2="6.5" y2="0" stroke-width="0.75"/><path d="M6.0,0 L7.6,-1.6 L9.2,0 L7.6,1.6 Z" fill="#333" stroke-width="0.6"/><path d="M7.6,-3.0 L7.6,3.0" stroke-width="0.8"/><rect x="8.8" y="-1.75" width="9.2" height="3.5" stroke-width="0.9" fill="#fff"/><line x1="10.2" y1="0" x2="17.2" y2="0" stroke-width="0.55" stroke="#666"/><line x1="18" y1="-3.4" x2="18" y2="3.4" stroke-width="0.95"/><circle cx="18.5" cy="-3.7" r="0.95" stroke-width="0.7"/><circle cx="18.5" cy="3.7" r="0.95" stroke-width="0.7"/><line x1="18" y1="0" x2="21.6" y2="0" stroke-width="0.9"/><line x1="21.6" y1="-2.4" x2="21.6" y2="2.4" stroke-width="1.0"/></g>
<path d="M105.3,377 L105.3,384 L249.2,384 L249.2,377 M176.6,384 L176.6,390.8" fill="none" stroke="#3c6aa3" stroke-width="1.1"/>
<text x="120.80" y="400.90" font-size="8.4" stroke="#262626" stroke-width="0.14" textLength="112.30" lengthAdjust="spacingAndGlyphs" >Measurement of human CD45+</text>
<text x="133.00" y="410.20" font-size="8.4" stroke="#262626" stroke-width="0.14" textLength="88.40" lengthAdjust="spacingAndGlyphs" >cells in mouse peripheral</text>
<text x="133.50" y="419.40" font-size="8.4" stroke="#262626" stroke-width="0.14" textLength="86.50" lengthAdjust="spacingAndGlyphs" >blood by flow cytometry</text>
<g transform="translate(0.00,0.00)">
<path d="M50.2,390.0 C48.5,386.8 46.5,384.8 43.8,385.2 C40.5,385.8 38.2,390.5 33.4,392.3" fill="none" stroke="#3c3c3c" stroke-width="1.9" stroke-linecap="round"/>
<path d="M50.2,390.0 C48.5,386.8 46.5,384.8 43.8,385.2 C40.5,385.8 38.2,390.5 33.4,392.3" fill="none" stroke="#c4c4c4" stroke-width="0.7" stroke-linecap="round"/>
<path d="M50.3,390.2 C53.6,390.2 56.6,393.6 57.8,399.0 C59.2,400.8 59.9,403.0 59.7,405.2 C59.5,407.2 58.9,408.6 58.3,410.2 C57.4,412.6 55.6,414.6 54.1,416.0 C52.9,417.3 51.6,417.9 50.3,417.9 C49.0,417.9 47.7,417.3 46.5,416.0 C45.0,414.6 43.2,412.6 42.3,410.2 C41.7,408.6 41.1,407.2 40.9,405.2 C40.7,403.0 41.4,400.8 42.8,399.0 C44.0,393.6 47.0,390.2 50.3,390.2 Z" fill="#c9c9c9" stroke="#4a4a4a" stroke-width="0.85"/>
<path d="M41.6,401.2 C43.6,398.6 47.6,399.6 48.8,405.2 M59.0,401.2 C57.0,398.6 53.0,399.6 51.8,405.2" fill="none" stroke="#555" stroke-width="0.9"/>
<path d="M42.0,403.0 C43.9,400.9 46.9,401.6 47.9,405.4 M58.6,403.0 C56.7,400.9 53.7,401.6 52.7,405.4" fill="none" stroke="#777" stroke-width="0.6"/>
<circle cx="47.6" cy="412.0" r="1.0" fill="#111"/><circle cx="52.3" cy="412.0" r="1.0" fill="#111"/>
<path d="M46.6,415.0 C48.5,416.0 52.1,416.0 54.0,415.0 L52.5,417.3 C51.2,418.2 49.4,418.2 48.1,417.3 Z" fill="#222"/>
<path d="M46.0,415.2 L42.6,413.8 M46.0,415.8 L42.8,417.0 M46.4,416.4 L44.0,418.9 M54.6,415.2 L58.0,413.8 M54.6,415.8 L57.8,417.0 M54.2,416.4 L56.6,418.9" stroke="#444" stroke-width="0.45"/>
<line x1="50.3" y1="391.0" x2="49.8" y2="393.5" stroke="#777" stroke-width="0.5"/>
</g>
<g transform="translate(50.80,389.60) rotate(-61) scale(0.64)" stroke="#222" fill="none" stroke-linecap="round"><line x1="0.3" y1="0" x2="6.5" y2="0" stroke-width="0.75"/><path d="M6.0,0 L7.6,-1.6 L9.2,0 L7.6,1.6 Z" fill="#333" stroke-width="0.6"/><path d="M7.6,-3.0 L7.6,3.0" stroke-width="0.8"/><rect x="8.8" y="-1.75" width="9.2" height="3.5" stroke-width="0.9" fill="#fff"/><line x1="10.2" y1="0" x2="17.2" y2="0" stroke-width="0.55" stroke="#666"/><line x1="18" y1="-3.4" x2="18" y2="3.4" stroke-width="0.95"/><circle cx="18.5" cy="-3.7" r="0.95" stroke-width="0.7"/><circle cx="18.5" cy="3.7" r="0.95" stroke-width="0.7"/><line x1="18" y1="0" x2="21.6" y2="0" stroke-width="0.9"/><line x1="21.6" y1="-2.4" x2="21.6" y2="2.4" stroke-width="1.0"/></g>
<text x="28.40" y="429.20" font-size="8.6" stroke="#262626" stroke-width="0.14" textLength="35.40" lengthAdjust="spacingAndGlyphs" >NSG mice</text>
<text x="14.50" y="438.50" font-size="8.3" stroke="#262626" stroke-width="0.14" textLength="62.80" lengthAdjust="spacingAndGlyphs" >tail vein injections</text>
<text x="302.60" y="305.60" font-size="11.8" font-weight="bold" fill="#000" stroke="#000" stroke-width="0.35">C</text>
<line x1="345.60" y1="305.00" x2="345.60" y2="405.80" stroke="#000" stroke-width="1.3" />
<line x1="345.00" y1="405.20" x2="498.00" y2="405.20" stroke="#000" stroke-width="1.3" />
<line x1="343.00" y1="403.50" x2="345.60" y2="403.50" stroke="#000" stroke-width="0.9" />
<text x="339.70" y="406.40" font-size="8.2" text-anchor="end" stroke="#262626" stroke-width="0.14" >0</text>
<line x1="343.00" y1="394.10" x2="345.60" y2="394.10" stroke="#000" stroke-width="0.9" />
<text x="339.70" y="397.00" font-size="8.2" text-anchor="end" stroke="#262626" stroke-width="0.14" >10</text>
<line x1="343.00" y1="384.70" x2="345.60" y2="384.70" stroke="#000" stroke-width="0.9" />
<text x="339.70" y="387.60" font-size="8.2" text-anchor="end" stroke="#262626" stroke-width="0.14" >20</text>
<line x1="343.00" y1="375.30" x2="345.60" y2="375.30" stroke="#000" stroke-width="0.9" />
<text x="339.70" y="378.20" font-size="8.2" text-anchor="end" stroke="#262626" stroke-width="0.14" >30</text>
<line x1="343.00" y1="365.90" x2="345.60" y2="365.90" stroke="#000" stroke-width="0.9" />
<text x="339.70" y="368.80" font-size="8.2" text-anchor="end" stroke="#262626" stroke-width="0.14" >40</text>
<line x1="343.00" y1="356.50" x2="345.60" y2="356.50" stroke="#000" stroke-width="0.9" />
<text x="339.70" y="359.40" font-size="8.2" text-anchor="end" stroke="#262626" stroke-width="0.14" >50</text>
<line x1="343.00" y1="347.10" x2="345.60" y2="347.10" stroke="#000" stroke-width="0.9" />
<text x="339.70" y="350.00" font-size="8.2" text-anchor="end" stroke="#262626" stroke-width="0.14" >60</text>
<line x1="343.00" y1="337.70" x2="345.60" y2="337.70" stroke="#000" stroke-width="0.9" />
<text x="339.70" y="340.60" font-size="8.2" text-anchor="end" stroke="#262626" stroke-width="0.14" >70</text>
<line x1="343.00" y1="328.30" x2="345.60" y2="328.30" stroke="#000" stroke-width="0.9" />
<text x="339.70" y="331.20" font-size="8.2" text-anchor="end" stroke="#262626" stroke-width="0.14" >80</text>
<line x1="343.00" y1="318.90" x2="345.60" y2="318.90" stroke="#000" stroke-width="0.9" />
<text x="339.70" y="321.80" font-size="8.2" text-anchor="end" stroke="#262626" stroke-width="0.14" >90</text>
<line x1="343.00" y1="309.50" x2="345.60" y2="309.50" stroke="#000" stroke-width="0.9" />
<text x="339.70" y="312.40" font-size="8.2" text-anchor="end" stroke="#262626" stroke-width="0.14" >100</text>
<line x1="354.70" y1="405.20" x2="354.70" y2="407.80" stroke="#000" stroke-width="0.9" />
<text x="354.70" y="416.70" font-size="7.9" text-anchor="middle" stroke="#262626" stroke-width="0.14" >9</text>
<line x1="372.60" y1="405.20" x2="372.60" y2="407.80" stroke="#000" stroke-width="0.9" />
<text x="372.60" y="416.70" font-size="7.9" text-anchor="middle" stroke="#262626" stroke-width="0.14" >10</text>
<line x1="390.50" y1="405.20" x2="390.50" y2="407.80" stroke="#000" stroke-width="0.9" />
<text x="390.50" y="416.70" font-size="7.9" text-anchor="middle" stroke="#262626" stroke-width="0.14" >11</text>
<line x1="408.40" y1="405.20" x2="408.40" y2="407.80" stroke="#000" stroke-width="0.9" />
<text x="408.40" y="416.70" font-size="7.9" text-anchor="middle" stroke="#262626" stroke-width="0.14" >12</text>
<line x1="426.30" y1="405.20" x2="426.30" y2="407.80" stroke="#000" stroke-width="0.9" />
<text x="426.30" y="416.70" font-size="7.9" text-anchor="middle" stroke="#262626" stroke-width="0.14" >13</text>
<line x1="444.20" y1="405.20" x2="444.20" y2="407.80" stroke="#000" stroke-width="0.9" />
<text x="444.20" y="416.70" font-size="7.9" text-anchor="middle" stroke="#262626" stroke-width="0.14" >14</text>
<line x1="462.10" y1="405.20" x2="462.10" y2="407.80" stroke="#000" stroke-width="0.9" />
<text x="462.10" y="416.70" font-size="7.9" text-anchor="middle" stroke="#262626" stroke-width="0.14" >15</text>
<line x1="480.00" y1="405.20" x2="480.00" y2="407.80" stroke="#000" stroke-width="0.9" />
<text x="480.00" y="416.70" font-size="7.9" text-anchor="middle" stroke="#262626" stroke-width="0.14" >16</text>
<text x="408.90" y="429.60" font-size="10.3" stroke="#262626" stroke-width="0.14" textLength="21.40" lengthAdjust="spacingAndGlyphs" >Weeks</text>
<text x="0" y="0" font-size="8.4" text-anchor="middle" stroke="#262626" stroke-width="0.14" textLength="78.80" lengthAdjust="spacingAndGlyphs" transform="translate(321.30,354.10) rotate(-90)">% of human CD45+ cells</text>
<line x1="366.00" y1="313.10" x2="376.20" y2="313.10" stroke="#0f4e8e" stroke-width="1.6" />
<line x1="371.10" y1="313.10" x2="371.10" y2="311.20" stroke="#222" stroke-width="0.75" />
<text x="379.40" y="315.90" font-size="8.3" stroke="#262626" stroke-width="0.14" textLength="15.40" lengthAdjust="spacingAndGlyphs" >IgG1</text>
<line x1="366.00" y1="325.55" x2="376.20" y2="325.55" stroke="#d3203f" stroke-width="1.6" />
<line x1="371.10" y1="325.55" x2="371.10" y2="323.65" stroke="#222" stroke-width="0.75" />
<text x="379.40" y="328.35" font-size="8.3" stroke="#262626" stroke-width="0.14" textLength="33.60" lengthAdjust="spacingAndGlyphs" >HEK5-1B3</text>
<line x1="366.00" y1="338.00" x2="376.20" y2="338.00" stroke="#22b82a" stroke-width="1.6" />
<line x1="371.10" y1="338.00" x2="371.10" y2="336.10" stroke="#222" stroke-width="0.75" />
<text x="379.40" y="340.80" font-size="8.3" stroke="#262626" stroke-width="0.14" textLength="16.00" lengthAdjust="spacingAndGlyphs" >58B1</text>
<line x1="366.00" y1="350.45" x2="376.20" y2="350.45" stroke="#5b2a86" stroke-width="1.6" />
<line x1="371.10" y1="350.45" x2="371.10" y2="348.55" stroke="#222" stroke-width="0.75" />
<text x="379.40" y="353.25" font-size="8.3" stroke="#262626" stroke-width="0.14" textLength="18.70" lengthAdjust="spacingAndGlyphs" >T-1A5</text>
<text x="349.20" y="372.10" font-size="8.3" stroke="#262626" stroke-width="0.14" textLength="53.30" lengthAdjust="spacingAndGlyphs" >Treatment start</text>
<line x1="355.0" y1="375.1" x2="355.0" y2="386.4" stroke="#d8415f" stroke-width="1.9"/>
<path d="M351.95,385.79999999999995 L355.0,386.4 L358.05,385.79999999999995 L355.0,391.4 Z" fill="#cc0a2a"/>
<line x1="357.50" y1="397.50" x2="357.50" y2="402.50" stroke="#4a4a4a" stroke-width="0.95" />
<line x1="356.30" y1="397.50" x2="358.70" y2="397.50" stroke="#1a1a1a" stroke-width="1.0" />
<line x1="356.30" y1="402.50" x2="358.70" y2="402.50" stroke="#1a1a1a" stroke-width="1.0" />
<line x1="377.30" y1="396.20" x2="377.30" y2="402.40" stroke="#4a4a4a" stroke-width="0.95" />
<line x1="376.10" y1="396.20" x2="378.50" y2="396.20" stroke="#1a1a1a" stroke-width="1.0" />
<line x1="376.10" y1="402.40" x2="378.50" y2="402.40" stroke="#1a1a1a" stroke-width="1.0" />
<line x1="396.30" y1="383.00" x2="396.30" y2="402.50" stroke="#4a4a4a" stroke-width="0.95" />
<line x1="395.10" y1="383.00" x2="397.50" y2="383.00" stroke="#1a1a1a" stroke-width="1.0" />
<line x1="395.10" y1="402.50" x2="397.50" y2="402.50" stroke="#1a1a1a" stroke-width="1.0" />
<line x1="416.10" y1="346.20" x2="416.10" y2="388.80" stroke="#4a4a4a" stroke-width="0.95" />
<line x1="414.90" y1="346.20" x2="417.30" y2="346.20" stroke="#1a1a1a" stroke-width="1.0" />
<line x1="414.90" y1="388.80" x2="417.30" y2="388.80" stroke="#1a1a1a" stroke-width="1.0" />
<line x1="435.60" y1="331.10" x2="435.60" y2="362.20" stroke="#4a4a4a" stroke-width="0.95" />
<line x1="434.40" y1="331.10" x2="436.80" y2="331.10" stroke="#1a1a1a" stroke-width="1.0" />
<line x1="434.40" y1="362.20" x2="436.80" y2="362.20" stroke="#1a1a1a" stroke-width="1.0" />
<line x1="455.00" y1="325.60" x2="455.00" y2="341.10" stroke="#4a4a4a" stroke-width="0.95" />
<line x1="453.80" y1="325.60" x2="456.20" y2="325.60" stroke="#1a1a1a" stroke-width="1.0" />
<line x1="453.80" y1="341.10" x2="456.20" y2="341.10" stroke="#1a1a1a" stroke-width="1.0" />
<line x1="474.20" y1="317.40" x2="474.20" y2="328.50" stroke="#4a4a4a" stroke-width="0.95" />
<line x1="473.00" y1="317.40" x2="475.40" y2="317.40" stroke="#1a1a1a" stroke-width="1.0" />
<line x1="473.00" y1="328.50" x2="475.40" y2="328.50" stroke="#1a1a1a" stroke-width="1.0" />
<line x1="493.60" y1="318.10" x2="493.60" y2="386.10" stroke="#4a4a4a" stroke-width="0.95" />
<line x1="492.40" y1="318.10" x2="494.80" y2="318.10" stroke="#1a1a1a" stroke-width="1.0" />
<line x1="492.40" y1="386.10" x2="494.80" y2="386.10" stroke="#1a1a1a" stroke-width="1.0" />
<line x1="416.10" y1="394.50" x2="416.10" y2="401.50" stroke="#4a4a4a" stroke-width="0.95" />
<line x1="414.90" y1="394.50" x2="417.30" y2="394.50" stroke="#1a1a1a" stroke-width="1.0" />
<line x1="414.90" y1="401.50" x2="417.30" y2="401.50" stroke="#1a1a1a" stroke-width="1.0" />
<line x1="435.60" y1="385.50" x2="435.60" y2="402.00" stroke="#4a4a4a" stroke-width="0.95" />
<line x1="434.40" y1="385.50" x2="436.80" y2="385.50" stroke="#1a1a1a" stroke-width="1.0" />
<line x1="434.40" y1="402.00" x2="436.80" y2="402.00" stroke="#1a1a1a" stroke-width="1.0" />
<line x1="455.00" y1="367.10" x2="455.00" y2="403.40" stroke="#4a4a4a" stroke-width="0.95" />
<line x1="453.80" y1="367.10" x2="456.20" y2="367.10" stroke="#1a1a1a" stroke-width="1.0" />
<line x1="453.80" y1="403.40" x2="456.20" y2="403.40" stroke="#1a1a1a" stroke-width="1.0" />
<line x1="474.20" y1="347.70" x2="474.20" y2="368.50" stroke="#4a4a4a" stroke-width="0.95" />
<line x1="473.00" y1="347.70" x2="475.40" y2="347.70" stroke="#1a1a1a" stroke-width="1.0" />
<line x1="473.00" y1="368.50" x2="475.40" y2="368.50" stroke="#1a1a1a" stroke-width="1.0" />
<line x1="474.20" y1="377.50" x2="474.20" y2="398.20" stroke="#4a4a4a" stroke-width="0.95" />
<line x1="473.00" y1="377.50" x2="475.40" y2="377.50" stroke="#1a1a1a" stroke-width="1.0" />
<line x1="473.00" y1="398.20" x2="475.40" y2="398.20" stroke="#1a1a1a" stroke-width="1.0" />
<line x1="493.60" y1="323.00" x2="493.60" y2="351.50" stroke="#4a4a4a" stroke-width="0.95" />
<line x1="492.40" y1="323.00" x2="494.80" y2="323.00" stroke="#1a1a1a" stroke-width="1.0" />
<line x1="492.40" y1="351.50" x2="494.80" y2="351.50" stroke="#1a1a1a" stroke-width="1.0" />
<polyline points="357.50,401.60 377.30,401.50 396.30,401.20 416.10,401.00 435.60,394.80 455.00,389.90 474.20,385.80 493.60,375.40" fill="none" stroke="#5b2a86" stroke-width="1.7" stroke-linejoin="round"/>
<polyline points="357.50,402.20 377.30,402.00 396.30,402.20 416.10,402.00 435.60,400.00 455.00,394.40 474.20,389.90 493.60,369.20" fill="none" stroke="#d3203f" stroke-width="1.7" stroke-linejoin="round"/>
<polyline points="357.50,400.50 377.30,400.30 396.30,399.50 416.10,397.60 435.60,393.90 455.00,375.40 474.20,358.10 493.60,337.70" fill="none" stroke="#22b82a" stroke-width="1.7" stroke-linejoin="round"/>
<polyline points="357.50,399.60 377.30,399.30 396.30,392.40 416.10,366.90 435.60,346.30 455.00,333.00 474.20,322.60 493.60,320.90" fill="none" stroke="#0f4e8e" stroke-width="1.7" stroke-linejoin="round"/>
<text x="8.20" y="453.10" font-size="11.8" font-weight="bold" fill="#000" stroke="#000" stroke-width="0.35">D</text>
<line x1="50.30" y1="453.30" x2="50.30" y2="549.40" stroke="#000" stroke-width="1.3" />
<line x1="49.70" y1="548.80" x2="202.60" y2="548.80" stroke="#000" stroke-width="1.3" />
<line x1="47.70" y1="548.70" x2="50.30" y2="548.70" stroke="#000" stroke-width="0.9" />
<text x="44.00" y="551.50" font-size="8.0" text-anchor="end" stroke="#262626" stroke-width="0.14" >0</text>
<line x1="47.70" y1="530.45" x2="50.30" y2="530.45" stroke="#000" stroke-width="0.9" />
<text x="44.00" y="533.25" font-size="8.0" text-anchor="end" stroke="#262626" stroke-width="0.14" >20</text>
<line x1="47.70" y1="512.20" x2="50.30" y2="512.20" stroke="#000" stroke-width="0.9" />
<text x="44.00" y="515.00" font-size="8.0" text-anchor="end" stroke="#262626" stroke-width="0.14" >40</text>
<line x1="47.70" y1="493.95" x2="50.30" y2="493.95" stroke="#000" stroke-width="0.9" />
<text x="44.00" y="496.75" font-size="8.0" text-anchor="end" stroke="#262626" stroke-width="0.14" >60</text>
<line x1="47.70" y1="475.70" x2="50.30" y2="475.70" stroke="#000" stroke-width="0.9" />
<text x="44.00" y="478.50" font-size="8.0" text-anchor="end" stroke="#262626" stroke-width="0.14" >80</text>
<line x1="47.70" y1="457.45" x2="50.30" y2="457.45" stroke="#000" stroke-width="0.9" />
<text x="44.00" y="460.25" font-size="8.0" text-anchor="end" stroke="#262626" stroke-width="0.14" >100</text>
<line x1="50.20" y1="548.80" x2="50.20" y2="551.40" stroke="#000" stroke-width="0.9" />
<text x="50.20" y="560.90" font-size="8.0" text-anchor="middle" stroke="#262626" stroke-width="0.14" >60</text>
<line x1="87.30" y1="548.80" x2="87.30" y2="551.40" stroke="#000" stroke-width="0.9" />
<text x="87.30" y="560.90" font-size="8.0" text-anchor="middle" stroke="#262626" stroke-width="0.14" >90</text>
<line x1="124.40" y1="548.80" x2="124.40" y2="551.40" stroke="#000" stroke-width="0.9" />
<text x="124.40" y="560.90" font-size="8.0" text-anchor="middle" stroke="#262626" stroke-width="0.14" >120</text>
<line x1="161.50" y1="548.80" x2="161.50" y2="551.40" stroke="#000" stroke-width="0.9" />
<text x="161.50" y="560.90" font-size="8.0" text-anchor="middle" stroke="#262626" stroke-width="0.14" >150</text>
<line x1="198.60" y1="548.80" x2="198.60" y2="551.40" stroke="#000" stroke-width="0.9" />
<text x="198.60" y="560.90" font-size="8.0" text-anchor="middle" stroke="#262626" stroke-width="0.14" >180</text>
<text x="116.90" y="572.30" font-size="8.6" stroke="#262626" stroke-width="0.14" textLength="15.30" lengthAdjust="spacingAndGlyphs" >Days</text>
<text x="0" y="0" font-size="8.4" text-anchor="middle" stroke="#262626" stroke-width="0.14" textLength="64.40" lengthAdjust="spacingAndGlyphs" transform="translate(25.90,503.00) rotate(-90)">Percent survival (%)</text>
<text x="62.50" y="483.40" font-size="8.0" stroke="#262626" stroke-width="0.14" textLength="35.20" lengthAdjust="spacingAndGlyphs" >Treatment</text>
<text x="72.10" y="492.80" font-size="8.0" stroke="#262626" stroke-width="0.14" textLength="15.90" lengthAdjust="spacingAndGlyphs" >start</text>
<line x1="80.2" y1="465.2" x2="80.2" y2="475.8" stroke="#d8415f" stroke-width="1.9"/>
<path d="M77.10000000000001,465.8 L80.2,465.2 L83.3,465.8 L80.2,460.6 Z" fill="#cc0a2a"/>
<text x="69.40" y="534.50" font-size="8.1" stroke="#262626" stroke-width="0.14" textLength="34.60" lengthAdjust="spacingAndGlyphs" >p=0.0006</text>
<polyline points="50.30,457.45 162.90,457.45 162.90,475.70 165.10,475.70 165.10,493.95 167.30,493.95 167.30,512.20 179.80,512.20 179.80,530.45 182.80,530.45 182.80,548.70" fill="none" stroke="#6a2f8f" stroke-width="1.3" />
<polyline points="50.30,457.45 116.50,457.45 116.50,475.70 145.60,475.70 145.60,493.95 149.10,493.95 149.10,512.20 157.70,512.20 157.70,530.45 174.80,530.45 174.80,548.70" fill="none" stroke="#27ad45" stroke-width="1.3" />
<polyline points="50.30,457.45 118.00,457.45 118.00,475.70 154.00,475.70 154.00,493.95 167.30,493.95 167.30,512.20 173.60,512.20 173.60,530.45 176.10,530.45 176.10,548.70" fill="none" stroke="#d3203f" stroke-width="1.3" />
<polyline points="50.30,457.45 109.50,457.45 109.50,475.70 115.20,475.70 115.20,493.95 127.50,493.95 127.50,530.45 138.10,530.45 138.10,548.70" fill="none" stroke="#175896" stroke-width="1.3" />
<line x1="196.30" y1="469.40" x2="206.40" y2="469.40" stroke="#175896" stroke-width="1.3" />
<line x1="201.30" y1="469.40" x2="201.30" y2="467.60" stroke="#222" stroke-width="0.7" />
<text x="209.50" y="472.00" font-size="7.4" stroke="#262626" stroke-width="0.14" textLength="15.20" lengthAdjust="spacingAndGlyphs" >IgG1</text>
<line x1="196.30" y1="481.67" x2="206.40" y2="481.67" stroke="#d3203f" stroke-width="1.3" />
<line x1="201.30" y1="481.67" x2="201.30" y2="479.87" stroke="#222" stroke-width="0.7" />
<text x="209.50" y="484.27" font-size="7.4" stroke="#262626" stroke-width="0.14" textLength="33.90" lengthAdjust="spacingAndGlyphs" >HEK5-1B3</text>
<line x1="196.30" y1="493.94" x2="206.40" y2="493.94" stroke="#27ad45" stroke-width="1.3" />
<line x1="201.30" y1="493.94" x2="201.30" y2="492.14" stroke="#222" stroke-width="0.7" />
<text x="209.50" y="496.54" font-size="7.4" stroke="#262626" stroke-width="0.14" textLength="16.00" lengthAdjust="spacingAndGlyphs" >58B1</text>
<line x1="196.30" y1="506.21" x2="206.40" y2="506.21" stroke="#6a2f8f" stroke-width="1.3" />
<line x1="201.30" y1="506.21" x2="201.30" y2="504.41" stroke="#222" stroke-width="0.7" />
<text x="209.50" y="508.81" font-size="7.4" stroke="#262626" stroke-width="0.14" textLength="18.70" lengthAdjust="spacingAndGlyphs" >T-1A5</text>
<text x="273.00" y="441.80" font-size="11.8" font-weight="bold" fill="#000" stroke="#000" stroke-width="0.35">E</text>
<text x="286.00" y="441.20" font-size="6.5" stroke="#262626" stroke-width="0.14" textLength="48.00" lengthAdjust="spacingAndGlyphs" >OCI-AML3 GFP+</text>
<text x="292.50" y="448.70" font-size="6.5" stroke="#262626" stroke-width="0.14" textLength="35.30" lengthAdjust="spacingAndGlyphs" >cell injection</text>
<text x="301.2" y="456.0" font-size="6.5" fill="#262626" stroke="#262626" stroke-width="0.14" textLength="18.5" lengthAdjust="spacingAndGlyphs">2 ×10<tspan dy="-2.3" font-size="4.5">6</tspan></text>
<text x="293.70" y="463.70" font-size="6.5" stroke="#262626" stroke-width="0.14" textLength="32.90" lengthAdjust="spacingAndGlyphs" >cells/mouse</text>
<text x="339.80" y="441.50" font-size="6.5" stroke="#262626" stroke-width="0.14" textLength="147.30" lengthAdjust="spacingAndGlyphs" >Treatment with IgG1 isotype antibody or anti-B7-H3</text>
<text x="351.40" y="449.00" font-size="6.5" stroke="#262626" stroke-width="0.14" textLength="123.60" lengthAdjust="spacingAndGlyphs" >antibodies (T1A5) (1mg/kg, once a week-IP)</text>
<text x="356.6" y="456.2" font-size="6.5" fill="#262626" stroke="#262626" stroke-width="0.14" textLength="113.2" lengthAdjust="spacingAndGlyphs">and hNK cells (1×10<tspan dy="-2.3" font-size="4.5">7</tspan><tspan dy="2.3">, twice a week –TV)</tspan></text>
<line x1="310.5" y1="472.3" x2="310.5" y2="482.40000000000003" stroke="#134686" stroke-width="2.0"/>
<path d="M307.6,481.8 L310.5,482.40000000000003 L313.4,481.8 L310.5,487.2 Z" fill="#134686"/>
<line x1="367.2" y1="459.5" x2="367.2" y2="470.50000000000006" stroke="#134686" stroke-width="2.0"/>
<path d="M364.3,469.90000000000003 L367.2,470.50000000000006 L370.09999999999997,469.90000000000003 L367.2,475.3 Z" fill="#134686"/>
<line x1="304.50" y1="509.50" x2="507.00" y2="509.50" stroke="#134686" stroke-width="2.0" />
<path d="M505.4,506.4 L511.4,509.5 L505.4,512.6 Z" fill="#134686"/>
<text x="308.00" y="504.60" font-size="7.4" stroke="#262626" stroke-width="0.14" textLength="14.80" lengthAdjust="spacingAndGlyphs" >Day0</text>
<text x="328.00" y="504.60" font-size="7.4" stroke="#262626" stroke-width="0.14" textLength="19.50" lengthAdjust="spacingAndGlyphs" >Week1</text>
<text x="351.30" y="504.60" font-size="7.4" stroke="#262626" stroke-width="0.14" textLength="19.70" lengthAdjust="spacingAndGlyphs" >Week2</text>
<text x="374.20" y="504.60" font-size="7.4" stroke="#262626" stroke-width="0.14" textLength="19.90" lengthAdjust="spacingAndGlyphs" >Week3</text>
<text x="397.50" y="504.60" font-size="7.4" stroke="#262626" stroke-width="0.14" textLength="19.30" lengthAdjust="spacingAndGlyphs" >Week4</text>
<text x="420.00" y="504.60" font-size="7.4" stroke="#262626" stroke-width="0.14" textLength="19.50" lengthAdjust="spacingAndGlyphs" >Week5</text>
<text x="443.00" y="504.60" font-size="7.4" stroke="#262626" stroke-width="0.14" textLength="19.50" lengthAdjust="spacingAndGlyphs" >Week6</text>
<text x="466.30" y="504.60" font-size="7.4" stroke="#262626" stroke-width="0.14" textLength="19.20" lengthAdjust="spacingAndGlyphs" >Week7</text>
<text x="489.30" y="504.60" font-size="7.4" stroke="#262626" stroke-width="0.14" textLength="19.50" lengthAdjust="spacingAndGlyphs" >Week8</text>
<g transform="translate(355.60,497.80) rotate(-54) scale(1.0)" stroke="#222" fill="none" stroke-linecap="round"><line x1="0.3" y1="0" x2="6.5" y2="0" stroke-width="0.75"/><path d="M6.0,0 L7.6,-1.6 L9.2,0 L7.6,1.6 Z" fill="#333" stroke-width="0.6"/><path d="M7.6,-3.0 L7.6,3.0" stroke-width="0.8"/><rect x="8.8" y="-1.75" width="9.2" height="3.5" stroke-width="0.9" fill="#fff"/><line x1="10.2" y1="0" x2="17.2" y2="0" stroke-width="0.55" stroke="#666"/><line x1="18" y1="-3.4" x2="18" y2="3.4" stroke-width="0.95"/><circle cx="18.5" cy="-3.7" r="0.95" stroke-width="0.7"/><circle cx="18.5" cy="3.7" r="0.95" stroke-width="0.7"/><line x1="18" y1="0" x2="21.6" y2="0" stroke-width="0.9"/><line x1="21.6" y1="-2.4" x2="21.6" y2="2.4" stroke-width="1.0"/></g>
<g transform="translate(377.80,497.80) rotate(-54) scale(1.0)" stroke="#222" fill="none" stroke-linecap="round"><line x1="0.3" y1="0" x2="6.5" y2="0" stroke-width="0.75"/><path d="M6.0,0 L7.6,-1.6 L9.2,0 L7.6,1.6 Z" fill="#333" stroke-width="0.6"/><path d="M7.6,-3.0 L7.6,3.0" stroke-width="0.8"/><rect x="8.8" y="-1.75" width="9.2" height="3.5" stroke-width="0.9" fill="#fff"/><line x1="10.2" y1="0" x2="17.2" y2="0" stroke-width="0.55" stroke="#666"/><line x1="18" y1="-3.4" x2="18" y2="3.4" stroke-width="0.95"/><circle cx="18.5" cy="-3.7" r="0.95" stroke-width="0.7"/><circle cx="18.5" cy="3.7" r="0.95" stroke-width="0.7"/><line x1="18" y1="0" x2="21.6" y2="0" stroke-width="0.9"/><line x1="21.6" y1="-2.4" x2="21.6" y2="2.4" stroke-width="1.0"/></g>
<g transform="translate(400.50,497.80) rotate(-54) scale(1.0)" stroke="#222" fill="none" stroke-linecap="round"><line x1="0.3" y1="0" x2="6.5" y2="0" stroke-width="0.75"/><path d="M6.0,0 L7.6,-1.6 L9.2,0 L7.6,1.6 Z" fill="#333" stroke-width="0.6"/><path d="M7.6,-3.0 L7.6,3.0" stroke-width="0.8"/><rect x="8.8" y="-1.75" width="9.2" height="3.5" stroke-width="0.9" fill="#fff"/><line x1="10.2" y1="0" x2="17.2" y2="0" stroke-width="0.55" stroke="#666"/><line x1="18" y1="-3.4" x2="18" y2="3.4" stroke-width="0.95"/><circle cx="18.5" cy="-3.7" r="0.95" stroke-width="0.7"/><circle cx="18.5" cy="3.7" r="0.95" stroke-width="0.7"/><line x1="18" y1="0" x2="21.6" y2="0" stroke-width="0.9"/><line x1="21.6" y1="-2.4" x2="21.6" y2="2.4" stroke-width="1.0"/></g>
<g transform="translate(423.25,497.80) rotate(-54) scale(1.0)" stroke="#222" fill="none" stroke-linecap="round"><line x1="0.3" y1="0" x2="6.5" y2="0" stroke-width="0.75"/><path d="M6.0,0 L7.6,-1.6 L9.2,0 L7.6,1.6 Z" fill="#333" stroke-width="0.6"/><path d="M7.6,-3.0 L7.6,3.0" stroke-width="0.8"/><rect x="8.8" y="-1.75" width="9.2" height="3.5" stroke-width="0.9" fill="#fff"/><line x1="10.2" y1="0" x2="17.2" y2="0" stroke-width="0.55" stroke="#666"/><line x1="18" y1="-3.4" x2="18" y2="3.4" stroke-width="0.95"/><circle cx="18.5" cy="-3.7" r="0.95" stroke-width="0.7"/><circle cx="18.5" cy="3.7" r="0.95" stroke-width="0.7"/><line x1="18" y1="0" x2="21.6" y2="0" stroke-width="0.9"/><line x1="21.6" y1="-2.4" x2="21.6" y2="2.4" stroke-width="1.0"/></g>
<g transform="translate(446.25,497.80) rotate(-54) scale(1.0)" stroke="#222" fill="none" stroke-linecap="round"><line x1="0.3" y1="0" x2="6.5" y2="0" stroke-width="0.75"/><path d="M6.0,0 L7.6,-1.6 L9.2,0 L7.6,1.6 Z" fill="#333" stroke-width="0.6"/><path d="M7.6,-3.0 L7.6,3.0" stroke-width="0.8"/><rect x="8.8" y="-1.75" width="9.2" height="3.5" stroke-width="0.9" fill="#fff"/><line x1="10.2" y1="0" x2="17.2" y2="0" stroke-width="0.55" stroke="#666"/><line x1="18" y1="-3.4" x2="18" y2="3.4" stroke-width="0.95"/><circle cx="18.5" cy="-3.7" r="0.95" stroke-width="0.7"/><circle cx="18.5" cy="3.7" r="0.95" stroke-width="0.7"/><line x1="18" y1="0" x2="21.6" y2="0" stroke-width="0.9"/><line x1="21.6" y1="-2.4" x2="21.6" y2="2.4" stroke-width="1.0"/></g>
<g transform="translate(469.50,497.80) rotate(-54) scale(1.0)" stroke="#222" fill="none" stroke-linecap="round"><line x1="0.3" y1="0" x2="6.5" y2="0" stroke-width="0.75"/><path d="M6.0,0 L7.6,-1.6 L9.2,0 L7.6,1.6 Z" fill="#333" stroke-width="0.6"/><path d="M7.6,-3.0 L7.6,3.0" stroke-width="0.8"/><rect x="8.8" y="-1.75" width="9.2" height="3.5" stroke-width="0.9" fill="#fff"/><line x1="10.2" y1="0" x2="17.2" y2="0" stroke-width="0.55" stroke="#666"/><line x1="18" y1="-3.4" x2="18" y2="3.4" stroke-width="0.95"/><circle cx="18.5" cy="-3.7" r="0.95" stroke-width="0.7"/><circle cx="18.5" cy="3.7" r="0.95" stroke-width="0.7"/><line x1="18" y1="0" x2="21.6" y2="0" stroke-width="0.9"/><line x1="21.6" y1="-2.4" x2="21.6" y2="2.4" stroke-width="1.0"/></g>
<g transform="translate(492.00,497.80) rotate(-54) scale(1.0)" stroke="#222" fill="none" stroke-linecap="round"><line x1="0.3" y1="0" x2="6.5" y2="0" stroke-width="0.75"/><path d="M6.0,0 L7.6,-1.6 L9.2,0 L7.6,1.6 Z" fill="#333" stroke-width="0.6"/><path d="M7.6,-3.0 L7.6,3.0" stroke-width="0.8"/><rect x="8.8" y="-1.75" width="9.2" height="3.5" stroke-width="0.9" fill="#fff"/><line x1="10.2" y1="0" x2="17.2" y2="0" stroke-width="0.55" stroke="#666"/><line x1="18" y1="-3.4" x2="18" y2="3.4" stroke-width="0.95"/><circle cx="18.5" cy="-3.7" r="0.95" stroke-width="0.7"/><circle cx="18.5" cy="3.7" r="0.95" stroke-width="0.7"/><line x1="18" y1="0" x2="21.6" y2="0" stroke-width="0.9"/><line x1="21.6" y1="-2.4" x2="21.6" y2="2.4" stroke-width="1.0"/></g>
<path d="M364.9,514.7 L364.9,521.5 L505.0,521.5 L505.0,514.7 M435.0,521.5 L435.0,528.3" fill="none" stroke="#3c6aa3" stroke-width="1.1"/>
<text x="405.80" y="537.50" font-size="8.2" stroke="#262626" stroke-width="0.14" textLength="58.10" lengthAdjust="spacingAndGlyphs" >Measurement of</text>
<text x="401.50" y="546.20" font-size="8.2" stroke="#262626" stroke-width="0.14" textLength="67.70" lengthAdjust="spacingAndGlyphs" >engraftment by BLI</text>
<g transform="translate(265.90,137.30)">
<path d="M50.2,390.0 C48.5,386.8 46.5,384.8 43.8,385.2 C40.5,385.8 38.2,390.5 33.4,392.3" fill="none" stroke="#3c3c3c" stroke-width="1.9" stroke-linecap="round"/>
<path d="M50.2,390.0 C48.5,386.8 46.5,384.8 43.8,385.2 C40.5,385.8 38.2,390.5 33.4,392.3" fill="none" stroke="#c4c4c4" stroke-width="0.7" stroke-linecap="round"/>
<path d="M50.3,390.2 C53.6,390.2 56.6,393.6 57.8,399.0 C59.2,400.8 59.9,403.0 59.7,405.2 C59.5,407.2 58.9,408.6 58.3,410.2 C57.4,412.6 55.6,414.6 54.1,416.0 C52.9,417.3 51.6,417.9 50.3,417.9 C49.0,417.9 47.7,417.3 46.5,416.0 C45.0,414.6 43.2,412.6 42.3,410.2 C41.7,408.6 41.1,407.2 40.9,405.2 C40.7,403.0 41.4,400.8 42.8,399.0 C44.0,393.6 47.0,390.2 50.3,390.2 Z" fill="#c9c9c9" stroke="#4a4a4a" stroke-width="0.85"/>
<path d="M41.6,401.2 C43.6,398.6 47.6,399.6 48.8,405.2 M59.0,401.2 C57.0,398.6 53.0,399.6 51.8,405.2" fill="none" stroke="#555" stroke-width="0.9"/>
<path d="M42.0,403.0 C43.9,400.9 46.9,401.6 47.9,405.4 M58.6,403.0 C56.7,400.9 53.7,401.6 52.7,405.4" fill="none" stroke="#777" stroke-width="0.6"/>
<circle cx="47.6" cy="412.0" r="1.0" fill="#111"/><circle cx="52.3" cy="412.0" r="1.0" fill="#111"/>
<path d="M46.6,415.0 C48.5,416.0 52.1,416.0 54.0,415.0 L52.5,417.3 C51.2,418.2 49.4,418.2 48.1,417.3 Z" fill="#222"/>
<path d="M46.0,415.2 L42.6,413.8 M46.0,415.8 L42.8,417.0 M46.4,416.4 L44.0,418.9 M54.6,415.2 L58.0,413.8 M54.6,415.8 L57.8,417.0 M54.2,416.4 L56.6,418.9" stroke="#444" stroke-width="0.45"/>
<line x1="50.3" y1="391.0" x2="49.8" y2="393.5" stroke="#777" stroke-width="0.5"/>
</g>
<g transform="translate(316.70,526.90) rotate(-61) scale(0.64)" stroke="#222" fill="none" stroke-linecap="round"><line x1="0.3" y1="0" x2="6.5" y2="0" stroke-width="0.75"/><path d="M6.0,0 L7.6,-1.6 L9.2,0 L7.6,1.6 Z" fill="#333" stroke-width="0.6"/><path d="M7.6,-3.0 L7.6,3.0" stroke-width="0.8"/><rect x="8.8" y="-1.75" width="9.2" height="3.5" stroke-width="0.9" fill="#fff"/><line x1="10.2" y1="0" x2="17.2" y2="0" stroke-width="0.55" stroke="#666"/><line x1="18" y1="-3.4" x2="18" y2="3.4" stroke-width="0.95"/><circle cx="18.5" cy="-3.7" r="0.95" stroke-width="0.7"/><circle cx="18.5" cy="3.7" r="0.95" stroke-width="0.7"/><line x1="18" y1="0" x2="21.6" y2="0" stroke-width="0.9"/><line x1="21.6" y1="-2.4" x2="21.6" y2="2.4" stroke-width="1.0"/></g>
<text x="294.30" y="566.20" font-size="8.6" stroke="#262626" stroke-width="0.14" textLength="35.40" lengthAdjust="spacingAndGlyphs" >NSG mice</text>
<text x="281.00" y="575.60" font-size="8.3" stroke="#262626" stroke-width="0.14" textLength="62.10" lengthAdjust="spacingAndGlyphs" >tail vein injections</text>
<text x="142.00" y="587.60" font-size="11.8" font-weight="bold" fill="#000" stroke="#000" stroke-width="0.35">F</text>
<line x1="184.20" y1="587.40" x2="184.20" y2="681.40" stroke="#000" stroke-width="1.3" />
<line x1="183.60" y1="680.80" x2="335.80" y2="680.80" stroke="#000" stroke-width="1.3" />
<line x1="181.60" y1="680.80" x2="184.20" y2="680.80" stroke="#000" stroke-width="0.9" />
<text x="177.70" y="683.60" font-size="8.0" text-anchor="end" stroke="#262626" stroke-width="0.14" >0</text>
<line x1="181.60" y1="663.00" x2="184.20" y2="663.00" stroke="#000" stroke-width="0.9" />
<text x="177.70" y="665.80" font-size="8.0" text-anchor="end" stroke="#262626" stroke-width="0.14" >20</text>
<line x1="181.60" y1="645.20" x2="184.20" y2="645.20" stroke="#000" stroke-width="0.9" />
<text x="177.70" y="648.00" font-size="8.0" text-anchor="end" stroke="#262626" stroke-width="0.14" >40</text>
<line x1="181.60" y1="627.40" x2="184.20" y2="627.40" stroke="#000" stroke-width="0.9" />
<text x="177.70" y="630.20" font-size="8.0" text-anchor="end" stroke="#262626" stroke-width="0.14" >60</text>
<line x1="181.60" y1="609.60" x2="184.20" y2="609.60" stroke="#000" stroke-width="0.9" />
<text x="177.70" y="612.40" font-size="8.0" text-anchor="end" stroke="#262626" stroke-width="0.14" >80</text>
<line x1="181.60" y1="591.80" x2="184.20" y2="591.80" stroke="#000" stroke-width="0.9" />
<text x="177.70" y="594.60" font-size="8.0" text-anchor="end" stroke="#262626" stroke-width="0.14" >100</text>
<line x1="184.10" y1="680.80" x2="184.10" y2="683.40" stroke="#000" stroke-width="0.9" />
<text x="184.10" y="693.30" font-size="8.0" text-anchor="middle" stroke="#262626" stroke-width="0.14" >0</text>
<line x1="221.06" y1="680.80" x2="221.06" y2="683.40" stroke="#000" stroke-width="0.9" />
<text x="221.06" y="693.30" font-size="8.0" text-anchor="middle" stroke="#262626" stroke-width="0.14" >20</text>
<line x1="258.02" y1="680.80" x2="258.02" y2="683.40" stroke="#000" stroke-width="0.9" />
<text x="258.02" y="693.30" font-size="8.0" text-anchor="middle" stroke="#262626" stroke-width="0.14" >40</text>
<line x1="294.98" y1="680.80" x2="294.98" y2="683.40" stroke="#000" stroke-width="0.9" />
<text x="294.98" y="693.30" font-size="8.0" text-anchor="middle" stroke="#262626" stroke-width="0.14" >60</text>
<line x1="331.94" y1="680.80" x2="331.94" y2="683.40" stroke="#000" stroke-width="0.9" />
<text x="331.94" y="693.30" font-size="8.0" text-anchor="middle" stroke="#262626" stroke-width="0.14" >80</text>
<text x="250.60" y="705.00" font-size="8.6" stroke="#262626" stroke-width="0.14" textLength="15.40" lengthAdjust="spacingAndGlyphs" >Days</text>
<text x="0" y="0" font-size="8.4" text-anchor="middle" stroke="#262626" stroke-width="0.14" textLength="64.90" lengthAdjust="spacingAndGlyphs" transform="translate(160.00,636.40) rotate(-90)">Percent survival (%)</text>
<text x="195.00" y="615.90" font-size="8.0" stroke="#262626" stroke-width="0.14" textLength="35.20" lengthAdjust="spacingAndGlyphs" >Treatment</text>
<text x="204.60" y="625.60" font-size="8.0" stroke="#262626" stroke-width="0.14" textLength="15.80" lengthAdjust="spacingAndGlyphs" >start</text>
<line x1="212.7" y1="598.3" x2="212.7" y2="608.7" stroke="#d32a4c" stroke-width="1.5"/>
<path d="M209.7,598.9 L212.7,598.3 L215.7,598.9 L212.7,593.9 Z" fill="#cc0a2a"/>
<text x="203.80" y="658.00" font-size="8.1" stroke="#262626" stroke-width="0.14" textLength="29.30" lengthAdjust="spacingAndGlyphs" >P&lt;0.001</text>
<polyline points="184.20,591.90 306.00,591.90 306.00,621.00 307.30,621.00 307.30,631.30 313.10,631.30 313.10,641.50 318.80,641.50 318.80,651.50 320.40,651.50 320.40,670.80 326.20,670.80 326.20,680.80" fill="none" stroke="#6a2f8f" stroke-width="1.3" />
<polyline points="184.20,591.90 269.20,591.90 269.20,604.40 284.20,604.40 284.20,617.10 289.40,617.10 289.40,642.90 291.00,642.90 291.00,655.60 294.80,655.60 294.80,680.80" fill="none" stroke="#175896" stroke-width="1.3" />
<polyline points="184.20,591.90 256.00,591.90 256.00,601.50 259.60,601.50 259.60,611.30 261.20,611.30 261.20,621.00 266.90,621.00 266.90,631.30 280.40,631.30 280.40,661.20 289.00,661.20 289.00,671.00 291.50,671.00 291.50,680.80" fill="none" stroke="#4cbb5c" stroke-width="1.3" />
<line x1="330.00" y1="596.50" x2="340.00" y2="596.50" stroke="#4cbb5c" stroke-width="1.3" />
<line x1="335.00" y1="596.50" x2="335.00" y2="594.70" stroke="#222" stroke-width="0.7" />
<text x="343.40" y="599.10" font-size="7.4" stroke="#262626" stroke-width="0.14" textLength="23.50" lengthAdjust="spacingAndGlyphs" >Vehicle</text>
<line x1="330.00" y1="609.20" x2="340.00" y2="609.20" stroke="#175896" stroke-width="1.3" />
<line x1="335.00" y1="609.20" x2="335.00" y2="607.40" stroke="#222" stroke-width="0.7" />
<text x="343.40" y="611.80" font-size="7.4" stroke="#262626" stroke-width="0.14" textLength="31.20" lengthAdjust="spacingAndGlyphs" >NK+IgG1</text>
<line x1="330.00" y1="621.90" x2="340.00" y2="621.90" stroke="#6a2f8f" stroke-width="1.3" />
<line x1="335.00" y1="621.90" x2="335.00" y2="620.10" stroke="#222" stroke-width="0.7" />
<text x="343.40" y="624.50" font-size="7.4" stroke="#262626" stroke-width="0.14" textLength="34.80" lengthAdjust="spacingAndGlyphs" >NK+T-1A5</text>
</svg></body></html>
